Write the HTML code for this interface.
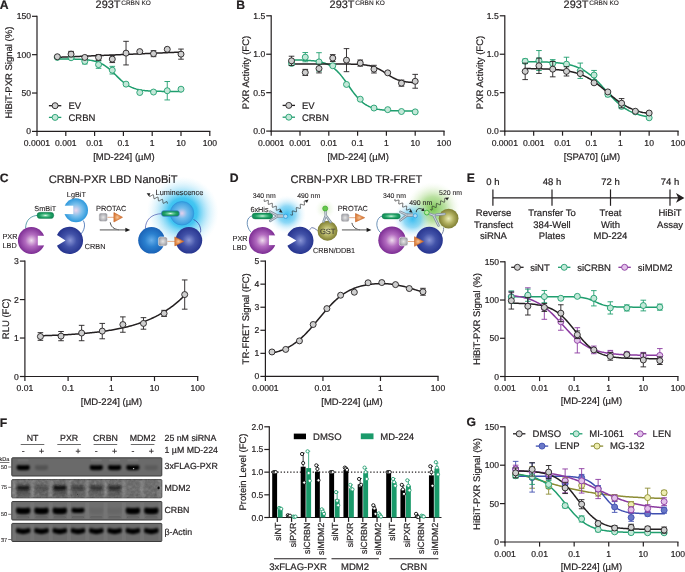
<!DOCTYPE html>
<html><head><meta charset="utf-8"><style>
html,body{margin:0;padding:0;background:#fff;width:685px;height:572px;overflow:hidden}
svg{display:block;will-change:transform}
text{font-family:"Liberation Sans",sans-serif;text-rendering:geometricPrecision}
</style></head><body>
<svg width="685" height="572" viewBox="0 0 685 572">
<defs>

<radialGradient id="gPu" cx="50%" cy="50%" r="50%"><stop offset="0" stop-color="#f0dcee"/><stop offset="0.45" stop-color="#b36cc0"/><stop offset="1" stop-color="#7d2d94"/></radialGradient>
<radialGradient id="gNv" cx="50%" cy="50%" r="50%"><stop offset="0" stop-color="#8a96d6"/><stop offset="0.5" stop-color="#4252a8"/><stop offset="1" stop-color="#27358f"/></radialGradient>
<radialGradient id="gBl" cx="50%" cy="50%" r="50%"><stop offset="0" stop-color="#66aeea"/><stop offset="0.5" stop-color="#2a80cf"/><stop offset="1" stop-color="#1a62b6"/></radialGradient>
<radialGradient id="gLg" cx="50%" cy="50%" r="50%"><stop offset="0" stop-color="#efd6ec"/><stop offset="0.5" stop-color="#7cc0ec"/><stop offset="1" stop-color="#2c98dc"/></radialGradient>
<radialGradient id="gLg2" cx="50%" cy="50%" r="50%"><stop offset="0" stop-color="#e4d0ec"/><stop offset="0.45" stop-color="#74bcec"/><stop offset="1" stop-color="#369ee0"/></radialGradient>
<radialGradient id="gOl" cx="50%" cy="50%" r="50%"><stop offset="0" stop-color="#ecedb8"/><stop offset="0.5" stop-color="#b3b262"/><stop offset="1" stop-color="#7e7d32"/></radialGradient>
<radialGradient id="gRod" cx="50%" cy="50%" r="50%"><stop offset="0" stop-color="#e6f6ee"/><stop offset="0.3" stop-color="#6ccc9c"/><stop offset="0.7" stop-color="#1fa064"/><stop offset="1" stop-color="#138c55"/></radialGradient>
<radialGradient id="gGray" cx="50%" cy="50%" r="55%"><stop offset="0" stop-color="#e6e6e6"/><stop offset="0.6" stop-color="#b8b8bc"/><stop offset="1" stop-color="#929298"/></radialGradient>
<radialGradient id="gOr" cx="40%" cy="50%" r="55%"><stop offset="0" stop-color="#f4c49a"/><stop offset="0.5" stop-color="#e49050"/><stop offset="1" stop-color="#d27030"/></radialGradient>
<radialGradient id="gGlowB" cx="50%" cy="50%" r="50%"><stop offset="0" stop-color="#18b4ee" stop-opacity="1"/><stop offset="0.4" stop-color="#30bff0" stop-opacity="0.9"/><stop offset="0.7" stop-color="#8ad8f6" stop-opacity="0.45"/><stop offset="1" stop-color="#d0f0fc" stop-opacity="0"/></radialGradient>
<radialGradient id="gGlowB2" cx="50%" cy="50%" r="50%"><stop offset="0" stop-color="#30baf0" stop-opacity="0.95"/><stop offset="0.45" stop-color="#60c8f2" stop-opacity="0.7"/><stop offset="0.75" stop-color="#a8e0f8" stop-opacity="0.3"/><stop offset="1" stop-color="#d8f2fc" stop-opacity="0"/></radialGradient>
<radialGradient id="gGlowG" cx="50%" cy="50%" r="50%"><stop offset="0" stop-color="#72c24a" stop-opacity="0.95"/><stop offset="0.45" stop-color="#9cd478" stop-opacity="0.7"/><stop offset="0.75" stop-color="#cce8b4" stop-opacity="0.35"/><stop offset="1" stop-color="#eef8e6" stop-opacity="0"/></radialGradient>
<radialGradient id="gGlowG2" cx="50%" cy="50%" r="50%"><stop offset="0" stop-color="#c0e4a0" stop-opacity="0.7"/><stop offset="1" stop-color="#eef8e6" stop-opacity="0"/></radialGradient>
<filter id="bl" x="-30%" y="-80%" width="160%" height="260%"><feGaussianBlur stdDeviation="0.7"/></filter>
<filter id="bl2" filterUnits="userSpaceOnUse" x="0" y="0" width="685" height="572"><feGaussianBlur stdDeviation="0.8"/></filter>
<filter id="noise" x="0" y="0" width="100%" height="100%"><feTurbulence type="fractalNoise" baseFrequency="0.35" numOctaves="2" seed="5"/><feColorMatrix type="saturate" values="0"/><feComponentTransfer><feFuncR type="linear" slope="1.6" intercept="-0.3"/><feFuncG type="linear" slope="1.6" intercept="-0.3"/><feFuncB type="linear" slope="1.6" intercept="-0.3"/></feComponentTransfer></filter>

</defs>
<text x="-0.30" y="8.80" font-size="12.2" text-anchor="start" fill="#231f20" stroke="#231f20" stroke-width="0.2" font-weight="bold">A</text>
<text x="95.60" y="8.40" font-size="10.9" text-anchor="start" fill="#231f20" stroke="#231f20" stroke-width="0.2">293T</text>
<text x="121.20" y="4.90" font-size="6.5" text-anchor="start" fill="#231f20" stroke="#231f20" stroke-width="0.1">CRBN KO</text>
<line x1="37.00" y1="15.70" x2="37.00" y2="132.00" stroke="#231f20" stroke-width="1.2"/>
<line x1="36.40" y1="131.40" x2="210.40" y2="131.40" stroke="#231f20" stroke-width="1.2"/>
<line x1="32.00" y1="131.40" x2="37.00" y2="131.40" stroke="#231f20" stroke-width="1.2"/>
<text x="31.00" y="134.40" font-size="8.6" text-anchor="end" fill="#231f20" stroke="#231f20" stroke-width="0.2">0</text>
<line x1="32.00" y1="93.03" x2="37.00" y2="93.03" stroke="#231f20" stroke-width="1.2"/>
<text x="31.00" y="96.03" font-size="8.6" text-anchor="end" fill="#231f20" stroke="#231f20" stroke-width="0.2">50</text>
<line x1="32.00" y1="54.67" x2="37.00" y2="54.67" stroke="#231f20" stroke-width="1.2"/>
<text x="31.00" y="57.67" font-size="8.6" text-anchor="end" fill="#231f20" stroke="#231f20" stroke-width="0.2">100</text>
<line x1="32.00" y1="16.30" x2="37.00" y2="16.30" stroke="#231f20" stroke-width="1.2"/>
<text x="31.00" y="19.30" font-size="8.6" text-anchor="end" fill="#231f20" stroke="#231f20" stroke-width="0.2">150</text>
<line x1="37.00" y1="131.40" x2="37.00" y2="136.00" stroke="#231f20" stroke-width="1.2"/>
<text x="37.00" y="146.00" font-size="8.6" text-anchor="middle" fill="#231f20" stroke="#231f20" stroke-width="0.2">0.0001</text>
<line x1="65.80" y1="131.40" x2="65.80" y2="136.00" stroke="#231f20" stroke-width="1.2"/>
<text x="65.80" y="146.00" font-size="8.6" text-anchor="middle" fill="#231f20" stroke="#231f20" stroke-width="0.2">0.001</text>
<line x1="94.60" y1="131.40" x2="94.60" y2="136.00" stroke="#231f20" stroke-width="1.2"/>
<text x="94.60" y="146.00" font-size="8.6" text-anchor="middle" fill="#231f20" stroke="#231f20" stroke-width="0.2">0.01</text>
<line x1="123.40" y1="131.40" x2="123.40" y2="136.00" stroke="#231f20" stroke-width="1.2"/>
<text x="123.40" y="146.00" font-size="8.6" text-anchor="middle" fill="#231f20" stroke="#231f20" stroke-width="0.2">0.1</text>
<line x1="152.20" y1="131.40" x2="152.20" y2="136.00" stroke="#231f20" stroke-width="1.2"/>
<text x="152.20" y="146.00" font-size="8.6" text-anchor="middle" fill="#231f20" stroke="#231f20" stroke-width="0.2">1</text>
<line x1="181.00" y1="131.40" x2="181.00" y2="136.00" stroke="#231f20" stroke-width="1.2"/>
<text x="181.00" y="146.00" font-size="8.6" text-anchor="middle" fill="#231f20" stroke="#231f20" stroke-width="0.2">10</text>
<line x1="209.80" y1="131.40" x2="209.80" y2="136.00" stroke="#231f20" stroke-width="1.2"/>
<text x="209.80" y="146.00" font-size="8.6" text-anchor="middle" fill="#231f20" stroke="#231f20" stroke-width="0.2">100</text>
<text x="11.80" y="72.60" font-size="9.5" text-anchor="middle" fill="#231f20" stroke="#231f20" stroke-width="0.2" transform="rotate(-90 11.80 72.60)">HiBiT-PXR Signal (%)</text>
<text x="123.90" y="159.70" font-size="9.5" text-anchor="middle" fill="#231f20" stroke="#231f20" stroke-width="0.2">[MD-224] (µM)</text>
<polyline points="56.29,58.94 57.33,58.94 58.38,58.95 59.43,58.95 60.48,58.96 61.52,58.96 62.57,58.97 63.62,58.97 64.67,58.98 65.71,58.99 66.76,59.00 67.81,59.01 68.85,59.02 69.90,59.04 70.95,59.05 72.00,59.07 73.04,59.09 74.09,59.12 75.14,59.14 76.19,59.17 77.23,59.21 78.28,59.25 79.33,59.29 80.38,59.34 81.42,59.40 82.47,59.46 83.52,59.53 84.56,59.62 85.61,59.71 86.66,59.81 87.71,59.93 88.75,60.06 89.80,60.22 90.85,60.38 91.90,60.57 92.94,60.79 93.99,61.03 95.04,61.29 96.08,61.59 97.13,61.92 98.18,62.29 99.23,62.69 100.27,63.14 101.32,63.63 102.37,64.17 103.42,64.76 104.46,65.40 105.51,66.09 106.56,66.83 107.60,67.62 108.65,68.46 109.70,69.35 110.75,70.27 111.79,71.24 112.84,72.23 113.89,73.25 114.94,74.28 115.98,75.32 117.03,76.36 118.08,77.39 119.12,78.40 120.17,79.39 121.22,80.35 122.27,81.26 123.31,82.14 124.36,82.97 125.41,83.75 126.46,84.48 127.50,85.16 128.55,85.79 129.60,86.36 130.65,86.89 131.69,87.38 132.74,87.81 133.79,88.21 134.83,88.57 135.88,88.89 136.93,89.18 137.98,89.44 139.02,89.68 140.07,89.89 141.12,90.07 142.17,90.24 143.21,90.38 144.26,90.51 145.31,90.63 146.35,90.73 147.40,90.82 148.45,90.90 149.50,90.97 150.54,91.03 151.59,91.09 152.64,91.14 153.69,91.18 154.73,91.22 155.78,91.25 156.83,91.28 157.87,91.31 158.92,91.33 159.97,91.35 161.02,91.37 162.06,91.38 163.11,91.40 164.16,91.41 165.21,91.42 166.25,91.43 167.30,91.44 168.35,91.44 169.40,91.45 170.44,91.46 171.49,91.46 172.54,91.47 173.58,91.47 174.63,91.47 175.68,91.48 176.73,91.48 177.77,91.48 178.82,91.48 179.87,91.49 180.92,91.49 181.96,91.49" fill="none" stroke="#1f9e6e" stroke-width="1.5" stroke-linejoin="round"/>
<polyline points="56.29,57.39 57.33,57.34 58.38,57.30 59.43,57.26 60.48,57.21 61.52,57.17 62.57,57.12 63.62,57.08 64.67,57.03 65.71,56.99 66.76,56.94 67.81,56.90 68.85,56.85 69.90,56.81 70.95,56.76 72.00,56.72 73.04,56.68 74.09,56.63 75.14,56.59 76.19,56.54 77.23,56.50 78.28,56.45 79.33,56.41 80.38,56.36 81.42,56.32 82.47,56.27 83.52,56.23 84.56,56.18 85.61,56.14 86.66,56.09 87.71,56.05 88.75,56.01 89.80,55.96 90.85,55.92 91.90,55.87 92.94,55.83 93.99,55.78 95.04,55.74 96.08,55.69 97.13,55.65 98.18,55.60 99.23,55.56 100.27,55.51 101.32,55.47 102.37,55.43 103.42,55.38 104.46,55.34 105.51,55.29 106.56,55.25 107.60,55.20 108.65,55.16 109.70,55.11 110.75,55.07 111.79,55.02 112.84,54.98 113.89,54.93 114.94,54.89 115.98,54.84 117.03,54.80 118.08,54.76 119.12,54.71 120.17,54.67 121.22,54.62 122.27,54.58 123.31,54.53 124.36,54.49 125.41,54.44 126.46,54.40 127.50,54.35 128.55,54.31 129.60,54.26 130.65,54.22 131.69,54.18 132.74,54.13 133.79,54.09 134.83,54.04 135.88,54.00 136.93,53.95 137.98,53.91 139.02,53.86 140.07,53.82 141.12,53.77 142.17,53.73 143.21,53.68 144.26,53.64 145.31,53.59 146.35,53.55 147.40,53.51 148.45,53.46 149.50,53.42 150.54,53.37 151.59,53.33 152.64,53.28 153.69,53.24 154.73,53.19 155.78,53.15 156.83,53.10 157.87,53.06 158.92,53.01 159.97,52.97 161.02,52.92 162.06,52.88 163.11,52.84 164.16,52.79 165.21,52.75 166.25,52.70 167.30,52.66 168.35,52.61 169.40,52.57 170.44,52.52 171.49,52.48 172.54,52.43 173.58,52.39 174.63,52.34 175.68,52.30 176.73,52.26 177.77,52.21 178.82,52.17 179.87,52.12 180.92,52.08 181.96,52.03" fill="none" stroke="#231f20" stroke-width="1.5" stroke-linejoin="round"/>
<line x1="84.81" y1="58.73" x2="84.81" y2="63.95" stroke="#1f9e6e" stroke-width="0.9"/>
<line x1="82.01" y1="58.73" x2="87.61" y2="58.73" stroke="#1f9e6e" stroke-width="0.9"/>
<line x1="82.01" y1="63.95" x2="87.61" y2="63.95" stroke="#1f9e6e" stroke-width="0.9"/>
<line x1="98.55" y1="60.96" x2="98.55" y2="68.33" stroke="#1f9e6e" stroke-width="0.9"/>
<line x1="95.75" y1="60.96" x2="101.35" y2="60.96" stroke="#1f9e6e" stroke-width="0.9"/>
<line x1="95.75" y1="68.33" x2="101.35" y2="68.33" stroke="#1f9e6e" stroke-width="0.9"/>
<line x1="112.29" y1="66.33" x2="112.29" y2="74.00" stroke="#1f9e6e" stroke-width="0.9"/>
<line x1="109.49" y1="66.33" x2="115.09" y2="66.33" stroke="#1f9e6e" stroke-width="0.9"/>
<line x1="109.49" y1="74.00" x2="115.09" y2="74.00" stroke="#1f9e6e" stroke-width="0.9"/>
<line x1="167.26" y1="81.52" x2="167.26" y2="99.94" stroke="#1f9e6e" stroke-width="0.9"/>
<line x1="164.46" y1="81.52" x2="170.06" y2="81.52" stroke="#1f9e6e" stroke-width="0.9"/>
<line x1="164.46" y1="99.94" x2="170.06" y2="99.94" stroke="#1f9e6e" stroke-width="0.9"/>
<circle cx="57.33" cy="57.43" r="3.0" fill="#c3e8d8" stroke="#1f9e6e" stroke-width="0.9"/>
<circle cx="71.07" cy="57.74" r="3.0" fill="#c3e8d8" stroke="#1f9e6e" stroke-width="0.9"/>
<circle cx="84.81" cy="61.34" r="3.0" fill="#c3e8d8" stroke="#1f9e6e" stroke-width="0.9"/>
<circle cx="98.55" cy="64.64" r="3.0" fill="#c3e8d8" stroke="#1f9e6e" stroke-width="0.9"/>
<circle cx="112.29" cy="70.17" r="3.0" fill="#c3e8d8" stroke="#1f9e6e" stroke-width="0.9"/>
<circle cx="126.04" cy="84.13" r="3.0" fill="#c3e8d8" stroke="#1f9e6e" stroke-width="0.9"/>
<circle cx="139.78" cy="92.50" r="3.0" fill="#c3e8d8" stroke="#1f9e6e" stroke-width="0.9"/>
<circle cx="153.52" cy="92.04" r="3.0" fill="#c3e8d8" stroke="#1f9e6e" stroke-width="0.9"/>
<circle cx="167.26" cy="90.73" r="3.0" fill="#c3e8d8" stroke="#1f9e6e" stroke-width="0.9"/>
<circle cx="181.00" cy="89.20" r="3.0" fill="#c3e8d8" stroke="#1f9e6e" stroke-width="0.9"/>
<line x1="71.07" y1="51.37" x2="71.07" y2="56.89" stroke="#231f20" stroke-width="0.9"/>
<line x1="68.27" y1="51.37" x2="73.87" y2="51.37" stroke="#231f20" stroke-width="0.9"/>
<line x1="68.27" y1="56.89" x2="73.87" y2="56.89" stroke="#231f20" stroke-width="0.9"/>
<line x1="98.55" y1="54.51" x2="98.55" y2="60.34" stroke="#231f20" stroke-width="0.9"/>
<line x1="95.75" y1="54.51" x2="101.35" y2="54.51" stroke="#231f20" stroke-width="0.9"/>
<line x1="95.75" y1="60.34" x2="101.35" y2="60.34" stroke="#231f20" stroke-width="0.9"/>
<line x1="112.29" y1="55.66" x2="112.29" y2="62.57" stroke="#231f20" stroke-width="0.9"/>
<line x1="109.49" y1="55.66" x2="115.09" y2="55.66" stroke="#231f20" stroke-width="0.9"/>
<line x1="109.49" y1="62.57" x2="115.09" y2="62.57" stroke="#231f20" stroke-width="0.9"/>
<line x1="126.04" y1="41.32" x2="126.04" y2="64.95" stroke="#231f20" stroke-width="0.9"/>
<line x1="123.24" y1="41.32" x2="128.84" y2="41.32" stroke="#231f20" stroke-width="0.9"/>
<line x1="123.24" y1="64.95" x2="128.84" y2="64.95" stroke="#231f20" stroke-width="0.9"/>
<line x1="153.52" y1="50.68" x2="153.52" y2="56.66" stroke="#231f20" stroke-width="0.9"/>
<line x1="150.72" y1="50.68" x2="156.32" y2="50.68" stroke="#231f20" stroke-width="0.9"/>
<line x1="150.72" y1="56.66" x2="156.32" y2="56.66" stroke="#231f20" stroke-width="0.9"/>
<line x1="181.00" y1="49.07" x2="181.00" y2="59.19" stroke="#231f20" stroke-width="0.9"/>
<line x1="178.20" y1="49.07" x2="183.80" y2="49.07" stroke="#231f20" stroke-width="0.9"/>
<line x1="178.20" y1="59.19" x2="183.80" y2="59.19" stroke="#231f20" stroke-width="0.9"/>
<circle cx="57.33" cy="56.74" r="3.0" fill="#cfcfcf" stroke="#231f20" stroke-width="0.9"/>
<circle cx="71.07" cy="54.13" r="3.0" fill="#cfcfcf" stroke="#231f20" stroke-width="0.9"/>
<circle cx="84.81" cy="57.43" r="3.0" fill="#cfcfcf" stroke="#231f20" stroke-width="0.9"/>
<circle cx="98.55" cy="57.43" r="3.0" fill="#cfcfcf" stroke="#231f20" stroke-width="0.9"/>
<circle cx="112.29" cy="59.12" r="3.0" fill="#cfcfcf" stroke="#231f20" stroke-width="0.9"/>
<circle cx="126.04" cy="53.13" r="3.0" fill="#cfcfcf" stroke="#231f20" stroke-width="0.9"/>
<circle cx="139.78" cy="51.60" r="3.0" fill="#cfcfcf" stroke="#231f20" stroke-width="0.9"/>
<circle cx="153.52" cy="53.67" r="3.0" fill="#cfcfcf" stroke="#231f20" stroke-width="0.9"/>
<circle cx="167.26" cy="49.30" r="3.0" fill="#cfcfcf" stroke="#231f20" stroke-width="0.9"/>
<circle cx="181.00" cy="54.13" r="3.0" fill="#cfcfcf" stroke="#231f20" stroke-width="0.9"/>
<line x1="48.90" y1="105.70" x2="61.30" y2="105.70" stroke="#231f20" stroke-width="1.3"/>
<circle cx="55.10" cy="105.70" r="3.0" fill="#cfcfcf" stroke="#231f20" stroke-width="0.9"/>
<text x="68.50" y="109.00" font-size="9.5" text-anchor="start" fill="#231f20" stroke="#231f20" stroke-width="0.2">EV</text>
<line x1="48.90" y1="117.40" x2="61.30" y2="117.40" stroke="#1f9e6e" stroke-width="1.3"/>
<circle cx="55.10" cy="117.40" r="3.0" fill="#c3e8d8" stroke="#1f9e6e" stroke-width="0.9"/>
<text x="68.50" y="120.70" font-size="9.5" text-anchor="start" fill="#231f20" stroke="#231f20" stroke-width="0.2">CRBN</text>
<text x="236.30" y="8.80" font-size="12.2" text-anchor="start" fill="#231f20" stroke="#231f20" stroke-width="0.2" font-weight="bold">B</text>
<text x="329.60" y="8.40" font-size="10.9" text-anchor="start" fill="#231f20" stroke="#231f20" stroke-width="0.2">293T</text>
<text x="355.20" y="4.90" font-size="6.5" text-anchor="start" fill="#231f20" stroke="#231f20" stroke-width="0.1">CRBN KO</text>
<line x1="271.20" y1="15.20" x2="271.20" y2="131.70" stroke="#231f20" stroke-width="1.2"/>
<line x1="270.60" y1="131.10" x2="444.60" y2="131.10" stroke="#231f20" stroke-width="1.2"/>
<line x1="266.20" y1="131.10" x2="271.20" y2="131.10" stroke="#231f20" stroke-width="1.2"/>
<text x="265.20" y="134.10" font-size="8.6" text-anchor="end" fill="#231f20" stroke="#231f20" stroke-width="0.2">0.0</text>
<line x1="266.20" y1="92.67" x2="271.20" y2="92.67" stroke="#231f20" stroke-width="1.2"/>
<text x="265.20" y="95.67" font-size="8.6" text-anchor="end" fill="#231f20" stroke="#231f20" stroke-width="0.2">0.5</text>
<line x1="266.20" y1="54.23" x2="271.20" y2="54.23" stroke="#231f20" stroke-width="1.2"/>
<text x="265.20" y="57.23" font-size="8.6" text-anchor="end" fill="#231f20" stroke="#231f20" stroke-width="0.2">1.0</text>
<line x1="266.20" y1="15.80" x2="271.20" y2="15.80" stroke="#231f20" stroke-width="1.2"/>
<text x="265.20" y="18.80" font-size="8.6" text-anchor="end" fill="#231f20" stroke="#231f20" stroke-width="0.2">1.5</text>
<line x1="271.20" y1="131.10" x2="271.20" y2="135.70" stroke="#231f20" stroke-width="1.2"/>
<text x="271.20" y="145.70" font-size="8.6" text-anchor="middle" fill="#231f20" stroke="#231f20" stroke-width="0.2">0.0001</text>
<line x1="300.00" y1="131.10" x2="300.00" y2="135.70" stroke="#231f20" stroke-width="1.2"/>
<text x="300.00" y="145.70" font-size="8.6" text-anchor="middle" fill="#231f20" stroke="#231f20" stroke-width="0.2">0.001</text>
<line x1="328.80" y1="131.10" x2="328.80" y2="135.70" stroke="#231f20" stroke-width="1.2"/>
<text x="328.80" y="145.70" font-size="8.6" text-anchor="middle" fill="#231f20" stroke="#231f20" stroke-width="0.2">0.01</text>
<line x1="357.60" y1="131.10" x2="357.60" y2="135.70" stroke="#231f20" stroke-width="1.2"/>
<text x="357.60" y="145.70" font-size="8.6" text-anchor="middle" fill="#231f20" stroke="#231f20" stroke-width="0.2">0.1</text>
<line x1="386.40" y1="131.10" x2="386.40" y2="135.70" stroke="#231f20" stroke-width="1.2"/>
<text x="386.40" y="145.70" font-size="8.6" text-anchor="middle" fill="#231f20" stroke="#231f20" stroke-width="0.2">1</text>
<line x1="415.20" y1="131.10" x2="415.20" y2="135.70" stroke="#231f20" stroke-width="1.2"/>
<text x="415.20" y="145.70" font-size="8.6" text-anchor="middle" fill="#231f20" stroke="#231f20" stroke-width="0.2">10</text>
<line x1="444.00" y1="131.10" x2="444.00" y2="135.70" stroke="#231f20" stroke-width="1.2"/>
<text x="444.00" y="145.70" font-size="8.6" text-anchor="middle" fill="#231f20" stroke="#231f20" stroke-width="0.2">100</text>
<text x="248.60" y="72.50" font-size="9.5" text-anchor="middle" fill="#231f20" stroke="#231f20" stroke-width="0.2" transform="rotate(-90 248.60 72.50)">PXR Activity (FC)</text>
<text x="358.10" y="159.70" font-size="9.5" text-anchor="middle" fill="#231f20" stroke="#231f20" stroke-width="0.2">[MD-224] (µM)</text>
<polyline points="290.49,59.92 291.53,59.93 292.58,59.94 293.63,59.95 294.68,59.97 295.72,59.98 296.77,60.00 297.82,60.02 298.87,60.04 299.91,60.07 300.96,60.09 302.01,60.12 303.05,60.16 304.10,60.20 305.15,60.24 306.20,60.29 307.24,60.34 308.29,60.41 309.34,60.48 310.39,60.55 311.43,60.64 312.48,60.74 313.53,60.85 314.58,60.97 315.62,61.11 316.67,61.26 317.72,61.43 318.76,61.62 319.81,61.83 320.86,62.07 321.91,62.34 322.95,62.63 324.00,62.96 325.05,63.32 326.10,63.72 327.14,64.16 328.19,64.65 329.24,65.19 330.28,65.77 331.33,66.42 332.38,67.12 333.43,67.89 334.47,68.72 335.52,69.61 336.57,70.58 337.62,71.61 338.66,72.71 339.71,73.87 340.76,75.10 341.80,76.39 342.85,77.73 343.90,79.12 344.95,80.56 345.99,82.02 347.04,83.51 348.09,85.01 349.14,86.51 350.18,88.01 351.23,89.49 352.28,90.94 353.32,92.36 354.37,93.73 355.42,95.05 356.47,96.32 357.51,97.52 358.56,98.66 359.61,99.73 360.66,100.73 361.70,101.67 362.75,102.54 363.80,103.34 364.85,104.08 365.89,104.76 366.94,105.38 367.99,105.95 369.03,106.46 370.08,106.93 371.13,107.36 372.18,107.74 373.22,108.09 374.27,108.40 375.32,108.68 376.37,108.94 377.41,109.16 378.46,109.37 379.51,109.55 380.55,109.71 381.60,109.86 382.65,109.99 383.70,110.11 384.74,110.21 385.79,110.30 386.84,110.39 387.89,110.46 388.93,110.53 389.98,110.58 391.03,110.64 392.07,110.68 393.12,110.72 394.17,110.76 395.22,110.80 396.26,110.82 397.31,110.85 398.36,110.87 399.41,110.89 400.45,110.91 401.50,110.93 402.55,110.94 403.60,110.96 404.64,110.97 405.69,110.98 406.74,110.99 407.78,111.00 408.83,111.00 409.88,111.01 410.93,111.02 411.97,111.02 413.02,111.02 414.07,111.03 415.12,111.03 416.16,111.04" fill="none" stroke="#1f9e6e" stroke-width="1.5" stroke-linejoin="round"/>
<polyline points="290.49,63.99 291.53,63.99 292.58,63.99 293.63,63.99 294.68,63.99 295.72,63.99 296.77,63.99 297.82,63.99 298.87,63.99 299.91,63.99 300.96,63.99 302.01,63.99 303.05,63.99 304.10,63.99 305.15,63.99 306.20,63.99 307.24,63.99 308.29,63.99 309.34,63.99 310.39,63.99 311.43,63.99 312.48,63.99 313.53,63.99 314.58,63.99 315.62,63.99 316.67,63.99 317.72,63.99 318.76,63.99 319.81,63.99 320.86,63.99 321.91,63.99 322.95,63.99 324.00,63.99 325.05,63.99 326.10,63.99 327.14,63.99 328.19,63.99 329.24,63.99 330.28,64.00 331.33,64.00 332.38,64.00 333.43,64.00 334.47,64.00 335.52,64.00 336.57,64.01 337.62,64.01 338.66,64.01 339.71,64.02 340.76,64.02 341.80,64.03 342.85,64.03 343.90,64.04 344.95,64.05 345.99,64.06 347.04,64.07 348.09,64.08 349.14,64.10 350.18,64.11 351.23,64.13 352.28,64.15 353.32,64.18 354.37,64.21 355.42,64.25 356.47,64.29 357.51,64.33 358.56,64.38 359.61,64.45 360.66,64.52 361.70,64.60 362.75,64.69 363.80,64.79 364.85,64.91 365.89,65.05 366.94,65.21 367.99,65.39 369.03,65.59 370.08,65.82 371.13,66.07 372.18,66.36 373.22,66.68 374.27,67.04 375.32,67.43 376.37,67.86 377.41,68.33 378.46,68.84 379.51,69.39 380.55,69.97 381.60,70.59 382.65,71.23 383.70,71.89 384.74,72.57 385.79,73.26 386.84,73.96 387.89,74.64 388.93,75.32 389.98,75.97 391.03,76.60 392.07,77.21 393.12,77.77 394.17,78.30 395.22,78.80 396.26,79.25 397.31,79.67 398.36,80.04 399.41,80.38 400.45,80.69 401.50,80.96 402.55,81.21 403.60,81.42 404.64,81.61 405.69,81.78 406.74,81.93 407.78,82.06 408.83,82.18 409.88,82.28 410.93,82.36 411.97,82.44 413.02,82.50 414.07,82.56 415.12,82.61 416.16,82.66" fill="none" stroke="#231f20" stroke-width="1.5" stroke-linejoin="round"/>
<line x1="291.53" y1="61.92" x2="291.53" y2="64.99" stroke="#1f9e6e" stroke-width="0.9"/>
<line x1="288.73" y1="61.92" x2="294.33" y2="61.92" stroke="#1f9e6e" stroke-width="0.9"/>
<line x1="288.73" y1="64.99" x2="294.33" y2="64.99" stroke="#1f9e6e" stroke-width="0.9"/>
<line x1="305.27" y1="52.54" x2="305.27" y2="61.77" stroke="#1f9e6e" stroke-width="0.9"/>
<line x1="302.47" y1="52.54" x2="308.07" y2="52.54" stroke="#1f9e6e" stroke-width="0.9"/>
<line x1="302.47" y1="61.77" x2="308.07" y2="61.77" stroke="#1f9e6e" stroke-width="0.9"/>
<line x1="319.01" y1="52.70" x2="319.01" y2="71.14" stroke="#1f9e6e" stroke-width="0.9"/>
<line x1="316.21" y1="52.70" x2="321.81" y2="52.70" stroke="#1f9e6e" stroke-width="0.9"/>
<line x1="316.21" y1="71.14" x2="321.81" y2="71.14" stroke="#1f9e6e" stroke-width="0.9"/>
<circle cx="291.53" cy="63.46" r="3.0" fill="#c3e8d8" stroke="#1f9e6e" stroke-width="0.9"/>
<circle cx="305.27" cy="57.15" r="3.0" fill="#c3e8d8" stroke="#1f9e6e" stroke-width="0.9"/>
<circle cx="319.01" cy="61.92" r="3.0" fill="#c3e8d8" stroke="#1f9e6e" stroke-width="0.9"/>
<circle cx="332.75" cy="65.76" r="3.0" fill="#c3e8d8" stroke="#1f9e6e" stroke-width="0.9"/>
<circle cx="346.49" cy="84.44" r="3.0" fill="#c3e8d8" stroke="#1f9e6e" stroke-width="0.9"/>
<circle cx="360.24" cy="99.20" r="3.0" fill="#c3e8d8" stroke="#1f9e6e" stroke-width="0.9"/>
<circle cx="373.98" cy="108.04" r="3.0" fill="#c3e8d8" stroke="#1f9e6e" stroke-width="0.9"/>
<circle cx="387.72" cy="109.65" r="3.0" fill="#c3e8d8" stroke="#1f9e6e" stroke-width="0.9"/>
<circle cx="401.46" cy="111.50" r="3.0" fill="#c3e8d8" stroke="#1f9e6e" stroke-width="0.9"/>
<circle cx="415.20" cy="111.88" r="3.0" fill="#c3e8d8" stroke="#1f9e6e" stroke-width="0.9"/>
<line x1="291.53" y1="56.23" x2="291.53" y2="65.46" stroke="#231f20" stroke-width="0.9"/>
<line x1="288.73" y1="56.23" x2="294.33" y2="56.23" stroke="#231f20" stroke-width="0.9"/>
<line x1="288.73" y1="65.46" x2="294.33" y2="65.46" stroke="#231f20" stroke-width="0.9"/>
<line x1="305.27" y1="69.38" x2="305.27" y2="75.53" stroke="#231f20" stroke-width="0.9"/>
<line x1="302.47" y1="69.38" x2="308.07" y2="69.38" stroke="#231f20" stroke-width="0.9"/>
<line x1="302.47" y1="75.53" x2="308.07" y2="75.53" stroke="#231f20" stroke-width="0.9"/>
<line x1="319.01" y1="64.15" x2="319.01" y2="72.91" stroke="#231f20" stroke-width="0.9"/>
<line x1="316.21" y1="64.15" x2="321.81" y2="64.15" stroke="#231f20" stroke-width="0.9"/>
<line x1="316.21" y1="72.91" x2="321.81" y2="72.91" stroke="#231f20" stroke-width="0.9"/>
<line x1="332.75" y1="54.62" x2="332.75" y2="61.54" stroke="#231f20" stroke-width="0.9"/>
<line x1="329.95" y1="54.62" x2="335.55" y2="54.62" stroke="#231f20" stroke-width="0.9"/>
<line x1="329.95" y1="61.54" x2="335.55" y2="61.54" stroke="#231f20" stroke-width="0.9"/>
<line x1="346.49" y1="48.62" x2="346.49" y2="71.68" stroke="#231f20" stroke-width="0.9"/>
<line x1="343.69" y1="48.62" x2="349.29" y2="48.62" stroke="#231f20" stroke-width="0.9"/>
<line x1="343.69" y1="71.68" x2="349.29" y2="71.68" stroke="#231f20" stroke-width="0.9"/>
<line x1="360.24" y1="60.00" x2="360.24" y2="66.15" stroke="#231f20" stroke-width="0.9"/>
<line x1="357.44" y1="60.00" x2="363.04" y2="60.00" stroke="#231f20" stroke-width="0.9"/>
<line x1="357.44" y1="66.15" x2="363.04" y2="66.15" stroke="#231f20" stroke-width="0.9"/>
<line x1="373.98" y1="65.30" x2="373.98" y2="72.99" stroke="#231f20" stroke-width="0.9"/>
<line x1="371.18" y1="65.30" x2="376.78" y2="65.30" stroke="#231f20" stroke-width="0.9"/>
<line x1="371.18" y1="72.99" x2="376.78" y2="72.99" stroke="#231f20" stroke-width="0.9"/>
<line x1="401.46" y1="80.06" x2="401.46" y2="86.21" stroke="#231f20" stroke-width="0.9"/>
<line x1="398.66" y1="80.06" x2="404.26" y2="80.06" stroke="#231f20" stroke-width="0.9"/>
<line x1="398.66" y1="86.21" x2="404.26" y2="86.21" stroke="#231f20" stroke-width="0.9"/>
<line x1="415.20" y1="74.37" x2="415.20" y2="88.21" stroke="#231f20" stroke-width="0.9"/>
<line x1="412.40" y1="74.37" x2="418.00" y2="74.37" stroke="#231f20" stroke-width="0.9"/>
<line x1="412.40" y1="88.21" x2="418.00" y2="88.21" stroke="#231f20" stroke-width="0.9"/>
<circle cx="291.53" cy="60.84" r="3.0" fill="#cfcfcf" stroke="#231f20" stroke-width="0.9"/>
<circle cx="305.27" cy="72.45" r="3.0" fill="#cfcfcf" stroke="#231f20" stroke-width="0.9"/>
<circle cx="319.01" cy="68.53" r="3.0" fill="#cfcfcf" stroke="#231f20" stroke-width="0.9"/>
<circle cx="332.75" cy="58.08" r="3.0" fill="#cfcfcf" stroke="#231f20" stroke-width="0.9"/>
<circle cx="346.49" cy="60.15" r="3.0" fill="#cfcfcf" stroke="#231f20" stroke-width="0.9"/>
<circle cx="360.24" cy="63.07" r="3.0" fill="#cfcfcf" stroke="#231f20" stroke-width="0.9"/>
<circle cx="373.98" cy="69.15" r="3.0" fill="#cfcfcf" stroke="#231f20" stroke-width="0.9"/>
<circle cx="387.72" cy="72.84" r="3.0" fill="#cfcfcf" stroke="#231f20" stroke-width="0.9"/>
<circle cx="401.46" cy="83.14" r="3.0" fill="#cfcfcf" stroke="#231f20" stroke-width="0.9"/>
<circle cx="415.20" cy="81.29" r="3.0" fill="#cfcfcf" stroke="#231f20" stroke-width="0.9"/>
<line x1="282.60" y1="105.40" x2="295.00" y2="105.40" stroke="#231f20" stroke-width="1.3"/>
<circle cx="288.80" cy="105.40" r="3.0" fill="#cfcfcf" stroke="#231f20" stroke-width="0.9"/>
<text x="301.90" y="108.70" font-size="9.5" text-anchor="start" fill="#231f20" stroke="#231f20" stroke-width="0.2">EV</text>
<line x1="282.60" y1="117.20" x2="295.00" y2="117.20" stroke="#1f9e6e" stroke-width="1.3"/>
<circle cx="288.80" cy="117.20" r="3.0" fill="#c3e8d8" stroke="#1f9e6e" stroke-width="0.9"/>
<text x="301.90" y="120.50" font-size="9.5" text-anchor="start" fill="#231f20" stroke="#231f20" stroke-width="0.2">CRBN</text>
<text x="563.60" y="8.40" font-size="10.9" text-anchor="start" fill="#231f20" stroke="#231f20" stroke-width="0.2">293T</text>
<text x="589.20" y="4.90" font-size="6.5" text-anchor="start" fill="#231f20" stroke="#231f20" stroke-width="0.1">CRBN KO</text>
<line x1="504.80" y1="15.20" x2="504.80" y2="131.70" stroke="#231f20" stroke-width="1.2"/>
<line x1="504.20" y1="131.10" x2="678.62" y2="131.10" stroke="#231f20" stroke-width="1.2"/>
<line x1="499.80" y1="131.10" x2="504.80" y2="131.10" stroke="#231f20" stroke-width="1.2"/>
<text x="498.80" y="134.10" font-size="8.6" text-anchor="end" fill="#231f20" stroke="#231f20" stroke-width="0.2">0.0</text>
<line x1="499.80" y1="92.67" x2="504.80" y2="92.67" stroke="#231f20" stroke-width="1.2"/>
<text x="498.80" y="95.67" font-size="8.6" text-anchor="end" fill="#231f20" stroke="#231f20" stroke-width="0.2">0.5</text>
<line x1="499.80" y1="54.23" x2="504.80" y2="54.23" stroke="#231f20" stroke-width="1.2"/>
<text x="498.80" y="57.23" font-size="8.6" text-anchor="end" fill="#231f20" stroke="#231f20" stroke-width="0.2">1.0</text>
<line x1="499.80" y1="15.80" x2="504.80" y2="15.80" stroke="#231f20" stroke-width="1.2"/>
<text x="498.80" y="18.80" font-size="8.6" text-anchor="end" fill="#231f20" stroke="#231f20" stroke-width="0.2">1.5</text>
<line x1="504.80" y1="131.10" x2="504.80" y2="135.70" stroke="#231f20" stroke-width="1.2"/>
<text x="504.80" y="145.70" font-size="8.6" text-anchor="middle" fill="#231f20" stroke="#231f20" stroke-width="0.2">0.0001</text>
<line x1="533.67" y1="131.10" x2="533.67" y2="135.70" stroke="#231f20" stroke-width="1.2"/>
<text x="533.67" y="145.70" font-size="8.6" text-anchor="middle" fill="#231f20" stroke="#231f20" stroke-width="0.2">0.001</text>
<line x1="562.54" y1="131.10" x2="562.54" y2="135.70" stroke="#231f20" stroke-width="1.2"/>
<text x="562.54" y="145.70" font-size="8.6" text-anchor="middle" fill="#231f20" stroke="#231f20" stroke-width="0.2">0.01</text>
<line x1="591.41" y1="131.10" x2="591.41" y2="135.70" stroke="#231f20" stroke-width="1.2"/>
<text x="591.41" y="145.70" font-size="8.6" text-anchor="middle" fill="#231f20" stroke="#231f20" stroke-width="0.2">0.1</text>
<line x1="620.28" y1="131.10" x2="620.28" y2="135.70" stroke="#231f20" stroke-width="1.2"/>
<text x="620.28" y="145.70" font-size="8.6" text-anchor="middle" fill="#231f20" stroke="#231f20" stroke-width="0.2">1</text>
<line x1="649.15" y1="131.10" x2="649.15" y2="135.70" stroke="#231f20" stroke-width="1.2"/>
<text x="649.15" y="145.70" font-size="8.6" text-anchor="middle" fill="#231f20" stroke="#231f20" stroke-width="0.2">10</text>
<line x1="678.02" y1="131.10" x2="678.02" y2="135.70" stroke="#231f20" stroke-width="1.2"/>
<text x="678.02" y="145.70" font-size="8.6" text-anchor="middle" fill="#231f20" stroke="#231f20" stroke-width="0.2">100</text>
<text x="482.90" y="72.50" font-size="9.5" text-anchor="middle" fill="#231f20" stroke="#231f20" stroke-width="0.2" transform="rotate(-90 482.90 72.50)">PXR Activity (FC)</text>
<text x="591.91" y="159.70" font-size="9.5" text-anchor="middle" fill="#231f20" stroke="#231f20" stroke-width="0.2">[SPA70] (µM)</text>
<polyline points="524.13,61.59 525.18,61.60 526.23,61.61 527.28,61.62 528.33,61.63 529.38,61.64 530.43,61.66 531.48,61.67 532.53,61.69 533.58,61.70 534.63,61.72 535.68,61.74 536.73,61.76 537.78,61.78 538.83,61.81 539.88,61.83 540.93,61.86 541.98,61.90 543.03,61.93 544.08,61.97 545.13,62.01 546.18,62.05 547.23,62.10 548.28,62.15 549.33,62.20 550.38,62.26 551.43,62.33 552.48,62.40 553.53,62.48 554.58,62.56 555.63,62.65 556.68,62.74 557.73,62.85 558.78,62.96 559.83,63.08 560.88,63.21 561.93,63.36 562.98,63.51 564.03,63.67 565.08,63.85 566.13,64.04 567.18,64.25 568.23,64.47 569.28,64.71 570.33,64.97 571.38,65.25 572.43,65.54 573.48,65.86 574.53,66.20 575.58,66.57 576.63,66.96 577.68,67.38 578.73,67.82 579.78,68.30 580.83,68.80 581.88,69.34 582.93,69.91 583.98,70.51 585.02,71.15 586.07,71.82 587.12,72.53 588.17,73.28 589.22,74.06 590.27,74.88 591.32,75.73 592.37,76.63 593.42,77.55 594.47,78.51 595.52,79.50 596.57,80.53 597.62,81.58 598.67,82.65 599.72,83.75 600.77,84.87 601.82,86.01 602.87,87.16 603.92,88.32 604.97,89.48 606.02,90.65 607.07,91.82 608.12,92.98 609.17,94.13 610.22,95.26 611.27,96.38 612.32,97.48 613.37,98.56 614.42,99.61 615.47,100.64 616.52,101.63 617.57,102.59 618.62,103.52 619.67,104.41 620.72,105.27 621.77,106.09 622.82,106.88 623.87,107.62 624.92,108.33 625.97,109.01 627.02,109.65 628.07,110.25 629.12,110.82 630.17,111.36 631.22,111.87 632.27,112.35 633.32,112.79 634.37,113.21 635.42,113.60 636.47,113.97 637.52,114.31 638.57,114.63 639.62,114.93 640.67,115.21 641.72,115.47 642.77,115.71 643.82,115.93 644.87,116.14 645.92,116.33 646.97,116.51 648.02,116.67 649.07,116.83 650.11,116.97" fill="none" stroke="#1f9e6e" stroke-width="1.5" stroke-linejoin="round"/>
<polyline points="524.13,68.55 525.18,68.56 526.23,68.57 527.28,68.58 528.33,68.60 529.38,68.61 530.43,68.62 531.48,68.64 532.53,68.65 533.58,68.67 534.63,68.69 535.68,68.71 536.73,68.73 537.78,68.75 538.83,68.77 539.88,68.80 540.93,68.83 541.98,68.86 543.03,68.89 544.08,68.93 545.13,68.96 546.18,69.01 547.23,69.05 548.28,69.10 549.33,69.15 550.38,69.20 551.43,69.26 552.48,69.33 553.53,69.40 554.58,69.47 555.63,69.55 556.68,69.63 557.73,69.73 558.78,69.82 559.83,69.93 560.88,70.04 561.93,70.17 562.98,70.30 564.03,70.44 565.08,70.59 566.13,70.75 567.18,70.92 568.23,71.11 569.28,71.31 570.33,71.52 571.38,71.74 572.43,71.98 573.48,72.24 574.53,72.52 575.58,72.81 576.63,73.12 577.68,73.45 578.73,73.80 579.78,74.17 580.83,74.57 581.88,74.98 582.93,75.42 583.98,75.89 585.02,76.38 586.07,76.89 587.12,77.43 588.17,78.00 589.22,78.59 590.27,79.21 591.32,79.85 592.37,80.53 593.42,81.22 594.47,81.94 595.52,82.69 596.57,83.45 597.62,84.24 598.67,85.05 599.72,85.88 600.77,86.73 601.82,87.58 602.87,88.46 603.92,89.34 604.97,90.23 606.02,91.12 607.07,92.02 608.12,92.92 609.17,93.82 610.22,94.71 611.27,95.59 612.32,96.46 613.37,97.32 614.42,98.17 615.47,99.00 616.52,99.81 617.57,100.61 618.62,101.38 619.67,102.13 620.72,102.85 621.77,103.55 622.82,104.23 623.87,104.88 624.92,105.50 625.97,106.10 627.02,106.67 628.07,107.21 629.12,107.73 630.17,108.22 631.22,108.69 632.27,109.14 633.32,109.56 634.37,109.95 635.42,110.33 636.47,110.68 637.52,111.02 638.57,111.33 639.62,111.63 640.67,111.90 641.72,112.16 642.77,112.41 643.82,112.63 644.87,112.85 645.92,113.05 646.97,113.24 648.02,113.41 649.07,113.57 650.11,113.73" fill="none" stroke="#231f20" stroke-width="1.5" stroke-linejoin="round"/>
<line x1="525.18" y1="59.00" x2="525.18" y2="63.61" stroke="#1f9e6e" stroke-width="0.9"/>
<line x1="522.38" y1="59.00" x2="527.98" y2="59.00" stroke="#1f9e6e" stroke-width="0.9"/>
<line x1="522.38" y1="63.61" x2="527.98" y2="63.61" stroke="#1f9e6e" stroke-width="0.9"/>
<line x1="538.95" y1="50.54" x2="538.95" y2="70.53" stroke="#1f9e6e" stroke-width="0.9"/>
<line x1="536.15" y1="50.54" x2="541.75" y2="50.54" stroke="#1f9e6e" stroke-width="0.9"/>
<line x1="536.15" y1="70.53" x2="541.75" y2="70.53" stroke="#1f9e6e" stroke-width="0.9"/>
<line x1="552.73" y1="59.61" x2="552.73" y2="67.30" stroke="#1f9e6e" stroke-width="0.9"/>
<line x1="549.93" y1="59.61" x2="555.53" y2="59.61" stroke="#1f9e6e" stroke-width="0.9"/>
<line x1="549.93" y1="67.30" x2="555.53" y2="67.30" stroke="#1f9e6e" stroke-width="0.9"/>
<line x1="566.50" y1="57.23" x2="566.50" y2="71.07" stroke="#1f9e6e" stroke-width="0.9"/>
<line x1="563.70" y1="57.23" x2="569.30" y2="57.23" stroke="#1f9e6e" stroke-width="0.9"/>
<line x1="563.70" y1="71.07" x2="569.30" y2="71.07" stroke="#1f9e6e" stroke-width="0.9"/>
<line x1="580.28" y1="63.07" x2="580.28" y2="78.45" stroke="#1f9e6e" stroke-width="0.9"/>
<line x1="577.48" y1="63.07" x2="583.08" y2="63.07" stroke="#1f9e6e" stroke-width="0.9"/>
<line x1="577.48" y1="78.45" x2="583.08" y2="78.45" stroke="#1f9e6e" stroke-width="0.9"/>
<line x1="594.05" y1="70.45" x2="594.05" y2="79.68" stroke="#1f9e6e" stroke-width="0.9"/>
<line x1="591.25" y1="70.45" x2="596.85" y2="70.45" stroke="#1f9e6e" stroke-width="0.9"/>
<line x1="591.25" y1="79.68" x2="596.85" y2="79.68" stroke="#1f9e6e" stroke-width="0.9"/>
<line x1="607.83" y1="92.05" x2="607.83" y2="96.66" stroke="#1f9e6e" stroke-width="0.9"/>
<line x1="605.03" y1="92.05" x2="610.63" y2="92.05" stroke="#1f9e6e" stroke-width="0.9"/>
<line x1="605.03" y1="96.66" x2="610.63" y2="96.66" stroke="#1f9e6e" stroke-width="0.9"/>
<line x1="621.60" y1="104.04" x2="621.60" y2="108.65" stroke="#1f9e6e" stroke-width="0.9"/>
<line x1="618.80" y1="104.04" x2="624.40" y2="104.04" stroke="#1f9e6e" stroke-width="0.9"/>
<line x1="618.80" y1="108.65" x2="624.40" y2="108.65" stroke="#1f9e6e" stroke-width="0.9"/>
<circle cx="525.18" cy="61.31" r="3.0" fill="#c3e8d8" stroke="#1f9e6e" stroke-width="0.9"/>
<circle cx="538.95" cy="60.54" r="3.0" fill="#c3e8d8" stroke="#1f9e6e" stroke-width="0.9"/>
<circle cx="552.73" cy="63.46" r="3.0" fill="#c3e8d8" stroke="#1f9e6e" stroke-width="0.9"/>
<circle cx="566.50" cy="64.15" r="3.0" fill="#c3e8d8" stroke="#1f9e6e" stroke-width="0.9"/>
<circle cx="580.28" cy="70.76" r="3.0" fill="#c3e8d8" stroke="#1f9e6e" stroke-width="0.9"/>
<circle cx="594.05" cy="75.06" r="3.0" fill="#c3e8d8" stroke="#1f9e6e" stroke-width="0.9"/>
<circle cx="607.83" cy="94.36" r="3.0" fill="#c3e8d8" stroke="#1f9e6e" stroke-width="0.9"/>
<circle cx="621.60" cy="106.35" r="3.0" fill="#c3e8d8" stroke="#1f9e6e" stroke-width="0.9"/>
<circle cx="635.38" cy="111.88" r="3.0" fill="#c3e8d8" stroke="#1f9e6e" stroke-width="0.9"/>
<circle cx="649.15" cy="117.80" r="3.0" fill="#c3e8d8" stroke="#1f9e6e" stroke-width="0.9"/>
<line x1="525.18" y1="63.15" x2="525.18" y2="79.60" stroke="#231f20" stroke-width="0.9"/>
<line x1="522.38" y1="63.15" x2="527.98" y2="63.15" stroke="#231f20" stroke-width="0.9"/>
<line x1="522.38" y1="79.60" x2="527.98" y2="79.60" stroke="#231f20" stroke-width="0.9"/>
<line x1="538.95" y1="58.08" x2="538.95" y2="73.45" stroke="#231f20" stroke-width="0.9"/>
<line x1="536.15" y1="58.08" x2="541.75" y2="58.08" stroke="#231f20" stroke-width="0.9"/>
<line x1="536.15" y1="73.45" x2="541.75" y2="73.45" stroke="#231f20" stroke-width="0.9"/>
<line x1="552.73" y1="61.46" x2="552.73" y2="76.83" stroke="#231f20" stroke-width="0.9"/>
<line x1="549.93" y1="61.46" x2="555.53" y2="61.46" stroke="#231f20" stroke-width="0.9"/>
<line x1="549.93" y1="76.83" x2="555.53" y2="76.83" stroke="#231f20" stroke-width="0.9"/>
<line x1="566.50" y1="66.76" x2="566.50" y2="75.99" stroke="#231f20" stroke-width="0.9"/>
<line x1="563.70" y1="66.76" x2="569.30" y2="66.76" stroke="#231f20" stroke-width="0.9"/>
<line x1="563.70" y1="75.99" x2="569.30" y2="75.99" stroke="#231f20" stroke-width="0.9"/>
<line x1="621.60" y1="98.59" x2="621.60" y2="107.81" stroke="#231f20" stroke-width="0.9"/>
<line x1="618.80" y1="98.59" x2="624.40" y2="98.59" stroke="#231f20" stroke-width="0.9"/>
<line x1="618.80" y1="107.81" x2="624.40" y2="107.81" stroke="#231f20" stroke-width="0.9"/>
<circle cx="525.18" cy="71.37" r="3.0" fill="#cfcfcf" stroke="#231f20" stroke-width="0.9"/>
<circle cx="538.95" cy="65.76" r="3.0" fill="#cfcfcf" stroke="#231f20" stroke-width="0.9"/>
<circle cx="552.73" cy="69.15" r="3.0" fill="#cfcfcf" stroke="#231f20" stroke-width="0.9"/>
<circle cx="566.50" cy="71.37" r="3.0" fill="#cfcfcf" stroke="#231f20" stroke-width="0.9"/>
<circle cx="580.28" cy="73.60" r="3.0" fill="#cfcfcf" stroke="#231f20" stroke-width="0.9"/>
<circle cx="594.05" cy="82.83" r="3.0" fill="#cfcfcf" stroke="#231f20" stroke-width="0.9"/>
<circle cx="607.83" cy="91.90" r="3.0" fill="#cfcfcf" stroke="#231f20" stroke-width="0.9"/>
<circle cx="621.60" cy="103.20" r="3.0" fill="#cfcfcf" stroke="#231f20" stroke-width="0.9"/>
<circle cx="635.38" cy="111.27" r="3.0" fill="#cfcfcf" stroke="#231f20" stroke-width="0.9"/>
<circle cx="649.15" cy="113.04" r="3.0" fill="#cfcfcf" stroke="#231f20" stroke-width="0.9"/>
<text x="-0.30" y="181.80" font-size="12.2" text-anchor="start" fill="#231f20" stroke="#231f20" stroke-width="0.2" font-weight="bold">C</text>
<text x="48.70" y="183.40" font-size="11.1" text-anchor="start" fill="#231f20" stroke="#231f20" stroke-width="0.2">CRBN-PXR LBD NanoBiT</text>
<path d="M38.5,215.3 C31,215.5 25.5,220 25.6,228.5" fill="none" stroke="#3a8a98" stroke-width="0.8"/>
<path d="M83.2,220.5 C86,225 84,231 80.5,234.5" fill="none" stroke="#3a68b0" stroke-width="0.8"/>
<circle cx="76.00" cy="210.30" r="12.00" fill="url(#gLg)"/>
<rect x="63.50" y="205.70" width="9.80" height="8.40" fill="#fff"/>
<text x="76.40" y="196.60" font-size="7.3" text-anchor="middle" fill="#231f20" stroke="#231f20" stroke-width="0.1">LgBiT</text>
<rect x="37.00" y="212.30" width="16.80" height="6.20" rx="3.10" fill="url(#gRod)" stroke="#127a52" stroke-width="0.4"/>
<text x="45.30" y="211.00" font-size="7.3" text-anchor="middle" fill="#231f20" stroke="#231f20" stroke-width="0.1">SmBiT</text>
<circle cx="31.40" cy="240.50" r="13.50" fill="url(#gPu)"/>
<rect x="37.80" y="235.80" width="8.00" height="9.60" fill="#fff"/>
<text x="2.50" y="238.90" font-size="7.3" text-anchor="start" fill="#231f20" stroke="#231f20" stroke-width="0.1">PXR</text>
<text x="2.50" y="247.70" font-size="7.3" text-anchor="start" fill="#231f20" stroke="#231f20" stroke-width="0.1">LBD</text>
<path d="M65.50,240.40 L56.98,235.09 A13.60,13.60 0 1 1 56.98,245.71 Z" fill="url(#gNv)"/>
<text x="84.80" y="249.20" font-size="7.3" text-anchor="start" fill="#231f20" stroke="#231f20" stroke-width="0.1">CRBN</text>
<text x="111.20" y="210.80" font-size="7.4" text-anchor="middle" fill="#231f20" stroke="#231f20" stroke-width="0.1">PROTAC</text>
<rect x="98.90" y="213.00" width="8.60" height="8.60" rx="2.0" fill="url(#gGray)" stroke="#fff" stroke-width="0.5"/>
<line x1="107.50" y1="217.30" x2="114.40" y2="217.30" stroke="#e0a27a" stroke-width="0.9"/>
<polygon points="113.90,212.60 122.50,217.30 113.90,222.00" fill="url(#gOr)" stroke="#c8662a" stroke-width="0.6" stroke-linejoin="round"/>
<path d="M110.2,222.3 C111,227 114,229.2 119,229.8" fill="none" stroke="#222" stroke-width="0.8"/>
<line x1="99.80" y1="229.90" x2="127.20" y2="229.90" stroke="#7a7a7a" stroke-width="1.3"/>
<polygon points="130.20,229.90 125.40,227.70 125.40,232.10" fill="#1a1a1a"/>
<circle cx="182.70" cy="212.50" r="36.00" fill="url(#gGlowB)"/>
<path d="M162.0,213.6 C151,214 145.5,220 145.3,229.0" fill="none" stroke="#5a6ab8" stroke-width="0.8"/>
<path d="M193.5,219.5 C199,222 201.5,228 200.5,232.5" fill="none" stroke="#3a4aa8" stroke-width="0.8"/>
<circle cx="151.50" cy="240.30" r="13.30" fill="url(#gBl)"/>
<circle cx="188.90" cy="240.30" r="13.30" fill="url(#gNv)"/>
<circle cx="182.0" cy="213.3" r="11.8" fill="url(#gLg2)" stroke="#2e8fd6" stroke-width="0.6"/>
<rect x="161.6" y="210.8" width="17.6" height="5.5" rx="2.0" fill="url(#gRod)" stroke="#3a7ac8" stroke-width="0.7"/>
<rect x="158.40" y="236.90" width="9.00" height="9.00" rx="2.0" fill="url(#gGray)" stroke="#fff" stroke-width="0.5"/>
<line x1="167.40" y1="241.40" x2="175.30" y2="241.40" stroke="#e0a27a" stroke-width="0.9"/>
<polygon points="174.80,236.90 183.80,241.40 174.80,245.90" fill="url(#gOr)" stroke="#c8662a" stroke-width="0.6" stroke-linejoin="round"/>
<text x="155.60" y="194.60" font-size="7.4" text-anchor="start" fill="#231f20" stroke="#231f20" stroke-width="0.1">Luminescence</text>
<polyline points="167.40,203.60 167.35,203.12 167.30,202.66 167.22,202.25 167.11,201.89 166.97,201.60 166.65,201.66 166.30,201.79 165.92,201.98 165.52,202.21 165.11,202.46 164.70,202.71 164.30,202.93 163.92,203.12 163.57,203.25 163.25,203.32 163.11,203.02 163.01,202.66 162.93,202.25 162.87,201.79 162.83,201.31 162.78,200.83 162.72,200.38 162.64,199.96 162.54,199.60 162.40,199.31 162.08,199.37 161.73,199.50 161.35,199.69 160.95,199.92 160.54,200.17 160.13,200.42 159.73,200.65 159.35,200.83 159.00,200.97 158.68,201.03 158.54,200.74 158.43,200.38 158.36,199.96 158.30,199.50 158.25,199.03 158.21,198.55 158.15,198.09 158.07,197.67 157.96,197.32 157.82,197.02 157.51,197.09 157.16,197.22 156.78,197.40 156.38,197.63 155.97,197.88 155.55,198.13 155.15,198.36 154.78,198.55 154.42,198.68 154.11,198.74 153.97,198.45 153.86,198.09 153.78,197.67 153.72,197.22 153.68,196.74 153.63,196.26 153.57,195.80 153.50,195.39 153.39,195.03 153.25,194.74 152.93,194.80 152.58,194.93 152.20,195.12 151.80,195.35 151.39,195.60 150.98,195.85 150.58,196.07 150.20,196.26 149.85,196.39 149.53,196.46 149.39,196.16 149.29,195.80 149.21,195.39 149.15,194.93 149.10,194.45" fill="none" stroke="#222" stroke-width="0.7" stroke-linejoin="round"/>
<polygon points="146.60,193.20 150.36,193.29 148.93,196.15" fill="#222"/>
<text x="229.80" y="181.80" font-size="12.2" text-anchor="start" fill="#231f20" stroke="#231f20" stroke-width="0.2" font-weight="bold">D</text>
<text x="290.50" y="183.40" font-size="11.0" text-anchor="start" fill="#231f20" stroke="#231f20" stroke-width="0.2">CRBN-PXR LBD TR-FRET</text>
<circle cx="287.00" cy="214.50" r="19.00" fill="url(#gGlowB2)"/>
<circle cx="325.20" cy="209.00" r="10.00" fill="url(#gGlowG2)"/>
<text x="252.70" y="197.80" font-size="6.9" text-anchor="start" fill="#231f20" stroke="#231f20" stroke-width="0.1">340 nm</text>
<text x="297.20" y="197.80" font-size="6.9" text-anchor="start" fill="#231f20" stroke="#231f20" stroke-width="0.1">490 nm</text>
<polyline points="264.30,199.40 264.26,199.88 264.23,200.33 264.24,200.75 264.27,201.12 264.36,201.43 264.68,201.41 265.04,201.34 265.44,201.21 265.86,201.05 266.31,200.87 266.75,200.69 267.17,200.52 267.57,200.40 267.93,200.33 268.25,200.31 268.34,200.62 268.37,200.99 268.38,201.41 268.35,201.86 268.31,202.34 268.27,202.81 268.24,203.27 268.25,203.69 268.28,204.05 268.37,204.36 268.69,204.35 269.05,204.27 269.45,204.15 269.87,203.99 270.32,203.80 270.76,203.62 271.18,203.46 271.58,203.34 271.94,203.26 272.26,203.25 272.35,203.56 272.38,203.92 272.39,204.34 272.36,204.80 272.32,205.27 272.28,205.75 272.25,206.20 272.26,206.62 272.29,206.99 272.38,207.30 272.70,207.28 273.06,207.21 273.46,207.09 273.88,206.92 274.33,206.74 274.77,206.56 275.19,206.40 275.59,206.27 275.96,206.20 276.27,206.18 276.36,206.49 276.40,206.86 276.40,207.28 276.37,207.73 276.33,208.21 276.29,208.68 276.26,209.14 276.27,209.56 276.31,209.93 276.39,210.23 276.71,210.22 277.07,210.15 277.47,210.02 277.89,209.86 278.34,209.68 278.78,209.50 279.20,209.33 279.60,209.21 279.97,209.13 280.28,209.12 280.37,209.43 280.41,209.80 280.41,210.21 280.38,210.67 280.34,211.15" fill="none" stroke="#222" stroke-width="0.7" stroke-linejoin="round"/>
<polygon points="282.60,212.80 278.91,212.08 280.80,209.50" fill="#222"/>
<polyline points="290.40,214.70 290.86,214.84 291.31,214.97 291.72,215.06 292.10,215.10 292.43,215.09 292.50,214.77 292.52,214.39 292.50,213.97 292.46,213.50 292.39,213.03 292.33,212.55 292.29,212.08 292.27,211.66 292.29,211.28 292.36,210.96 292.69,210.95 293.07,210.99 293.48,211.08 293.93,211.21 294.39,211.35 294.85,211.49 295.30,211.62 295.71,211.71 296.09,211.75 296.42,211.74 296.49,211.42 296.51,211.04 296.49,210.62 296.45,210.15 296.38,209.68 296.32,209.20 296.27,208.74 296.26,208.31 296.28,207.93 296.35,207.61 296.68,207.60 297.05,207.64 297.47,207.73 297.92,207.86 298.38,208.00 298.84,208.14 299.28,208.27 299.70,208.36 300.08,208.40 300.40,208.39 300.48,208.07 300.50,207.69 300.48,207.27 300.43,206.80 300.37,206.33 300.31,205.85 300.26,205.39 300.25,204.96 300.27,204.58 300.34,204.26 300.67,204.25 301.04,204.29 301.46,204.38 301.91,204.51 302.37,204.65 302.83,204.79 303.27,204.92 303.69,205.01 304.07,205.05 304.39,205.04 304.46,204.72 304.49,204.34 304.47,203.92 304.42,203.45 304.36,202.98 304.30,202.50 304.25,202.04 304.23,201.61 304.26,201.23 304.33,200.91 304.66,200.90 305.03,200.94 305.45,201.03 305.89,201.16 306.36,201.30" fill="none" stroke="#222" stroke-width="0.7" stroke-linejoin="round"/>
<polygon points="308.50,199.50 306.93,202.91 304.87,200.46" fill="#222"/>
<path d="M252.5,215.8 C246,217 245.5,226 250.8,232.0" fill="none" stroke="#4a78a8" stroke-width="0.8"/>
<rect x="252.10" y="213.10" width="20.60" height="5.80" rx="2.90" fill="url(#gRod)" stroke="#127a52" stroke-width="0.4"/>
<path d="M270.20,211.70 L277.90,216.00 M270.20,220.90 L277.90,216.00" fill="none" stroke="#8695a2" stroke-width="2.6" stroke-linecap="round"/>
<path d="M270.20,211.70 L277.90,216.00 M270.20,220.90 L277.90,216.00" fill="none" stroke="#d2dae2" stroke-width="0.9" stroke-linecap="round"/>
<rect x="277.40" y="214.30" width="6.00" height="3.4" fill="#8695a2"/>
<rect x="277.90" y="215.50" width="5.50" height="1.0" fill="#e4eaf0"/>
<circle cx="285.6" cy="216.3" r="2.1" fill="#b0dcf4" stroke="#2f9ede" stroke-width="0.8"/>
<text x="250.40" y="211.90" font-size="7.3" text-anchor="start" fill="#231f20" stroke="#231f20" stroke-width="0.1">6xHis</text>
<circle cx="262.40" cy="240.40" r="13.50" fill="url(#gPu)"/>
<rect x="268.90" y="235.40" width="8.00" height="9.70" fill="#fff"/>
<text x="232.60" y="240.60" font-size="7.3" text-anchor="start" fill="#231f20" stroke="#231f20" stroke-width="0.1">PXR</text>
<text x="232.60" y="249.60" font-size="7.3" text-anchor="start" fill="#231f20" stroke="#231f20" stroke-width="0.1">LBD</text>
<path d="M296.30,240.45 L287.38,235.14 A13.60,13.60 0 1 1 287.38,245.76 Z" fill="url(#gNv)"/>
<path d="M309.2,230.2 L311.8,227.6 L314.2,228.2 L317.6,230.6" fill="none" stroke="#3a4a8a" stroke-width="0.7"/>
<circle cx="327.50" cy="230.80" r="10.00" fill="url(#gOl)"/>
<path d="M325.4,210.5 L325.8,215.5 L323.6,221.5 M325.8,215.5 L330.6,222.0" fill="none" stroke="#8695a2" stroke-width="2.5" stroke-linecap="round" stroke-linejoin="round"/>
<path d="M325.4,210.5 L325.8,215.5 L323.6,221.5 M325.8,215.5 L330.6,222.0" fill="none" stroke="#d2dae2" stroke-width="0.9" stroke-linecap="round" stroke-linejoin="round"/>
<text x="327.70" y="233.60" font-size="7.6" text-anchor="middle" fill="#3a3a30" stroke="#3a3a30" stroke-width="0.1">GST</text>
<circle cx="325.2" cy="208.5" r="2.5" fill="#66c84a" stroke="#3ca82c" stroke-width="0.7"/>
<text x="313.00" y="253.00" font-size="7.3" text-anchor="start" fill="#231f20" stroke="#231f20" stroke-width="0.1">CRBN/DDB1</text>
<text x="352.80" y="210.80" font-size="7.4" text-anchor="middle" fill="#231f20" stroke="#231f20" stroke-width="0.1">PROTAC</text>
<rect x="341.00" y="213.60" width="8.20" height="8.20" rx="2.0" fill="url(#gGray)" stroke="#fff" stroke-width="0.5"/>
<line x1="349.20" y1="217.70" x2="356.00" y2="217.70" stroke="#e0a27a" stroke-width="0.9"/>
<polygon points="355.50,213.50 364.70,217.70 355.50,221.90" fill="url(#gOr)" stroke="#c8662a" stroke-width="0.6" stroke-linejoin="round"/>
<path d="M351.9,222.9 C353,227.5 356,229.3 360,229.8" fill="none" stroke="#222" stroke-width="0.8"/>
<line x1="341.90" y1="229.90" x2="368.40" y2="229.90" stroke="#7a7a7a" stroke-width="1.3"/>
<polygon points="371.40,229.90 366.60,227.70 366.60,232.10" fill="#1a1a1a"/>
<circle cx="433.00" cy="209.00" r="27.00" fill="url(#gGlowG)"/>
<circle cx="412.50" cy="219.00" r="19.00" fill="url(#gGlowB2)"/>
<path d="M382.5,216.0 C376,217 374.5,228 381.0,233.0" fill="none" stroke="#4a78a8" stroke-width="0.8"/>
<path d="M440.5,236.0 C443,233 444,230 443.5,227.5" fill="none" stroke="#5a6a8a" stroke-width="0.8"/>
<circle cx="392.00" cy="240.30" r="13.70" fill="url(#gPu)"/>
<circle cx="429.30" cy="240.20" r="13.50" fill="url(#gNv)"/>
<rect x="382.00" y="213.40" width="18.30" height="5.50" rx="2.75" fill="url(#gRod)" stroke="#127a52" stroke-width="0.4"/>
<path d="M400.40,211.90 L407.30,215.10 M400.40,220.30 L407.30,215.10" fill="none" stroke="#8695a2" stroke-width="2.6" stroke-linecap="round"/>
<path d="M400.40,211.90 L407.30,215.10 M400.40,220.30 L407.30,215.10" fill="none" stroke="#d2dae2" stroke-width="0.9" stroke-linecap="round"/>
<rect x="406.80" y="213.40" width="6.40" height="3.4" fill="#8695a2"/>
<rect x="407.30" y="214.60" width="5.90" height="1.0" fill="#e4eaf0"/>
<circle cx="415.2" cy="215.8" r="2.1" fill="#b0dcf4" stroke="#2f9ede" stroke-width="0.8"/>
<path d="M429.0,213.6 L433.5,215.2 L443.5,214.3 M433.5,215.2 L438.5,225.5" fill="none" stroke="#8695a2" stroke-width="2.6" stroke-linecap="round" stroke-linejoin="round"/>
<path d="M429.0,213.6 L433.5,215.2 L443.5,214.3 M433.5,215.2 L438.5,225.5" fill="none" stroke="#d2dae2" stroke-width="0.9" stroke-linecap="round" stroke-linejoin="round"/>
<circle cx="448.60" cy="218.60" r="9.90" fill="url(#gOl)"/>
<path d="M436.5,214.8 L444.5,214.0" fill="none" stroke="#8695a2" stroke-width="2.6" stroke-linecap="round"/>
<path d="M436.5,214.8 L444.5,214.0" fill="none" stroke="#d2dae2" stroke-width="0.9" stroke-linecap="round"/>
<circle cx="426.8" cy="212.6" r="2.4" fill="#b8e8a0" stroke="#3cb43c" stroke-width="0.9"/>
<rect x="399.30" y="237.20" width="8.60" height="8.60" rx="2.0" fill="url(#gGray)" stroke="#fff" stroke-width="0.5"/>
<line x1="407.90" y1="241.50" x2="415.00" y2="241.50" stroke="#e0a27a" stroke-width="0.9"/>
<polygon points="414.50,236.70 423.50,241.50 414.50,246.30" fill="url(#gOr)" stroke="#c8662a" stroke-width="0.6" stroke-linejoin="round"/>
<text x="382.90" y="198.00" font-size="6.9" text-anchor="start" fill="#231f20" stroke="#231f20" stroke-width="0.1">340 nm</text>
<text x="409.20" y="205.20" font-size="6.9" text-anchor="start" fill="#231f20" stroke="#231f20" stroke-width="0.1">490 nm</text>
<text x="439.10" y="195.20" font-size="6.9" text-anchor="start" fill="#231f20" stroke="#231f20" stroke-width="0.1">520 nm</text>
<polyline points="395.00,199.00 394.94,199.47 394.90,199.92 394.88,200.34 394.91,200.71 394.98,201.01 395.29,201.01 395.65,200.94 396.05,200.83 396.48,200.68 396.92,200.51 397.37,200.34 397.80,200.19 398.20,200.07 398.56,200.01 398.87,200.00 398.94,200.31 398.97,200.68 398.95,201.09 398.91,201.55 398.85,202.02 398.79,202.49 398.75,202.94 398.73,203.36 398.75,203.72 398.82,204.03 399.14,204.03 399.50,203.96 399.90,203.85 400.33,203.70 400.77,203.53 401.22,203.36 401.65,203.21 402.05,203.09 402.41,203.03 402.72,203.02 402.79,203.33 402.82,203.70 402.80,204.11 402.76,204.56 402.70,205.04 402.64,205.51 402.60,205.96 402.58,206.38 402.60,206.74 402.67,207.05 402.99,207.04 403.35,206.98 403.75,206.87 404.18,206.71 404.62,206.55 405.07,206.38 405.50,206.23 405.90,206.11 406.26,206.05 406.57,206.04 406.64,206.35 406.67,206.71 406.65,207.13 406.61,207.58 406.55,208.05 406.49,208.53 406.44,208.98 406.43,209.39 406.45,209.76 406.52,210.07 406.84,210.06 407.20,210.00 407.60,209.88 408.03,209.73 408.47,209.56 408.92,209.39 409.34,209.24 409.74,209.13 410.11,209.06 410.42,209.06 410.49,209.37 410.51,209.73 410.50,210.15 410.46,210.60 410.40,211.07" fill="none" stroke="#222" stroke-width="0.7" stroke-linejoin="round"/>
<polygon points="412.60,212.80 408.94,211.96 410.91,209.44" fill="#222"/>
<path d="M416.2,212.2 C416.5,208.5 419.5,207.5 422.8,209.6" fill="none" stroke="#222" stroke-width="0.9"/>
<polygon points="424.6,211.0 421.2,211.0 423.2,207.8" fill="#222"/>
<polyline points="430.10,209.40 430.53,209.61 430.94,209.81 431.33,209.96 431.68,210.06 431.99,210.10 432.10,209.80 432.16,209.43 432.19,209.02 432.19,208.56 432.18,208.09 432.17,207.61 432.17,207.16 432.20,206.74 432.26,206.38 432.36,206.08 432.68,206.11 433.03,206.21 433.42,206.37 433.83,206.56 434.26,206.77 434.68,206.99 435.10,207.18 435.48,207.33 435.84,207.43 436.15,207.47 436.25,207.17 436.32,206.81 436.34,206.39 436.35,205.94 436.34,205.46 436.33,204.99 436.33,204.53 436.36,204.11 436.42,203.75 436.52,203.45 436.84,203.49 437.19,203.59 437.58,203.74 437.99,203.93 438.42,204.15 438.84,204.36 439.25,204.55 439.64,204.71 440.00,204.81 440.31,204.84 440.41,204.54 440.47,204.18 440.50,203.77 440.50,203.31 440.50,202.83 440.49,202.36 440.49,201.90 440.52,201.49 440.58,201.12 440.68,200.83 440.99,200.86 441.35,200.96 441.74,201.12 442.15,201.31 442.57,201.52 443.00,201.73 443.41,201.93 443.80,202.08 444.15,202.18 444.47,202.22 444.57,201.92 444.63,201.56 444.66,201.14 444.66,200.68 444.65,200.21 444.64,199.73 444.65,199.28 444.68,198.86 444.74,198.50 444.84,198.20 445.15,198.24 445.51,198.34 445.89,198.49 446.31,198.68 446.73,198.90" fill="none" stroke="#222" stroke-width="0.7" stroke-linejoin="round"/>
<polygon points="449.10,197.40 447.08,200.57 445.37,197.86" fill="#222"/>
<text x="-0.30" y="427.00" font-size="12.2" text-anchor="start" fill="#231f20" stroke="#231f20" stroke-width="0.2" font-weight="bold">F</text>
<text x="32.50" y="441.40" font-size="8.8" text-anchor="middle" fill="#231f20" stroke="#231f20" stroke-width="0.2">NT</text>
<line x1="20.70" y1="444.50" x2="44.30" y2="444.50" stroke="#6a6a6a" stroke-width="1.0"/>
<text x="69.10" y="441.40" font-size="8.8" text-anchor="middle" fill="#231f20" stroke="#231f20" stroke-width="0.2">PXR</text>
<line x1="57.30" y1="444.50" x2="80.90" y2="444.50" stroke="#6a6a6a" stroke-width="1.0"/>
<text x="105.40" y="441.40" font-size="8.8" text-anchor="middle" fill="#231f20" stroke="#231f20" stroke-width="0.2">CRBN</text>
<line x1="93.60" y1="444.50" x2="117.20" y2="444.50" stroke="#6a6a6a" stroke-width="1.0"/>
<text x="142.60" y="441.40" font-size="8.8" text-anchor="middle" fill="#231f20" stroke="#231f20" stroke-width="0.2">MDM2</text>
<line x1="130.80" y1="444.50" x2="154.40" y2="444.50" stroke="#6a6a6a" stroke-width="1.0"/>
<text x="23.20" y="453.60" font-size="8.8" text-anchor="middle" fill="#231f20" stroke="#231f20" stroke-width="0.2">-</text>
<text x="41.50" y="453.60" font-size="8.8" text-anchor="middle" fill="#231f20" stroke="#231f20" stroke-width="0.2">+</text>
<text x="59.80" y="453.60" font-size="8.8" text-anchor="middle" fill="#231f20" stroke="#231f20" stroke-width="0.2">-</text>
<text x="78.00" y="453.60" font-size="8.8" text-anchor="middle" fill="#231f20" stroke="#231f20" stroke-width="0.2">+</text>
<text x="96.30" y="453.60" font-size="8.8" text-anchor="middle" fill="#231f20" stroke="#231f20" stroke-width="0.2">-</text>
<text x="114.60" y="453.60" font-size="8.8" text-anchor="middle" fill="#231f20" stroke="#231f20" stroke-width="0.2">+</text>
<text x="132.90" y="453.60" font-size="8.8" text-anchor="middle" fill="#231f20" stroke="#231f20" stroke-width="0.2">-</text>
<text x="151.30" y="453.60" font-size="8.8" text-anchor="middle" fill="#231f20" stroke="#231f20" stroke-width="0.2">+</text>
<text x="164.50" y="441.40" font-size="8.8" text-anchor="start" fill="#231f20" stroke="#231f20" stroke-width="0.2">25 nM siRNA</text>
<text x="164.50" y="453.30" font-size="8.8" text-anchor="start" fill="#231f20" stroke="#231f20" stroke-width="0.2">1 µM MD-224</text>
<rect x="11.8" y="457.80" width="150.0" height="18.20" rx="0.8" fill="#6a6a6a" stroke="#3c3c3c" stroke-width="1.0"/>
<text x="164.50" y="469.20" font-size="8.8" text-anchor="start" fill="#231f20" stroke="#231f20" stroke-width="0.2">3xFLAG-PXR</text>
<rect x="11.8" y="479.60" width="150.0" height="18.20" rx="0.8" fill="#6c6c6c" stroke="#3c3c3c" stroke-width="1.0"/>
<text x="164.50" y="491.00" font-size="8.8" text-anchor="start" fill="#231f20" stroke="#231f20" stroke-width="0.2">MDM2</text>
<rect x="11.8" y="501.50" width="150.0" height="18.50" rx="0.8" fill="#6e6e6e" stroke="#3c3c3c" stroke-width="1.0"/>
<text x="164.50" y="513.05" font-size="8.8" text-anchor="start" fill="#231f20" stroke="#231f20" stroke-width="0.2">CRBN</text>
<rect x="12.05" y="502.50" width="4.0" height="16.50" fill="#fff" fill-opacity="0.05" filter="url(#bl)"/>
<rect x="30.35" y="502.50" width="4.0" height="16.50" fill="#fff" fill-opacity="0.05" filter="url(#bl)"/>
<rect x="48.65" y="502.50" width="4.0" height="16.50" fill="#fff" fill-opacity="0.05" filter="url(#bl)"/>
<rect x="66.95" y="502.50" width="4.0" height="16.50" fill="#fff" fill-opacity="0.05" filter="url(#bl)"/>
<rect x="85.25" y="502.50" width="4.0" height="16.50" fill="#fff" fill-opacity="0.05" filter="url(#bl)"/>
<rect x="103.55" y="502.50" width="4.0" height="16.50" fill="#fff" fill-opacity="0.05" filter="url(#bl)"/>
<rect x="121.85" y="502.50" width="4.0" height="16.50" fill="#fff" fill-opacity="0.05" filter="url(#bl)"/>
<rect x="140.15" y="502.50" width="4.0" height="16.50" fill="#fff" fill-opacity="0.05" filter="url(#bl)"/>
<rect x="158.45" y="502.50" width="4.0" height="16.50" fill="#fff" fill-opacity="0.05" filter="url(#bl)"/>
<rect x="11.8" y="523.40" width="150.0" height="18.10" rx="0.8" fill="#6c6c6c" stroke="#3c3c3c" stroke-width="1.0"/>
<text x="164.50" y="534.75" font-size="8.8" text-anchor="start" fill="#231f20" stroke="#231f20" stroke-width="0.2">β-Actin</text>
<rect x="12.05" y="524.40" width="4.0" height="16.10" fill="#fff" fill-opacity="0.05" filter="url(#bl)"/>
<rect x="30.35" y="524.40" width="4.0" height="16.10" fill="#fff" fill-opacity="0.05" filter="url(#bl)"/>
<rect x="48.65" y="524.40" width="4.0" height="16.10" fill="#fff" fill-opacity="0.05" filter="url(#bl)"/>
<rect x="66.95" y="524.40" width="4.0" height="16.10" fill="#fff" fill-opacity="0.05" filter="url(#bl)"/>
<rect x="85.25" y="524.40" width="4.0" height="16.10" fill="#fff" fill-opacity="0.05" filter="url(#bl)"/>
<rect x="103.55" y="524.40" width="4.0" height="16.10" fill="#fff" fill-opacity="0.05" filter="url(#bl)"/>
<rect x="121.85" y="524.40" width="4.0" height="16.10" fill="#fff" fill-opacity="0.05" filter="url(#bl)"/>
<rect x="140.15" y="524.40" width="4.0" height="16.10" fill="#fff" fill-opacity="0.05" filter="url(#bl)"/>
<rect x="158.45" y="524.40" width="4.0" height="16.10" fill="#fff" fill-opacity="0.05" filter="url(#bl)"/>
<rect x="15.90" y="480.6" width="14.6" height="16.6" fill="#000" fill-opacity="0.10" filter="url(#bl2)"/>
<rect x="34.20" y="480.6" width="14.6" height="16.6" fill="#000" fill-opacity="0.10" filter="url(#bl2)"/>
<rect x="52.50" y="480.6" width="14.6" height="16.6" fill="#000" fill-opacity="0.10" filter="url(#bl2)"/>
<rect x="70.70" y="480.6" width="14.6" height="16.6" fill="#000" fill-opacity="0.10" filter="url(#bl2)"/>
<rect x="89.00" y="480.6" width="14.6" height="16.6" fill="#000" fill-opacity="0.10" filter="url(#bl2)"/>
<rect x="107.30" y="480.6" width="14.6" height="16.6" fill="#000" fill-opacity="0.10" filter="url(#bl2)"/>
<rect x="125.60" y="480.6" width="14.6" height="16.6" fill="#000" fill-opacity="0.10" filter="url(#bl2)"/>
<rect x="144.00" y="480.6" width="14.6" height="16.6" fill="#000" fill-opacity="0.10" filter="url(#bl2)"/>
<rect x="12.45" y="480.6" width="3.2" height="16.6" fill="#fff" fill-opacity="0.10" filter="url(#bl2)"/>
<rect x="30.75" y="480.6" width="3.2" height="16.6" fill="#fff" fill-opacity="0.10" filter="url(#bl2)"/>
<rect x="49.05" y="480.6" width="3.2" height="16.6" fill="#fff" fill-opacity="0.10" filter="url(#bl2)"/>
<rect x="67.35" y="480.6" width="3.2" height="16.6" fill="#fff" fill-opacity="0.10" filter="url(#bl2)"/>
<rect x="85.65" y="480.6" width="3.2" height="16.6" fill="#fff" fill-opacity="0.10" filter="url(#bl2)"/>
<rect x="103.95" y="480.6" width="3.2" height="16.6" fill="#fff" fill-opacity="0.10" filter="url(#bl2)"/>
<rect x="122.25" y="480.6" width="3.2" height="16.6" fill="#fff" fill-opacity="0.10" filter="url(#bl2)"/>
<rect x="140.55" y="480.6" width="3.2" height="16.6" fill="#fff" fill-opacity="0.10" filter="url(#bl2)"/>
<rect x="158.85" y="480.6" width="3.2" height="16.6" fill="#fff" fill-opacity="0.10" filter="url(#bl2)"/>
<rect x="12.3" y="479.6" width="149" height="18.2" fill="#777" filter="url(#noise)" opacity="0.28"/>
<path d="M18.17,465.00 Q23.20,465.60 28.23,465.00 A1.57,2.45 0 0 1 28.23,469.90 Q23.20,470.62 18.17,469.90 A1.57,2.45 0 0 1 18.17,465.00 Z" fill="#000" fill-opacity="1" filter="url(#bl2)"/>
<path d="M36.47,465.00 Q41.50,465.60 46.53,465.00 A1.57,2.45 0 0 1 46.53,469.90 Q41.50,470.62 36.47,469.90 A1.57,2.45 0 0 1 36.47,465.00 Z" fill="#000" fill-opacity="0.22" filter="url(#bl2)"/>
<path d="M91.27,465.00 Q96.30,465.60 101.33,465.00 A1.57,2.45 0 0 1 101.33,469.90 Q96.30,470.62 91.27,469.90 A1.57,2.45 0 0 1 91.27,465.00 Z" fill="#000" fill-opacity="1" filter="url(#bl2)"/>
<path d="M109.57,465.00 Q114.60,465.60 119.63,465.00 A1.57,2.45 0 0 1 119.63,469.90 Q114.60,470.62 109.57,469.90 A1.57,2.45 0 0 1 109.57,465.00 Z" fill="#000" fill-opacity="1" filter="url(#bl2)"/>
<path d="M127.87,465.00 Q132.90,465.60 137.93,465.00 A1.57,2.45 0 0 1 137.93,469.90 Q132.90,470.62 127.87,469.90 A1.57,2.45 0 0 1 127.87,465.00 Z" fill="#000" fill-opacity="1" filter="url(#bl2)"/>
<path d="M146.27,465.00 Q151.30,465.60 156.33,465.00 A1.57,2.45 0 0 1 156.33,469.90 Q151.30,470.62 146.27,469.90 A1.57,2.45 0 0 1 146.27,465.00 Z" fill="#000" fill-opacity="0.14" filter="url(#bl2)"/>
<rect x="17.70" y="459.20" width="11.00" height="2.40" rx="1.08" fill="#c0c0c0" fill-opacity="0.1" filter="url(#bl)"/>
<rect x="90.80" y="459.20" width="11.00" height="2.40" rx="1.08" fill="#c0c0c0" fill-opacity="0.1" filter="url(#bl)"/>
<rect x="109.10" y="459.20" width="11.00" height="2.40" rx="1.08" fill="#c0c0c0" fill-opacity="0.1" filter="url(#bl)"/>
<rect x="127.40" y="459.20" width="11.00" height="2.40" rx="1.08" fill="#c0c0c0" fill-opacity="0.1" filter="url(#bl)"/>
<circle cx="133.6" cy="468.6" r="0.7" fill="#ddd"/>
<path d="M18.07,485.35 Q23.20,485.95 28.33,485.35 A1.47,2.30 0 0 1 28.33,489.95 Q23.20,490.67 18.07,489.95 A1.47,2.30 0 0 1 18.07,485.35 Z" fill="#121212" fill-opacity="0.85" filter="url(#bl2)"/>
<rect x="16.60" y="489.5" width="13.2" height="7.0" fill="#111" fill-opacity="0.19" filter="url(#bl2)"/>
<path d="M36.37,485.35 Q41.50,485.95 46.63,485.35 A1.47,2.30 0 0 1 46.63,489.95 Q41.50,490.67 36.37,489.95 A1.47,2.30 0 0 1 36.37,485.35 Z" fill="#121212" fill-opacity="0.35" filter="url(#bl2)"/>
<rect x="34.90" y="489.5" width="13.2" height="7.0" fill="#111" fill-opacity="0.08" filter="url(#bl2)"/>
<path d="M54.67,485.35 Q59.80,485.95 64.93,485.35 A1.47,2.30 0 0 1 64.93,489.95 Q59.80,490.67 54.67,489.95 A1.47,2.30 0 0 1 54.67,485.35 Z" fill="#121212" fill-opacity="0.95" filter="url(#bl2)"/>
<rect x="53.20" y="489.5" width="13.2" height="7.0" fill="#111" fill-opacity="0.21" filter="url(#bl2)"/>
<path d="M72.87,485.35 Q78.00,485.95 83.13,485.35 A1.47,2.30 0 0 1 83.13,489.95 Q78.00,490.67 72.87,489.95 A1.47,2.30 0 0 1 72.87,485.35 Z" fill="#121212" fill-opacity="0.5" filter="url(#bl2)"/>
<rect x="71.40" y="489.5" width="13.2" height="7.0" fill="#111" fill-opacity="0.11" filter="url(#bl2)"/>
<path d="M91.17,485.35 Q96.30,485.95 101.43,485.35 A1.47,2.30 0 0 1 101.43,489.95 Q96.30,490.67 91.17,489.95 A1.47,2.30 0 0 1 91.17,485.35 Z" fill="#121212" fill-opacity="0.6" filter="url(#bl2)"/>
<rect x="89.70" y="489.5" width="13.2" height="7.0" fill="#111" fill-opacity="0.13" filter="url(#bl2)"/>
<path d="M109.47,485.35 Q114.60,485.95 119.73,485.35 A1.47,2.30 0 0 1 119.73,489.95 Q114.60,490.67 109.47,489.95 A1.47,2.30 0 0 1 109.47,485.35 Z" fill="#121212" fill-opacity="0.7" filter="url(#bl2)"/>
<rect x="108.00" y="489.5" width="13.2" height="7.0" fill="#111" fill-opacity="0.15" filter="url(#bl2)"/>
<rect x="157.50" y="486.40" width="2.20" height="2.80" rx="1.26" fill="#000" fill-opacity="0.95" filter="url(#bl)"/>
<rect x="77.00" y="493.70" width="1.00" height="1.00" rx="0.45" fill="#000" fill-opacity="0.8" filter="url(#bl)"/>
<path d="M17.98,507.45 Q23.20,508.45 28.42,507.45 A1.98,3.10 0 0 1 28.42,513.65 Q23.20,514.85 17.98,513.65 A1.98,3.10 0 0 1 17.98,507.45 Z" fill="#000" fill-opacity="1" filter="url(#bl2)"/>
<rect x="17.20" y="516.20" width="12.00" height="2.00" rx="0.90" fill="#222" fill-opacity="0.14" filter="url(#bl)"/>
<path d="M36.28,507.45 Q41.50,508.45 46.72,507.45 A1.98,3.10 0 0 1 46.72,513.65 Q41.50,514.85 36.28,513.65 A1.98,3.10 0 0 1 36.28,507.45 Z" fill="#000" fill-opacity="1" filter="url(#bl2)"/>
<rect x="35.50" y="516.20" width="12.00" height="2.00" rx="0.90" fill="#222" fill-opacity="0.14" filter="url(#bl)"/>
<path d="M54.58,507.45 Q59.80,508.45 65.02,507.45 A1.98,3.10 0 0 1 65.02,513.65 Q59.80,514.85 54.58,513.65 A1.98,3.10 0 0 1 54.58,507.45 Z" fill="#000" fill-opacity="1" filter="url(#bl2)"/>
<rect x="53.80" y="516.20" width="12.00" height="2.00" rx="0.90" fill="#222" fill-opacity="0.14" filter="url(#bl)"/>
<path d="M73.04,507.85 Q78.00,508.45 82.96,507.85 A1.54,2.40 0 0 1 82.96,512.65 Q78.00,513.37 73.04,512.65 A1.54,2.40 0 0 1 73.04,507.85 Z" fill="#000" fill-opacity="1" filter="url(#bl2)"/>
<rect x="72.00" y="516.20" width="12.00" height="2.00" rx="0.90" fill="#222" fill-opacity="0.14" filter="url(#bl)"/>
<path d="M91.08,507.45 Q96.30,508.45 101.52,507.45 A1.98,3.10 0 0 1 101.52,513.65 Q96.30,514.85 91.08,513.65 A1.98,3.10 0 0 1 91.08,507.45 Z" fill="#000" fill-opacity="0.07" filter="url(#bl2)"/>
<rect x="90.30" y="516.20" width="12.00" height="2.00" rx="0.90" fill="#222" fill-opacity="0.14" filter="url(#bl)"/>
<path d="M109.38,507.45 Q114.60,508.45 119.82,507.45 A1.98,3.10 0 0 1 119.82,513.65 Q114.60,514.85 109.38,513.65 A1.98,3.10 0 0 1 109.38,507.45 Z" fill="#000" fill-opacity="0.07" filter="url(#bl2)"/>
<rect x="108.60" y="516.20" width="12.00" height="2.00" rx="0.90" fill="#222" fill-opacity="0.14" filter="url(#bl)"/>
<path d="M127.68,507.45 Q132.90,508.45 138.12,507.45 A1.98,3.10 0 0 1 138.12,513.65 Q132.90,514.85 127.68,513.65 A1.98,3.10 0 0 1 127.68,507.45 Z" fill="#000" fill-opacity="1" filter="url(#bl2)"/>
<rect x="126.90" y="516.20" width="12.00" height="2.00" rx="0.90" fill="#222" fill-opacity="0.14" filter="url(#bl)"/>
<path d="M146.08,507.45 Q151.30,508.45 156.52,507.45 A1.98,3.10 0 0 1 156.52,513.65 Q151.30,514.85 146.08,513.65 A1.98,3.10 0 0 1 146.08,507.45 Z" fill="#000" fill-opacity="1" filter="url(#bl2)"/>
<rect x="145.30" y="516.20" width="12.00" height="2.00" rx="0.90" fill="#222" fill-opacity="0.14" filter="url(#bl)"/>
<path d="M17.50,528.05 Q23.20,529.85 28.90,528.05 A1.60,2.50 0 0 1 28.90,533.05 Q23.20,535.21 17.50,533.05 A1.60,2.50 0 0 1 17.50,528.05 Z" fill="#000" fill-opacity="1.0" filter="url(#bl2)"/>
<path d="M35.80,528.05 Q41.50,529.85 47.20,528.05 A1.60,2.50 0 0 1 47.20,533.05 Q41.50,535.21 35.80,533.05 A1.60,2.50 0 0 1 35.80,528.05 Z" fill="#000" fill-opacity="1.0" filter="url(#bl2)"/>
<path d="M54.10,528.05 Q59.80,529.85 65.50,528.05 A1.60,2.50 0 0 1 65.50,533.05 Q59.80,535.21 54.10,533.05 A1.60,2.50 0 0 1 54.10,528.05 Z" fill="#000" fill-opacity="1.0" filter="url(#bl2)"/>
<path d="M72.30,528.05 Q78.00,529.85 83.70,528.05 A1.60,2.50 0 0 1 83.70,533.05 Q78.00,535.21 72.30,533.05 A1.60,2.50 0 0 1 72.30,528.05 Z" fill="#000" fill-opacity="1.0" filter="url(#bl2)"/>
<path d="M90.60,528.05 Q96.30,529.85 102.00,528.05 A1.60,2.50 0 0 1 102.00,533.05 Q96.30,535.21 90.60,533.05 A1.60,2.50 0 0 1 90.60,528.05 Z" fill="#000" fill-opacity="1.0" filter="url(#bl2)"/>
<path d="M108.90,528.05 Q114.60,529.85 120.30,528.05 A1.60,2.50 0 0 1 120.30,533.05 Q114.60,535.21 108.90,533.05 A1.60,2.50 0 0 1 108.90,528.05 Z" fill="#000" fill-opacity="1.0" filter="url(#bl2)"/>
<path d="M127.20,528.05 Q132.90,529.85 138.60,528.05 A1.60,2.50 0 0 1 138.60,533.05 Q132.90,535.21 127.20,533.05 A1.60,2.50 0 0 1 127.20,528.05 Z" fill="#000" fill-opacity="1.0" filter="url(#bl2)"/>
<path d="M145.60,528.05 Q151.30,529.85 157.00,528.05 A1.60,2.50 0 0 1 157.00,533.05 Q151.30,535.21 145.60,533.05 A1.60,2.50 0 0 1 145.60,528.05 Z" fill="#000" fill-opacity="1.0" filter="url(#bl2)"/>
<text x="-0.50" y="461.30" font-size="5.6" text-anchor="start" fill="#231f20" stroke="#231f20" stroke-width="0.1" text-decoration="underline">kDa</text>
<text x="7.20" y="469.00" font-size="5.6" text-anchor="end" fill="#231f20" stroke="#231f20" stroke-width="0.1">50</text>
<line x1="8.20" y1="467.00" x2="11.30" y2="467.00" stroke="#231f20" stroke-width="0.6"/>
<text x="7.20" y="489.30" font-size="5.6" text-anchor="end" fill="#231f20" stroke="#231f20" stroke-width="0.1">75</text>
<line x1="8.20" y1="487.30" x2="11.30" y2="487.30" stroke="#231f20" stroke-width="0.6"/>
<text x="7.20" y="516.30" font-size="5.6" text-anchor="end" fill="#231f20" stroke="#231f20" stroke-width="0.1">50</text>
<line x1="8.20" y1="514.30" x2="11.30" y2="514.30" stroke="#231f20" stroke-width="0.6"/>
<text x="7.20" y="541.50" font-size="5.6" text-anchor="end" fill="#231f20" stroke="#231f20" stroke-width="0.1">37</text>
<line x1="8.20" y1="539.50" x2="11.30" y2="539.50" stroke="#231f20" stroke-width="0.6"/>
<line x1="269.30" y1="426.20" x2="269.30" y2="518.10" stroke="#231f20" stroke-width="1.2"/>
<line x1="268.70" y1="517.50" x2="441.50" y2="517.50" stroke="#231f20" stroke-width="1.2"/>
<line x1="264.30" y1="517.50" x2="269.30" y2="517.50" stroke="#231f20" stroke-width="1.2"/>
<text x="263.30" y="520.50" font-size="8.5" text-anchor="end" fill="#231f20" stroke="#231f20" stroke-width="0.2">0.0</text>
<line x1="264.30" y1="494.82" x2="269.30" y2="494.82" stroke="#231f20" stroke-width="1.2"/>
<text x="263.30" y="497.82" font-size="8.5" text-anchor="end" fill="#231f20" stroke="#231f20" stroke-width="0.2">0.5</text>
<line x1="264.30" y1="472.15" x2="269.30" y2="472.15" stroke="#231f20" stroke-width="1.2"/>
<text x="263.30" y="475.15" font-size="8.5" text-anchor="end" fill="#231f20" stroke="#231f20" stroke-width="0.2">1.0</text>
<line x1="264.30" y1="449.48" x2="269.30" y2="449.48" stroke="#231f20" stroke-width="1.2"/>
<text x="263.30" y="452.48" font-size="8.5" text-anchor="end" fill="#231f20" stroke="#231f20" stroke-width="0.2">1.5</text>
<line x1="264.30" y1="426.80" x2="269.30" y2="426.80" stroke="#231f20" stroke-width="1.2"/>
<text x="263.30" y="429.80" font-size="8.5" text-anchor="end" fill="#231f20" stroke="#231f20" stroke-width="0.2">2.0</text>
<text x="245.50" y="472.00" font-size="9.5" text-anchor="middle" fill="#231f20" stroke="#231f20" stroke-width="0.2" transform="rotate(-90 245.50 472.00)">Protein Level (FC)</text>
<line x1="271" y1="472.15" x2="440" y2="472.15" stroke="#231f20" stroke-width="1.1" stroke-dasharray="1.3,1.9"/>
<rect x="272.20" y="472.15" width="4.9" height="45.35" fill="#000"/>
<circle cx="273.55" cy="472.15" r="1.6" fill="#fff" stroke="#000" stroke-width="0.85"/>
<circle cx="274.65" cy="472.15" r="1.6" fill="#fff" stroke="#000" stroke-width="0.85"/>
<circle cx="275.75" cy="472.15" r="1.6" fill="#fff" stroke="#000" stroke-width="0.85"/>
<line x1="280.15" y1="507.52" x2="280.15" y2="508.43" stroke="#1a9a6a" stroke-width="0.8"/>
<line x1="278.60" y1="507.52" x2="281.70" y2="507.52" stroke="#1a9a6a" stroke-width="0.8"/>
<rect x="277.70" y="508.43" width="4.9" height="9.07" fill="#1a9a6a"/>
<circle cx="279.05" cy="507.98" r="1.6" fill="#fff" stroke="#1a9a6a" stroke-width="0.85"/>
<circle cx="280.15" cy="508.43" r="1.6" fill="#fff" stroke="#1a9a6a" stroke-width="0.85"/>
<circle cx="281.25" cy="508.88" r="1.6" fill="#fff" stroke="#1a9a6a" stroke-width="0.85"/>
<line x1="277.30" y1="517.50" x2="277.30" y2="521.90" stroke="#231f20" stroke-width="1.2"/>
<line x1="288.90" y1="514.78" x2="288.90" y2="515.69" stroke="#000" stroke-width="0.8"/>
<line x1="287.35" y1="514.78" x2="290.45" y2="514.78" stroke="#000" stroke-width="0.8"/>
<rect x="286.45" y="515.69" width="4.9" height="1.81" fill="#000"/>
<circle cx="287.80" cy="515.23" r="1.6" fill="#fff" stroke="#000" stroke-width="0.85"/>
<circle cx="288.90" cy="516.14" r="1.6" fill="#fff" stroke="#000" stroke-width="0.85"/>
<circle cx="290.00" cy="515.69" r="1.6" fill="#fff" stroke="#000" stroke-width="0.85"/>
<line x1="294.40" y1="516.14" x2="294.40" y2="516.59" stroke="#1a9a6a" stroke-width="0.8"/>
<line x1="292.85" y1="516.14" x2="295.95" y2="516.14" stroke="#1a9a6a" stroke-width="0.8"/>
<rect x="291.95" y="516.59" width="4.9" height="0.91" fill="#1a9a6a"/>
<circle cx="293.30" cy="516.59" r="1.6" fill="#fff" stroke="#1a9a6a" stroke-width="0.85"/>
<circle cx="294.40" cy="517.05" r="1.6" fill="#fff" stroke="#1a9a6a" stroke-width="0.85"/>
<circle cx="295.50" cy="516.59" r="1.6" fill="#fff" stroke="#1a9a6a" stroke-width="0.85"/>
<line x1="291.55" y1="517.50" x2="291.55" y2="521.90" stroke="#231f20" stroke-width="1.2"/>
<line x1="303.15" y1="453.10" x2="303.15" y2="466.71" stroke="#000" stroke-width="0.8"/>
<line x1="301.60" y1="453.10" x2="304.70" y2="453.10" stroke="#000" stroke-width="0.8"/>
<rect x="300.70" y="466.71" width="4.9" height="50.79" fill="#000"/>
<circle cx="302.05" cy="454.01" r="1.6" fill="#fff" stroke="#000" stroke-width="0.85"/>
<circle cx="303.15" cy="463.08" r="1.6" fill="#fff" stroke="#000" stroke-width="0.85"/>
<circle cx="304.25" cy="482.58" r="1.6" fill="#fff" stroke="#000" stroke-width="0.85"/>
<line x1="308.65" y1="451.29" x2="308.65" y2="468.07" stroke="#1a9a6a" stroke-width="0.8"/>
<line x1="307.10" y1="451.29" x2="310.20" y2="451.29" stroke="#1a9a6a" stroke-width="0.8"/>
<rect x="306.20" y="468.07" width="4.9" height="49.43" fill="#1a9a6a"/>
<circle cx="307.55" cy="451.29" r="1.6" fill="#fff" stroke="#1a9a6a" stroke-width="0.85"/>
<circle cx="308.65" cy="473.06" r="1.6" fill="#fff" stroke="#1a9a6a" stroke-width="0.85"/>
<circle cx="309.75" cy="480.77" r="1.6" fill="#fff" stroke="#1a9a6a" stroke-width="0.85"/>
<line x1="305.80" y1="517.50" x2="305.80" y2="521.90" stroke="#231f20" stroke-width="1.2"/>
<line x1="317.40" y1="465.35" x2="317.40" y2="471.70" stroke="#000" stroke-width="0.8"/>
<line x1="315.85" y1="465.35" x2="318.95" y2="465.35" stroke="#000" stroke-width="0.8"/>
<rect x="314.95" y="471.70" width="4.9" height="45.80" fill="#000"/>
<circle cx="316.30" cy="465.35" r="1.6" fill="#fff" stroke="#000" stroke-width="0.85"/>
<circle cx="317.40" cy="468.98" r="1.6" fill="#fff" stroke="#000" stroke-width="0.85"/>
<circle cx="318.50" cy="480.31" r="1.6" fill="#fff" stroke="#000" stroke-width="0.85"/>
<line x1="322.90" y1="509.34" x2="322.90" y2="511.60" stroke="#1a9a6a" stroke-width="0.8"/>
<line x1="321.35" y1="509.34" x2="324.45" y2="509.34" stroke="#1a9a6a" stroke-width="0.8"/>
<rect x="320.45" y="511.60" width="4.9" height="5.90" fill="#1a9a6a"/>
<circle cx="321.80" cy="509.34" r="1.6" fill="#fff" stroke="#1a9a6a" stroke-width="0.85"/>
<circle cx="322.90" cy="511.60" r="1.6" fill="#fff" stroke="#1a9a6a" stroke-width="0.85"/>
<circle cx="324.00" cy="513.87" r="1.6" fill="#fff" stroke="#1a9a6a" stroke-width="0.85"/>
<line x1="320.05" y1="517.50" x2="320.05" y2="521.90" stroke="#231f20" stroke-width="1.2"/>
<rect x="329.20" y="472.15" width="4.9" height="45.35" fill="#000"/>
<circle cx="330.55" cy="472.15" r="1.6" fill="#fff" stroke="#000" stroke-width="0.85"/>
<circle cx="331.65" cy="472.15" r="1.6" fill="#fff" stroke="#000" stroke-width="0.85"/>
<circle cx="332.75" cy="472.15" r="1.6" fill="#fff" stroke="#000" stroke-width="0.85"/>
<line x1="337.15" y1="492.10" x2="337.15" y2="499.36" stroke="#1a9a6a" stroke-width="0.8"/>
<line x1="335.60" y1="492.10" x2="338.70" y2="492.10" stroke="#1a9a6a" stroke-width="0.8"/>
<rect x="334.70" y="499.36" width="4.9" height="18.14" fill="#1a9a6a"/>
<circle cx="336.05" cy="492.10" r="1.6" fill="#fff" stroke="#1a9a6a" stroke-width="0.85"/>
<circle cx="337.15" cy="500.72" r="1.6" fill="#fff" stroke="#1a9a6a" stroke-width="0.85"/>
<circle cx="338.25" cy="505.26" r="1.6" fill="#fff" stroke="#1a9a6a" stroke-width="0.85"/>
<line x1="334.30" y1="517.50" x2="334.30" y2="521.90" stroke="#231f20" stroke-width="1.2"/>
<line x1="345.90" y1="467.62" x2="345.90" y2="469.88" stroke="#000" stroke-width="0.8"/>
<line x1="344.35" y1="467.62" x2="347.45" y2="467.62" stroke="#000" stroke-width="0.8"/>
<rect x="343.45" y="469.88" width="4.9" height="47.62" fill="#000"/>
<circle cx="344.80" cy="467.62" r="1.6" fill="#fff" stroke="#000" stroke-width="0.85"/>
<circle cx="345.90" cy="468.52" r="1.6" fill="#fff" stroke="#000" stroke-width="0.85"/>
<circle cx="347.00" cy="469.88" r="1.6" fill="#fff" stroke="#000" stroke-width="0.85"/>
<line x1="351.40" y1="484.85" x2="351.40" y2="488.48" stroke="#1a9a6a" stroke-width="0.8"/>
<line x1="349.85" y1="484.85" x2="352.95" y2="484.85" stroke="#1a9a6a" stroke-width="0.8"/>
<rect x="348.95" y="488.48" width="4.9" height="29.02" fill="#1a9a6a"/>
<circle cx="350.30" cy="484.85" r="1.6" fill="#fff" stroke="#1a9a6a" stroke-width="0.85"/>
<circle cx="351.40" cy="488.93" r="1.6" fill="#fff" stroke="#1a9a6a" stroke-width="0.85"/>
<circle cx="352.50" cy="489.38" r="1.6" fill="#fff" stroke="#1a9a6a" stroke-width="0.85"/>
<line x1="348.55" y1="517.50" x2="348.55" y2="521.90" stroke="#231f20" stroke-width="1.2"/>
<line x1="360.15" y1="478.50" x2="360.15" y2="484.39" stroke="#000" stroke-width="0.8"/>
<line x1="358.60" y1="478.50" x2="361.70" y2="478.50" stroke="#000" stroke-width="0.8"/>
<rect x="357.70" y="484.39" width="4.9" height="33.11" fill="#000"/>
<circle cx="359.05" cy="478.95" r="1.6" fill="#fff" stroke="#000" stroke-width="0.85"/>
<circle cx="360.15" cy="485.75" r="1.6" fill="#fff" stroke="#000" stroke-width="0.85"/>
<circle cx="361.25" cy="484.85" r="1.6" fill="#fff" stroke="#000" stroke-width="0.85"/>
<line x1="365.65" y1="468.52" x2="365.65" y2="473.06" stroke="#1a9a6a" stroke-width="0.8"/>
<line x1="364.10" y1="468.52" x2="367.20" y2="468.52" stroke="#1a9a6a" stroke-width="0.8"/>
<rect x="363.20" y="473.06" width="4.9" height="44.44" fill="#1a9a6a"/>
<circle cx="364.55" cy="467.62" r="1.6" fill="#fff" stroke="#1a9a6a" stroke-width="0.85"/>
<circle cx="365.65" cy="472.15" r="1.6" fill="#fff" stroke="#1a9a6a" stroke-width="0.85"/>
<circle cx="366.75" cy="478.95" r="1.6" fill="#fff" stroke="#1a9a6a" stroke-width="0.85"/>
<line x1="362.80" y1="517.50" x2="362.80" y2="521.90" stroke="#231f20" stroke-width="1.2"/>
<line x1="374.40" y1="506.16" x2="374.40" y2="508.88" stroke="#000" stroke-width="0.8"/>
<line x1="372.85" y1="506.16" x2="375.95" y2="506.16" stroke="#000" stroke-width="0.8"/>
<rect x="371.95" y="508.88" width="4.9" height="8.62" fill="#000"/>
<circle cx="373.30" cy="505.26" r="1.6" fill="#fff" stroke="#000" stroke-width="0.85"/>
<circle cx="374.40" cy="508.43" r="1.6" fill="#fff" stroke="#000" stroke-width="0.85"/>
<circle cx="375.50" cy="513.87" r="1.6" fill="#fff" stroke="#000" stroke-width="0.85"/>
<line x1="379.90" y1="513.87" x2="379.90" y2="515.23" stroke="#1a9a6a" stroke-width="0.8"/>
<line x1="378.35" y1="513.87" x2="381.45" y2="513.87" stroke="#1a9a6a" stroke-width="0.8"/>
<rect x="377.45" y="515.23" width="4.9" height="2.27" fill="#1a9a6a"/>
<circle cx="378.80" cy="513.42" r="1.6" fill="#fff" stroke="#1a9a6a" stroke-width="0.85"/>
<circle cx="379.90" cy="515.23" r="1.6" fill="#fff" stroke="#1a9a6a" stroke-width="0.85"/>
<circle cx="381.00" cy="516.59" r="1.6" fill="#fff" stroke="#1a9a6a" stroke-width="0.85"/>
<line x1="377.05" y1="517.50" x2="377.05" y2="521.90" stroke="#231f20" stroke-width="1.2"/>
<rect x="386.20" y="472.15" width="4.9" height="45.35" fill="#000"/>
<circle cx="387.55" cy="472.15" r="1.6" fill="#fff" stroke="#000" stroke-width="0.85"/>
<circle cx="388.65" cy="472.15" r="1.6" fill="#fff" stroke="#000" stroke-width="0.85"/>
<circle cx="389.75" cy="472.15" r="1.6" fill="#fff" stroke="#000" stroke-width="0.85"/>
<line x1="394.15" y1="478.50" x2="394.15" y2="482.13" stroke="#1a9a6a" stroke-width="0.8"/>
<line x1="392.60" y1="478.50" x2="395.70" y2="478.50" stroke="#1a9a6a" stroke-width="0.8"/>
<rect x="391.70" y="482.13" width="4.9" height="35.37" fill="#1a9a6a"/>
<circle cx="393.05" cy="478.95" r="1.6" fill="#fff" stroke="#1a9a6a" stroke-width="0.85"/>
<circle cx="394.15" cy="482.13" r="1.6" fill="#fff" stroke="#1a9a6a" stroke-width="0.85"/>
<circle cx="395.25" cy="485.75" r="1.6" fill="#fff" stroke="#1a9a6a" stroke-width="0.85"/>
<line x1="391.30" y1="517.50" x2="391.30" y2="521.90" stroke="#231f20" stroke-width="1.2"/>
<line x1="402.90" y1="485.75" x2="402.90" y2="489.38" stroke="#000" stroke-width="0.8"/>
<line x1="401.35" y1="485.75" x2="404.45" y2="485.75" stroke="#000" stroke-width="0.8"/>
<rect x="400.45" y="489.38" width="4.9" height="28.12" fill="#000"/>
<circle cx="401.80" cy="484.85" r="1.6" fill="#fff" stroke="#000" stroke-width="0.85"/>
<circle cx="402.90" cy="489.38" r="1.6" fill="#fff" stroke="#000" stroke-width="0.85"/>
<circle cx="404.00" cy="493.92" r="1.6" fill="#fff" stroke="#000" stroke-width="0.85"/>
<line x1="408.40" y1="480.31" x2="408.40" y2="485.75" stroke="#1a9a6a" stroke-width="0.8"/>
<line x1="406.85" y1="480.31" x2="409.95" y2="480.31" stroke="#1a9a6a" stroke-width="0.8"/>
<rect x="405.95" y="485.75" width="4.9" height="31.75" fill="#1a9a6a"/>
<circle cx="407.30" cy="480.31" r="1.6" fill="#fff" stroke="#1a9a6a" stroke-width="0.85"/>
<circle cx="408.40" cy="485.75" r="1.6" fill="#fff" stroke="#1a9a6a" stroke-width="0.85"/>
<circle cx="409.50" cy="490.29" r="1.6" fill="#fff" stroke="#1a9a6a" stroke-width="0.85"/>
<line x1="405.55" y1="517.50" x2="405.55" y2="521.90" stroke="#231f20" stroke-width="1.2"/>
<line x1="417.15" y1="514.33" x2="417.15" y2="516.14" stroke="#000" stroke-width="0.8"/>
<line x1="415.60" y1="514.33" x2="418.70" y2="514.33" stroke="#000" stroke-width="0.8"/>
<rect x="414.70" y="516.14" width="4.9" height="1.36" fill="#000"/>
<circle cx="416.05" cy="513.87" r="1.6" fill="#fff" stroke="#000" stroke-width="0.85"/>
<circle cx="417.15" cy="516.59" r="1.6" fill="#fff" stroke="#000" stroke-width="0.85"/>
<circle cx="418.25" cy="517.05" r="1.6" fill="#fff" stroke="#000" stroke-width="0.85"/>
<line x1="422.65" y1="515.23" x2="422.65" y2="516.14" stroke="#1a9a6a" stroke-width="0.8"/>
<line x1="421.10" y1="515.23" x2="424.20" y2="515.23" stroke="#1a9a6a" stroke-width="0.8"/>
<rect x="420.20" y="516.14" width="4.9" height="1.36" fill="#1a9a6a"/>
<circle cx="421.55" cy="515.69" r="1.6" fill="#fff" stroke="#1a9a6a" stroke-width="0.85"/>
<circle cx="422.65" cy="516.14" r="1.6" fill="#fff" stroke="#1a9a6a" stroke-width="0.85"/>
<circle cx="423.75" cy="516.59" r="1.6" fill="#fff" stroke="#1a9a6a" stroke-width="0.85"/>
<line x1="419.80" y1="517.50" x2="419.80" y2="521.90" stroke="#231f20" stroke-width="1.2"/>
<line x1="431.40" y1="466.25" x2="431.40" y2="475.32" stroke="#000" stroke-width="0.8"/>
<line x1="429.85" y1="466.25" x2="432.95" y2="466.25" stroke="#000" stroke-width="0.8"/>
<rect x="428.95" y="475.32" width="4.9" height="42.18" fill="#000"/>
<circle cx="430.30" cy="466.25" r="1.6" fill="#fff" stroke="#000" stroke-width="0.85"/>
<circle cx="431.40" cy="472.15" r="1.6" fill="#fff" stroke="#000" stroke-width="0.85"/>
<circle cx="432.50" cy="485.75" r="1.6" fill="#fff" stroke="#000" stroke-width="0.85"/>
<line x1="436.90" y1="463.08" x2="436.90" y2="468.52" stroke="#1a9a6a" stroke-width="0.8"/>
<line x1="435.35" y1="463.08" x2="438.45" y2="463.08" stroke="#1a9a6a" stroke-width="0.8"/>
<rect x="434.45" y="468.52" width="4.9" height="48.98" fill="#1a9a6a"/>
<circle cx="435.80" cy="462.17" r="1.6" fill="#fff" stroke="#1a9a6a" stroke-width="0.85"/>
<circle cx="436.90" cy="467.62" r="1.6" fill="#fff" stroke="#1a9a6a" stroke-width="0.85"/>
<circle cx="438.00" cy="474.42" r="1.6" fill="#fff" stroke="#1a9a6a" stroke-width="0.85"/>
<line x1="434.05" y1="517.50" x2="434.05" y2="521.90" stroke="#231f20" stroke-width="1.2"/>
<text x="281.40" y="522.70" font-size="8.8" text-anchor="end" fill="#231f20" stroke="#231f20" stroke-width="0.2" transform="rotate(-90 281.40 522.70)">siNT</text>
<text x="295.65" y="522.70" font-size="8.8" text-anchor="end" fill="#231f20" stroke="#231f20" stroke-width="0.2" transform="rotate(-90 295.65 522.70)">siPXR</text>
<text x="309.90" y="522.70" font-size="8.8" text-anchor="end" fill="#231f20" stroke="#231f20" stroke-width="0.2" transform="rotate(-90 309.90 522.70)">siCRBN</text>
<text x="324.15" y="522.70" font-size="8.8" text-anchor="end" fill="#231f20" stroke="#231f20" stroke-width="0.2" transform="rotate(-90 324.15 522.70)">siMDM2</text>
<text x="338.40" y="522.70" font-size="8.8" text-anchor="end" fill="#231f20" stroke="#231f20" stroke-width="0.2" transform="rotate(-90 338.40 522.70)">siNT</text>
<text x="352.65" y="522.70" font-size="8.8" text-anchor="end" fill="#231f20" stroke="#231f20" stroke-width="0.2" transform="rotate(-90 352.65 522.70)">siPXR</text>
<text x="366.90" y="522.70" font-size="8.8" text-anchor="end" fill="#231f20" stroke="#231f20" stroke-width="0.2" transform="rotate(-90 366.90 522.70)">siCRBN</text>
<text x="381.15" y="522.70" font-size="8.8" text-anchor="end" fill="#231f20" stroke="#231f20" stroke-width="0.2" transform="rotate(-90 381.15 522.70)">siMDM2</text>
<text x="395.40" y="522.70" font-size="8.8" text-anchor="end" fill="#231f20" stroke="#231f20" stroke-width="0.2" transform="rotate(-90 395.40 522.70)">siNT</text>
<text x="409.65" y="522.70" font-size="8.8" text-anchor="end" fill="#231f20" stroke="#231f20" stroke-width="0.2" transform="rotate(-90 409.65 522.70)">siPXR</text>
<text x="423.90" y="522.70" font-size="8.8" text-anchor="end" fill="#231f20" stroke="#231f20" stroke-width="0.2" transform="rotate(-90 423.90 522.70)">siCRBN</text>
<text x="438.15" y="522.70" font-size="8.8" text-anchor="end" fill="#231f20" stroke="#231f20" stroke-width="0.2" transform="rotate(-90 438.15 522.70)">siMDM2</text>
<line x1="274.00" y1="558.70" x2="326.50" y2="558.70" stroke="#231f20" stroke-width="1.1"/>
<text x="298.00" y="569.80" font-size="9.5" text-anchor="middle" fill="#231f20" stroke="#231f20" stroke-width="0.2">3xFLAG-PXR</text>
<line x1="331.50" y1="558.70" x2="379.00" y2="558.70" stroke="#231f20" stroke-width="1.1"/>
<text x="355.10" y="569.80" font-size="9.5" text-anchor="middle" fill="#231f20" stroke="#231f20" stroke-width="0.2">MDM2</text>
<line x1="389.30" y1="558.70" x2="438.40" y2="558.70" stroke="#231f20" stroke-width="1.1"/>
<text x="413.60" y="569.80" font-size="9.5" text-anchor="middle" fill="#231f20" stroke="#231f20" stroke-width="0.2">CRBN</text>
<rect x="293.8" y="433.6" width="12.2" height="5.6" fill="#000"/>
<text x="313.10" y="440.00" font-size="9.5" text-anchor="start" fill="#231f20" stroke="#231f20" stroke-width="0.2">DMSO</text>
<rect x="360.8" y="433.4" width="12.7" height="5.8" fill="#1a9a6a"/>
<text x="380.30" y="440.00" font-size="9.5" text-anchor="start" fill="#231f20" stroke="#231f20" stroke-width="0.2">MD-224</text>
<line x1="24.90" y1="260.50" x2="24.90" y2="377.10" stroke="#231f20" stroke-width="1.2"/>
<line x1="24.30" y1="376.50" x2="198.30" y2="376.50" stroke="#231f20" stroke-width="1.2"/>
<line x1="19.90" y1="376.50" x2="24.90" y2="376.50" stroke="#231f20" stroke-width="1.2"/>
<text x="18.90" y="379.50" font-size="8.6" text-anchor="end" fill="#231f20" stroke="#231f20" stroke-width="0.2">0</text>
<line x1="19.90" y1="338.03" x2="24.90" y2="338.03" stroke="#231f20" stroke-width="1.2"/>
<text x="18.90" y="341.03" font-size="8.6" text-anchor="end" fill="#231f20" stroke="#231f20" stroke-width="0.2">1</text>
<line x1="19.90" y1="299.57" x2="24.90" y2="299.57" stroke="#231f20" stroke-width="1.2"/>
<text x="18.90" y="302.57" font-size="8.6" text-anchor="end" fill="#231f20" stroke="#231f20" stroke-width="0.2">2</text>
<line x1="19.90" y1="261.10" x2="24.90" y2="261.10" stroke="#231f20" stroke-width="1.2"/>
<text x="18.90" y="264.10" font-size="8.6" text-anchor="end" fill="#231f20" stroke="#231f20" stroke-width="0.2">3</text>
<line x1="24.90" y1="376.50" x2="24.90" y2="381.10" stroke="#231f20" stroke-width="1.2"/>
<text x="24.90" y="391.10" font-size="8.6" text-anchor="middle" fill="#231f20" stroke="#231f20" stroke-width="0.2">0.01</text>
<line x1="68.10" y1="376.50" x2="68.10" y2="381.10" stroke="#231f20" stroke-width="1.2"/>
<text x="68.10" y="391.10" font-size="8.6" text-anchor="middle" fill="#231f20" stroke="#231f20" stroke-width="0.2">0.1</text>
<line x1="111.30" y1="376.50" x2="111.30" y2="381.10" stroke="#231f20" stroke-width="1.2"/>
<text x="111.30" y="391.10" font-size="8.6" text-anchor="middle" fill="#231f20" stroke="#231f20" stroke-width="0.2">1</text>
<line x1="154.50" y1="376.50" x2="154.50" y2="381.10" stroke="#231f20" stroke-width="1.2"/>
<text x="154.50" y="391.10" font-size="8.6" text-anchor="middle" fill="#231f20" stroke="#231f20" stroke-width="0.2">10</text>
<line x1="197.70" y1="376.50" x2="197.70" y2="381.10" stroke="#231f20" stroke-width="1.2"/>
<text x="197.70" y="391.10" font-size="8.6" text-anchor="middle" fill="#231f20" stroke="#231f20" stroke-width="0.2">100</text>
<text x="8.80" y="318.90" font-size="9.5" text-anchor="middle" fill="#231f20" stroke="#231f20" stroke-width="0.2" transform="rotate(-90 8.80 318.90)">RLU (FC)</text>
<text x="111.50" y="404.50" font-size="9.5" text-anchor="middle" fill="#231f20" stroke="#231f20" stroke-width="0.2">[MD-224] (µM)</text>
<polyline points="39.45,335.80 40.66,335.77 41.87,335.73 43.08,335.69 44.29,335.65 45.50,335.61 46.71,335.57 47.92,335.53 49.13,335.48 50.34,335.44 51.56,335.39 52.77,335.34 53.98,335.29 55.19,335.24 56.40,335.19 57.61,335.14 58.82,335.08 60.03,335.02 61.24,334.96 62.45,334.90 63.66,334.84 64.87,334.78 66.08,334.71 67.29,334.64 68.50,334.57 69.71,334.50 70.92,334.42 72.13,334.35 73.34,334.27 74.55,334.18 75.76,334.10 76.97,334.01 78.18,333.92 79.39,333.83 80.60,333.74 81.81,333.64 83.02,333.54 84.24,333.43 85.45,333.33 86.66,333.22 87.87,333.10 89.08,332.98 90.29,332.86 91.50,332.74 92.71,332.61 93.92,332.48 95.13,332.34 96.34,332.21 97.55,332.06 98.76,331.91 99.97,331.76 101.18,331.60 102.39,331.44 103.60,331.27 104.81,331.10 106.02,330.92 107.23,330.74 108.44,330.55 109.65,330.36 110.86,330.16 112.07,329.96 113.28,329.74 114.49,329.53 115.70,329.30 116.92,329.07 118.13,328.83 119.34,328.59 120.55,328.33 121.76,328.07 122.97,327.81 124.18,327.53 125.39,327.24 126.60,326.95 127.81,326.65 129.02,326.34 130.23,326.02 131.44,325.69 132.65,325.35 133.86,325.00 135.07,324.64 136.28,324.27 137.49,323.88 138.70,323.49 139.91,323.08 141.12,322.66 142.33,322.23 143.54,321.79 144.75,321.33 145.96,320.86 147.17,320.38 148.38,319.88 149.59,319.36 150.81,318.83 152.02,318.29 153.23,317.72 154.44,317.14 155.65,316.55 156.86,315.93 158.07,315.30 159.28,314.65 160.49,313.97 161.70,313.28 162.91,312.57 164.12,311.83 165.33,311.08 166.54,310.30 167.75,309.49 168.96,308.67 170.17,307.81 171.38,306.94 172.59,306.03 173.80,305.10 175.01,304.14 176.22,303.16 177.43,302.14 178.64,301.09 179.85,300.01 181.06,298.90 182.27,297.75 183.49,296.57 184.70,295.36" fill="none" stroke="#231f20" stroke-width="1.5" stroke-linejoin="round"/>
<line x1="40.41" y1="332.65" x2="40.41" y2="340.34" stroke="#231f20" stroke-width="0.9"/>
<line x1="37.61" y1="332.65" x2="43.21" y2="332.65" stroke="#231f20" stroke-width="0.9"/>
<line x1="37.61" y1="340.34" x2="43.21" y2="340.34" stroke="#231f20" stroke-width="0.9"/>
<line x1="61.03" y1="331.49" x2="61.03" y2="340.73" stroke="#231f20" stroke-width="0.9"/>
<line x1="58.23" y1="331.49" x2="63.83" y2="331.49" stroke="#231f20" stroke-width="0.9"/>
<line x1="58.23" y1="340.73" x2="63.83" y2="340.73" stroke="#231f20" stroke-width="0.9"/>
<line x1="81.64" y1="325.34" x2="81.64" y2="340.73" stroke="#231f20" stroke-width="0.9"/>
<line x1="78.84" y1="325.34" x2="84.44" y2="325.34" stroke="#231f20" stroke-width="0.9"/>
<line x1="78.84" y1="340.73" x2="84.44" y2="340.73" stroke="#231f20" stroke-width="0.9"/>
<line x1="102.25" y1="323.42" x2="102.25" y2="338.80" stroke="#231f20" stroke-width="0.9"/>
<line x1="99.45" y1="323.42" x2="105.05" y2="323.42" stroke="#231f20" stroke-width="0.9"/>
<line x1="99.45" y1="338.80" x2="105.05" y2="338.80" stroke="#231f20" stroke-width="0.9"/>
<line x1="122.86" y1="316.88" x2="122.86" y2="332.26" stroke="#231f20" stroke-width="0.9"/>
<line x1="120.06" y1="316.88" x2="125.66" y2="316.88" stroke="#231f20" stroke-width="0.9"/>
<line x1="120.06" y1="332.26" x2="125.66" y2="332.26" stroke="#231f20" stroke-width="0.9"/>
<line x1="143.47" y1="317.65" x2="143.47" y2="329.19" stroke="#231f20" stroke-width="0.9"/>
<line x1="140.67" y1="317.65" x2="146.27" y2="317.65" stroke="#231f20" stroke-width="0.9"/>
<line x1="140.67" y1="329.19" x2="146.27" y2="329.19" stroke="#231f20" stroke-width="0.9"/>
<line x1="164.08" y1="310.34" x2="164.08" y2="316.49" stroke="#231f20" stroke-width="0.9"/>
<line x1="161.28" y1="310.34" x2="166.88" y2="310.34" stroke="#231f20" stroke-width="0.9"/>
<line x1="161.28" y1="316.49" x2="166.88" y2="316.49" stroke="#231f20" stroke-width="0.9"/>
<line x1="184.70" y1="279.95" x2="184.70" y2="309.18" stroke="#231f20" stroke-width="0.9"/>
<line x1="181.90" y1="279.95" x2="187.50" y2="279.95" stroke="#231f20" stroke-width="0.9"/>
<line x1="181.90" y1="309.18" x2="187.50" y2="309.18" stroke="#231f20" stroke-width="0.9"/>
<circle cx="40.41" cy="336.49" r="3.0" fill="#cfcfcf" stroke="#231f20" stroke-width="0.9"/>
<circle cx="61.03" cy="336.11" r="3.0" fill="#cfcfcf" stroke="#231f20" stroke-width="0.9"/>
<circle cx="81.64" cy="333.03" r="3.0" fill="#cfcfcf" stroke="#231f20" stroke-width="0.9"/>
<circle cx="102.25" cy="331.11" r="3.0" fill="#cfcfcf" stroke="#231f20" stroke-width="0.9"/>
<circle cx="122.86" cy="324.57" r="3.0" fill="#cfcfcf" stroke="#231f20" stroke-width="0.9"/>
<circle cx="143.47" cy="323.42" r="3.0" fill="#cfcfcf" stroke="#231f20" stroke-width="0.9"/>
<circle cx="164.08" cy="313.41" r="3.0" fill="#cfcfcf" stroke="#231f20" stroke-width="0.9"/>
<circle cx="184.70" cy="294.57" r="3.0" fill="#cfcfcf" stroke="#231f20" stroke-width="0.9"/>
<line x1="265.40" y1="260.50" x2="265.40" y2="377.00" stroke="#231f20" stroke-width="1.2"/>
<line x1="264.80" y1="376.40" x2="438.62" y2="376.40" stroke="#231f20" stroke-width="1.2"/>
<line x1="260.40" y1="376.40" x2="265.40" y2="376.40" stroke="#231f20" stroke-width="1.2"/>
<text x="259.40" y="379.40" font-size="8.6" text-anchor="end" fill="#231f20" stroke="#231f20" stroke-width="0.2">0</text>
<line x1="260.40" y1="353.34" x2="265.40" y2="353.34" stroke="#231f20" stroke-width="1.2"/>
<text x="259.40" y="356.34" font-size="8.6" text-anchor="end" fill="#231f20" stroke="#231f20" stroke-width="0.2">1</text>
<line x1="260.40" y1="330.28" x2="265.40" y2="330.28" stroke="#231f20" stroke-width="1.2"/>
<text x="259.40" y="333.28" font-size="8.6" text-anchor="end" fill="#231f20" stroke="#231f20" stroke-width="0.2">2</text>
<line x1="260.40" y1="307.22" x2="265.40" y2="307.22" stroke="#231f20" stroke-width="1.2"/>
<text x="259.40" y="310.22" font-size="8.6" text-anchor="end" fill="#231f20" stroke="#231f20" stroke-width="0.2">3</text>
<line x1="260.40" y1="284.16" x2="265.40" y2="284.16" stroke="#231f20" stroke-width="1.2"/>
<text x="259.40" y="287.16" font-size="8.6" text-anchor="end" fill="#231f20" stroke="#231f20" stroke-width="0.2">4</text>
<line x1="260.40" y1="261.10" x2="265.40" y2="261.10" stroke="#231f20" stroke-width="1.2"/>
<text x="259.40" y="264.10" font-size="8.6" text-anchor="end" fill="#231f20" stroke="#231f20" stroke-width="0.2">5</text>
<line x1="265.40" y1="376.40" x2="265.40" y2="381.00" stroke="#231f20" stroke-width="1.2"/>
<text x="265.40" y="391.00" font-size="8.6" text-anchor="middle" fill="#231f20" stroke="#231f20" stroke-width="0.2">0.0001</text>
<line x1="322.94" y1="376.40" x2="322.94" y2="381.00" stroke="#231f20" stroke-width="1.2"/>
<text x="322.94" y="391.00" font-size="8.6" text-anchor="middle" fill="#231f20" stroke="#231f20" stroke-width="0.2">0.01</text>
<line x1="380.48" y1="376.40" x2="380.48" y2="381.00" stroke="#231f20" stroke-width="1.2"/>
<text x="380.48" y="391.00" font-size="8.6" text-anchor="middle" fill="#231f20" stroke="#231f20" stroke-width="0.2">1</text>
<line x1="438.02" y1="376.40" x2="438.02" y2="381.00" stroke="#231f20" stroke-width="1.2"/>
<text x="438.02" y="391.00" font-size="8.6" text-anchor="middle" fill="#231f20" stroke="#231f20" stroke-width="0.2">100</text>
<text x="249.10" y="318.80" font-size="9.5" text-anchor="middle" fill="#231f20" stroke="#231f20" stroke-width="0.2" transform="rotate(-90 249.10 318.80)">TR-FRET Signal (FC)</text>
<text x="352.00" y="405.00" font-size="9.5" text-anchor="middle" fill="#231f20" stroke="#231f20" stroke-width="0.2">[MD-224] (µM)</text>
<polyline points="271.34,353.25 272.61,352.97 273.87,352.67 275.14,352.34 276.40,351.99 277.67,351.62 278.94,351.22 280.20,350.79 281.47,350.33 282.73,349.84 284.00,349.31 285.26,348.75 286.53,348.15 287.80,347.52 289.06,346.84 290.33,346.12 291.59,345.36 292.86,344.55 294.12,343.70 295.39,342.80 296.66,341.86 297.92,340.87 299.19,339.83 300.45,338.74 301.72,337.60 302.98,336.42 304.25,335.20 305.51,333.93 306.78,332.62 308.05,331.27 309.31,329.88 310.58,328.46 311.84,327.02 313.11,325.54 314.37,324.05 315.64,322.54 316.91,321.02 318.17,319.49 319.44,317.96 320.70,316.43 321.97,314.92 323.23,313.41 324.50,311.92 325.77,310.46 327.03,309.02 328.30,307.61 329.56,306.24 330.83,304.90 332.09,303.61 333.36,302.35 334.63,301.14 335.89,299.98 337.16,298.86 338.42,297.79 339.69,296.77 340.95,295.80 342.22,294.87 343.49,293.99 344.75,293.16 346.02,292.37 347.28,291.63 348.55,290.94 349.81,290.28 351.08,289.67 352.35,289.09 353.61,288.55 354.88,288.05 356.14,287.58 357.41,287.15 358.67,286.75 359.94,286.38 361.21,286.03 362.47,285.72 363.74,285.43 365.00,285.16 366.27,284.92 367.53,284.70 368.80,284.51 370.07,284.33 371.33,284.18 372.60,284.04 373.86,283.92 375.13,283.83 376.39,283.75 377.66,283.69 378.93,283.64 380.19,283.62 381.46,283.61 382.72,283.62 383.99,283.64 385.25,283.69 386.52,283.75 387.78,283.83 389.05,283.93 390.32,284.05 391.58,284.18 392.85,284.34 394.11,284.51 395.38,284.70 396.64,284.91 397.91,285.14 399.18,285.39 400.44,285.66 401.71,285.94 402.97,286.24 404.24,286.56 405.50,286.89 406.77,287.23 408.04,287.59 409.30,287.95 410.57,288.32 411.83,288.70 413.10,289.09 414.36,289.47 415.63,289.85 416.90,290.24 418.16,290.61 419.43,290.98 420.69,291.35 421.96,291.70 423.22,292.04" fill="none" stroke="#231f20" stroke-width="1.5" stroke-linejoin="round"/>
<line x1="422.98" y1="288.31" x2="422.98" y2="295.23" stroke="#231f20" stroke-width="0.9"/>
<line x1="420.18" y1="288.31" x2="425.78" y2="288.31" stroke="#231f20" stroke-width="0.9"/>
<line x1="420.18" y1="295.23" x2="425.78" y2="295.23" stroke="#231f20" stroke-width="0.9"/>
<circle cx="271.98" cy="351.96" r="3.0" fill="#cfcfcf" stroke="#231f20" stroke-width="0.9"/>
<circle cx="285.71" cy="349.42" r="3.0" fill="#cfcfcf" stroke="#231f20" stroke-width="0.9"/>
<circle cx="299.44" cy="340.89" r="3.0" fill="#cfcfcf" stroke="#231f20" stroke-width="0.9"/>
<circle cx="313.16" cy="324.51" r="3.0" fill="#cfcfcf" stroke="#231f20" stroke-width="0.9"/>
<circle cx="326.89" cy="308.60" r="3.0" fill="#cfcfcf" stroke="#231f20" stroke-width="0.9"/>
<circle cx="340.62" cy="295.23" r="3.0" fill="#cfcfcf" stroke="#231f20" stroke-width="0.9"/>
<circle cx="354.34" cy="292.23" r="3.0" fill="#cfcfcf" stroke="#231f20" stroke-width="0.9"/>
<circle cx="368.07" cy="282.78" r="3.0" fill="#cfcfcf" stroke="#231f20" stroke-width="0.9"/>
<circle cx="381.80" cy="282.55" r="3.0" fill="#cfcfcf" stroke="#231f20" stroke-width="0.9"/>
<circle cx="395.52" cy="284.62" r="3.0" fill="#cfcfcf" stroke="#231f20" stroke-width="0.9"/>
<circle cx="409.25" cy="288.54" r="3.0" fill="#cfcfcf" stroke="#231f20" stroke-width="0.9"/>
<circle cx="422.98" cy="291.77" r="3.0" fill="#cfcfcf" stroke="#231f20" stroke-width="0.9"/>
<line x1="505.00" y1="261.20" x2="505.00" y2="377.10" stroke="#231f20" stroke-width="1.2"/>
<line x1="504.40" y1="376.50" x2="678.50" y2="376.50" stroke="#231f20" stroke-width="1.2"/>
<line x1="500.00" y1="376.50" x2="505.00" y2="376.50" stroke="#231f20" stroke-width="1.2"/>
<text x="499.00" y="379.50" font-size="8.6" text-anchor="end" fill="#231f20" stroke="#231f20" stroke-width="0.2">0</text>
<line x1="500.00" y1="338.27" x2="505.00" y2="338.27" stroke="#231f20" stroke-width="1.2"/>
<text x="499.00" y="341.27" font-size="8.6" text-anchor="end" fill="#231f20" stroke="#231f20" stroke-width="0.2">50</text>
<line x1="500.00" y1="300.03" x2="505.00" y2="300.03" stroke="#231f20" stroke-width="1.2"/>
<text x="499.00" y="303.03" font-size="8.6" text-anchor="end" fill="#231f20" stroke="#231f20" stroke-width="0.2">100</text>
<line x1="500.00" y1="261.80" x2="505.00" y2="261.80" stroke="#231f20" stroke-width="1.2"/>
<text x="499.00" y="264.80" font-size="8.6" text-anchor="end" fill="#231f20" stroke="#231f20" stroke-width="0.2">150</text>
<line x1="505.00" y1="376.50" x2="505.00" y2="381.10" stroke="#231f20" stroke-width="1.2"/>
<text x="505.00" y="391.10" font-size="8.6" text-anchor="middle" fill="#231f20" stroke="#231f20" stroke-width="0.2">0.001</text>
<line x1="539.58" y1="376.50" x2="539.58" y2="381.10" stroke="#231f20" stroke-width="1.2"/>
<text x="539.58" y="391.10" font-size="8.6" text-anchor="middle" fill="#231f20" stroke="#231f20" stroke-width="0.2">0.01</text>
<line x1="574.16" y1="376.50" x2="574.16" y2="381.10" stroke="#231f20" stroke-width="1.2"/>
<text x="574.16" y="391.10" font-size="8.6" text-anchor="middle" fill="#231f20" stroke="#231f20" stroke-width="0.2">0.1</text>
<line x1="608.74" y1="376.50" x2="608.74" y2="381.10" stroke="#231f20" stroke-width="1.2"/>
<text x="608.74" y="391.10" font-size="8.6" text-anchor="middle" fill="#231f20" stroke="#231f20" stroke-width="0.2">1</text>
<line x1="643.32" y1="376.50" x2="643.32" y2="381.10" stroke="#231f20" stroke-width="1.2"/>
<text x="643.32" y="391.10" font-size="8.6" text-anchor="middle" fill="#231f20" stroke="#231f20" stroke-width="0.2">10</text>
<line x1="677.90" y1="376.50" x2="677.90" y2="381.10" stroke="#231f20" stroke-width="1.2"/>
<text x="677.90" y="391.10" font-size="8.6" text-anchor="middle" fill="#231f20" stroke="#231f20" stroke-width="0.2">100</text>
<text x="480.30" y="319.00" font-size="9.5" text-anchor="middle" fill="#231f20" stroke="#231f20" stroke-width="0.2" transform="rotate(-90 480.30 319.00)">HiBiT-PXR Signal (%)</text>
<text x="591.40" y="403.70" font-size="9.5" text-anchor="middle" fill="#231f20" stroke="#231f20" stroke-width="0.2">[MD-224] (µM)</text>
<polyline points="510.56,296.67 511.81,296.67 513.06,296.67 514.31,296.67 515.56,296.67 516.81,296.67 518.06,296.67 519.31,296.67 520.56,296.67 521.81,296.67 523.06,296.67 524.31,296.67 525.56,296.67 526.81,296.67 528.06,296.67 529.31,296.67 530.56,296.67 531.81,296.67 533.06,296.67 534.31,296.67 535.56,296.67 536.81,296.67 538.06,296.67 539.31,296.67 540.56,296.67 541.81,296.67 543.06,296.67 544.31,296.67 545.56,296.67 546.81,296.67 548.06,296.67 549.31,296.67 550.56,296.67 551.81,296.67 553.06,296.68 554.31,296.68 555.56,296.68 556.81,296.68 558.06,296.68 559.31,296.69 560.56,296.69 561.81,296.70 563.06,296.71 564.31,296.71 565.56,296.73 566.81,296.74 568.06,296.76 569.31,296.78 570.56,296.80 571.81,296.83 573.06,296.87 574.31,296.92 575.56,296.98 576.81,297.05 578.06,297.14 579.31,297.25 580.56,297.38 581.81,297.53 583.06,297.72 584.31,297.95 585.56,298.21 586.81,298.52 588.06,298.87 589.31,299.27 590.55,299.71 591.80,300.20 593.05,300.72 594.30,301.27 595.55,301.84 596.80,302.40 598.05,302.95 599.30,303.49 600.55,303.98 601.80,304.44 603.05,304.85 604.30,305.21 605.55,305.53 606.80,305.81 608.05,306.04 609.30,306.24 610.55,306.40 611.80,306.54 613.05,306.65 614.30,306.74 615.55,306.82 616.80,306.88 618.05,306.93 619.30,306.97 620.55,307.00 621.80,307.03 623.05,307.05 624.30,307.07 625.55,307.09 626.80,307.10 628.05,307.11 629.30,307.11 630.55,307.12 631.80,307.12 633.05,307.13 634.30,307.13 635.55,307.13 636.80,307.14 638.05,307.14 639.30,307.14 640.55,307.14 641.80,307.14 643.05,307.14 644.30,307.14 645.55,307.14 646.80,307.14 648.05,307.14 649.30,307.14 650.55,307.14 651.80,307.14 653.05,307.14 654.30,307.14 655.55,307.14 656.80,307.14 658.05,307.14 659.30,307.14 660.55,307.14" fill="none" stroke="#1f9e6e" stroke-width="1.5" stroke-linejoin="round"/>
<polyline points="510.56,295.45 511.81,295.58 513.06,295.72 514.31,295.87 515.56,296.04 516.81,296.22 518.06,296.42 519.31,296.63 520.56,296.86 521.81,297.11 523.06,297.39 524.31,297.68 525.56,298.00 526.81,298.35 528.06,298.73 529.31,299.13 530.56,299.57 531.81,300.04 533.06,300.55 534.31,301.09 535.56,301.67 536.81,302.30 538.06,302.97 539.31,303.68 540.56,304.44 541.81,305.24 543.06,306.09 544.31,306.99 545.56,307.94 546.81,308.94 548.06,309.98 549.31,311.07 550.56,312.21 551.81,313.39 553.06,314.61 554.31,315.86 555.56,317.15 556.81,318.47 558.06,319.82 559.31,321.18 560.56,322.56 561.81,323.94 563.06,325.33 564.31,326.72 565.56,328.10 566.81,329.46 568.06,330.81 569.31,332.13 570.56,333.42 571.81,334.68 573.06,335.91 574.31,337.09 575.56,338.24 576.81,339.33 578.06,340.38 579.31,341.39 580.56,342.34 581.81,343.25 583.06,344.11 584.31,344.92 585.56,345.68 586.81,346.40 588.06,347.08 589.31,347.71 590.55,348.30 591.80,348.84 593.05,349.36 594.30,349.83 595.55,350.27 596.80,350.68 598.05,351.06 599.30,351.41 600.55,351.74 601.80,352.04 603.05,352.31 604.30,352.57 605.55,352.80 606.80,353.02 608.05,353.22 609.30,353.40 610.55,353.57 611.80,353.72 613.05,353.86 614.30,353.99 615.55,354.11 616.80,354.22 618.05,354.32 619.30,354.41 620.55,354.50 621.80,354.57 623.05,354.64 624.30,354.71 625.55,354.77 626.80,354.82 628.05,354.87 629.30,354.92 630.55,354.96 631.80,354.99 633.05,355.03 634.30,355.06 635.55,355.09 636.80,355.12 638.05,355.14 639.30,355.16 640.55,355.18 641.80,355.20 643.05,355.22 644.30,355.23 645.55,355.25 646.80,355.26 648.05,355.27 649.30,355.28 650.55,355.29 651.80,355.30 653.05,355.31 654.30,355.32 655.55,355.32 656.80,355.33 658.05,355.34 659.30,355.34 660.55,355.35" fill="none" stroke="#8b3aa0" stroke-width="1.5" stroke-linejoin="round"/>
<polyline points="510.56,303.18 511.81,303.20 513.06,303.22 514.31,303.25 515.56,303.28 516.81,303.31 518.06,303.34 519.31,303.38 520.56,303.42 521.81,303.47 523.06,303.52 524.31,303.58 525.56,303.64 526.81,303.72 528.06,303.80 529.31,303.89 530.56,303.99 531.81,304.11 533.06,304.23 534.31,304.37 535.56,304.53 536.81,304.71 538.06,304.90 539.31,305.12 540.56,305.36 541.81,305.63 543.06,305.92 544.31,306.25 545.56,306.61 546.81,307.01 548.06,307.45 549.31,307.93 550.56,308.46 551.81,309.04 553.06,309.68 554.31,310.37 555.56,311.12 556.81,311.94 558.06,312.82 559.31,313.77 560.56,314.78 561.81,315.87 563.06,317.02 564.31,318.24 565.56,319.52 566.81,320.87 568.06,322.26 569.31,323.71 570.56,325.21 571.81,326.73 573.06,328.28 574.31,329.85 575.56,331.43 576.81,333.00 578.06,334.56 579.31,336.09 580.56,337.59 581.81,339.06 583.06,340.47 584.31,341.83 585.56,343.13 586.81,344.37 588.06,345.54 589.31,346.64 590.55,347.68 591.80,348.64 593.05,349.54 594.30,350.38 595.55,351.15 596.80,351.85 598.05,352.51 599.30,353.10 600.55,353.65 601.80,354.14 603.05,354.59 604.30,355.00 605.55,355.38 606.80,355.71 608.05,356.02 609.30,356.29 610.55,356.54 611.80,356.76 613.05,356.96 614.30,357.14 615.55,357.31 616.80,357.45 618.05,357.58 619.30,357.70 620.55,357.80 621.80,357.90 623.05,357.98 624.30,358.06 625.55,358.13 626.80,358.19 628.05,358.24 629.30,358.29 630.55,358.33 631.80,358.37 633.05,358.41 634.30,358.44 635.55,358.47 636.80,358.49 638.05,358.51 639.30,358.53 640.55,358.55 641.80,358.57 643.05,358.58 644.30,358.59 645.55,358.60 646.80,358.61 648.05,358.62 649.30,358.63 650.55,358.64 651.80,358.64 653.05,358.65 654.30,358.66 655.55,358.66 656.80,358.66 658.05,358.67 659.30,358.67 660.55,358.67" fill="none" stroke="#231f20" stroke-width="1.5" stroke-linejoin="round"/>
<line x1="511.33" y1="291.62" x2="511.33" y2="301.56" stroke="#8b3aa0" stroke-width="0.9"/>
<line x1="508.53" y1="291.62" x2="514.13" y2="291.62" stroke="#8b3aa0" stroke-width="0.9"/>
<line x1="508.53" y1="301.56" x2="514.13" y2="301.56" stroke="#8b3aa0" stroke-width="0.9"/>
<line x1="527.83" y1="287.80" x2="527.83" y2="303.86" stroke="#8b3aa0" stroke-width="0.9"/>
<line x1="525.03" y1="287.80" x2="530.63" y2="287.80" stroke="#8b3aa0" stroke-width="0.9"/>
<line x1="525.03" y1="303.86" x2="530.63" y2="303.86" stroke="#8b3aa0" stroke-width="0.9"/>
<line x1="544.33" y1="296.36" x2="544.33" y2="319.30" stroke="#8b3aa0" stroke-width="0.9"/>
<line x1="541.53" y1="296.36" x2="547.13" y2="296.36" stroke="#8b3aa0" stroke-width="0.9"/>
<line x1="541.53" y1="319.30" x2="547.13" y2="319.30" stroke="#8b3aa0" stroke-width="0.9"/>
<line x1="560.83" y1="313.42" x2="560.83" y2="330.24" stroke="#8b3aa0" stroke-width="0.9"/>
<line x1="558.03" y1="313.42" x2="563.63" y2="313.42" stroke="#8b3aa0" stroke-width="0.9"/>
<line x1="558.03" y1="330.24" x2="563.63" y2="330.24" stroke="#8b3aa0" stroke-width="0.9"/>
<line x1="577.32" y1="327.71" x2="577.32" y2="352.95" stroke="#8b3aa0" stroke-width="0.9"/>
<line x1="574.52" y1="327.71" x2="580.12" y2="327.71" stroke="#8b3aa0" stroke-width="0.9"/>
<line x1="574.52" y1="352.95" x2="580.12" y2="352.95" stroke="#8b3aa0" stroke-width="0.9"/>
<line x1="593.82" y1="346.07" x2="593.82" y2="353.71" stroke="#8b3aa0" stroke-width="0.9"/>
<line x1="591.02" y1="346.07" x2="596.62" y2="346.07" stroke="#8b3aa0" stroke-width="0.9"/>
<line x1="591.02" y1="353.71" x2="596.62" y2="353.71" stroke="#8b3aa0" stroke-width="0.9"/>
<line x1="610.32" y1="350.42" x2="610.32" y2="356.54" stroke="#8b3aa0" stroke-width="0.9"/>
<line x1="607.52" y1="350.42" x2="613.12" y2="350.42" stroke="#8b3aa0" stroke-width="0.9"/>
<line x1="607.52" y1="356.54" x2="613.12" y2="356.54" stroke="#8b3aa0" stroke-width="0.9"/>
<line x1="626.82" y1="351.88" x2="626.82" y2="356.47" stroke="#8b3aa0" stroke-width="0.9"/>
<line x1="624.02" y1="351.88" x2="629.62" y2="351.88" stroke="#8b3aa0" stroke-width="0.9"/>
<line x1="624.02" y1="356.47" x2="629.62" y2="356.47" stroke="#8b3aa0" stroke-width="0.9"/>
<line x1="643.32" y1="352.41" x2="643.32" y2="358.53" stroke="#8b3aa0" stroke-width="0.9"/>
<line x1="640.52" y1="352.41" x2="646.12" y2="352.41" stroke="#8b3aa0" stroke-width="0.9"/>
<line x1="640.52" y1="358.53" x2="646.12" y2="358.53" stroke="#8b3aa0" stroke-width="0.9"/>
<line x1="659.82" y1="348.59" x2="659.82" y2="362.35" stroke="#8b3aa0" stroke-width="0.9"/>
<line x1="657.02" y1="348.59" x2="662.62" y2="348.59" stroke="#8b3aa0" stroke-width="0.9"/>
<line x1="657.02" y1="362.35" x2="662.62" y2="362.35" stroke="#8b3aa0" stroke-width="0.9"/>
<circle cx="511.33" cy="296.59" r="3.0" fill="#e2c2ea" stroke="#8b3aa0" stroke-width="0.9"/>
<circle cx="527.83" cy="295.83" r="3.0" fill="#e2c2ea" stroke="#8b3aa0" stroke-width="0.9"/>
<circle cx="544.33" cy="307.83" r="3.0" fill="#e2c2ea" stroke="#8b3aa0" stroke-width="0.9"/>
<circle cx="560.83" cy="321.83" r="3.0" fill="#e2c2ea" stroke="#8b3aa0" stroke-width="0.9"/>
<circle cx="577.32" cy="340.33" r="3.0" fill="#e2c2ea" stroke="#8b3aa0" stroke-width="0.9"/>
<circle cx="593.82" cy="349.89" r="3.0" fill="#e2c2ea" stroke="#8b3aa0" stroke-width="0.9"/>
<circle cx="610.32" cy="353.48" r="3.0" fill="#e2c2ea" stroke="#8b3aa0" stroke-width="0.9"/>
<circle cx="626.82" cy="354.17" r="3.0" fill="#e2c2ea" stroke="#8b3aa0" stroke-width="0.9"/>
<circle cx="643.32" cy="355.47" r="3.0" fill="#e2c2ea" stroke="#8b3aa0" stroke-width="0.9"/>
<circle cx="659.82" cy="355.47" r="3.0" fill="#e2c2ea" stroke="#8b3aa0" stroke-width="0.9"/>
<line x1="511.33" y1="290.93" x2="511.33" y2="303.17" stroke="#1f9e6e" stroke-width="0.9"/>
<line x1="508.53" y1="290.93" x2="514.13" y2="290.93" stroke="#1f9e6e" stroke-width="0.9"/>
<line x1="508.53" y1="303.17" x2="514.13" y2="303.17" stroke="#1f9e6e" stroke-width="0.9"/>
<line x1="527.83" y1="289.10" x2="527.83" y2="301.33" stroke="#1f9e6e" stroke-width="0.9"/>
<line x1="525.03" y1="289.10" x2="530.63" y2="289.10" stroke="#1f9e6e" stroke-width="0.9"/>
<line x1="525.03" y1="301.33" x2="530.63" y2="301.33" stroke="#1f9e6e" stroke-width="0.9"/>
<line x1="544.33" y1="290.48" x2="544.33" y2="302.71" stroke="#1f9e6e" stroke-width="0.9"/>
<line x1="541.53" y1="290.48" x2="547.13" y2="290.48" stroke="#1f9e6e" stroke-width="0.9"/>
<line x1="541.53" y1="302.71" x2="547.13" y2="302.71" stroke="#1f9e6e" stroke-width="0.9"/>
<line x1="593.82" y1="290.63" x2="593.82" y2="305.92" stroke="#1f9e6e" stroke-width="0.9"/>
<line x1="591.02" y1="290.63" x2="596.62" y2="290.63" stroke="#1f9e6e" stroke-width="0.9"/>
<line x1="591.02" y1="305.92" x2="596.62" y2="305.92" stroke="#1f9e6e" stroke-width="0.9"/>
<line x1="610.32" y1="301.79" x2="610.32" y2="314.03" stroke="#1f9e6e" stroke-width="0.9"/>
<line x1="607.52" y1="301.79" x2="613.12" y2="301.79" stroke="#1f9e6e" stroke-width="0.9"/>
<line x1="607.52" y1="314.03" x2="613.12" y2="314.03" stroke="#1f9e6e" stroke-width="0.9"/>
<line x1="626.82" y1="304.85" x2="626.82" y2="310.97" stroke="#1f9e6e" stroke-width="0.9"/>
<line x1="624.02" y1="304.85" x2="629.62" y2="304.85" stroke="#1f9e6e" stroke-width="0.9"/>
<line x1="624.02" y1="310.97" x2="629.62" y2="310.97" stroke="#1f9e6e" stroke-width="0.9"/>
<line x1="643.32" y1="300.19" x2="643.32" y2="310.89" stroke="#1f9e6e" stroke-width="0.9"/>
<line x1="640.52" y1="300.19" x2="646.12" y2="300.19" stroke="#1f9e6e" stroke-width="0.9"/>
<line x1="640.52" y1="310.89" x2="646.12" y2="310.89" stroke="#1f9e6e" stroke-width="0.9"/>
<line x1="659.82" y1="304.09" x2="659.82" y2="310.20" stroke="#1f9e6e" stroke-width="0.9"/>
<line x1="657.02" y1="304.09" x2="662.62" y2="304.09" stroke="#1f9e6e" stroke-width="0.9"/>
<line x1="657.02" y1="310.20" x2="662.62" y2="310.20" stroke="#1f9e6e" stroke-width="0.9"/>
<circle cx="511.33" cy="297.05" r="3.0" fill="#c3e8d8" stroke="#1f9e6e" stroke-width="0.9"/>
<circle cx="527.83" cy="295.22" r="3.0" fill="#c3e8d8" stroke="#1f9e6e" stroke-width="0.9"/>
<circle cx="544.33" cy="296.59" r="3.0" fill="#c3e8d8" stroke="#1f9e6e" stroke-width="0.9"/>
<circle cx="560.83" cy="298.27" r="3.0" fill="#c3e8d8" stroke="#1f9e6e" stroke-width="0.9"/>
<circle cx="577.32" cy="296.36" r="3.0" fill="#c3e8d8" stroke="#1f9e6e" stroke-width="0.9"/>
<circle cx="593.82" cy="298.27" r="3.0" fill="#c3e8d8" stroke="#1f9e6e" stroke-width="0.9"/>
<circle cx="610.32" cy="307.91" r="3.0" fill="#c3e8d8" stroke="#1f9e6e" stroke-width="0.9"/>
<circle cx="626.82" cy="307.91" r="3.0" fill="#c3e8d8" stroke="#1f9e6e" stroke-width="0.9"/>
<circle cx="643.32" cy="305.54" r="3.0" fill="#c3e8d8" stroke="#1f9e6e" stroke-width="0.9"/>
<circle cx="659.82" cy="307.14" r="3.0" fill="#c3e8d8" stroke="#1f9e6e" stroke-width="0.9"/>
<line x1="511.33" y1="292.23" x2="511.33" y2="309.06" stroke="#231f20" stroke-width="0.9"/>
<line x1="508.53" y1="292.23" x2="514.13" y2="292.23" stroke="#231f20" stroke-width="0.9"/>
<line x1="508.53" y1="309.06" x2="514.13" y2="309.06" stroke="#231f20" stroke-width="0.9"/>
<line x1="527.83" y1="297.43" x2="527.83" y2="315.02" stroke="#231f20" stroke-width="0.9"/>
<line x1="525.03" y1="297.43" x2="530.63" y2="297.43" stroke="#231f20" stroke-width="0.9"/>
<line x1="525.03" y1="315.02" x2="530.63" y2="315.02" stroke="#231f20" stroke-width="0.9"/>
<line x1="544.33" y1="303.47" x2="544.33" y2="311.43" stroke="#231f20" stroke-width="0.9"/>
<line x1="541.53" y1="303.47" x2="547.13" y2="303.47" stroke="#231f20" stroke-width="0.9"/>
<line x1="541.53" y1="311.43" x2="547.13" y2="311.43" stroke="#231f20" stroke-width="0.9"/>
<line x1="560.83" y1="304.77" x2="560.83" y2="321.60" stroke="#231f20" stroke-width="0.9"/>
<line x1="558.03" y1="304.77" x2="563.63" y2="304.77" stroke="#231f20" stroke-width="0.9"/>
<line x1="558.03" y1="321.60" x2="563.63" y2="321.60" stroke="#231f20" stroke-width="0.9"/>
<line x1="577.32" y1="330.93" x2="577.32" y2="338.57" stroke="#231f20" stroke-width="0.9"/>
<line x1="574.52" y1="330.93" x2="580.12" y2="330.93" stroke="#231f20" stroke-width="0.9"/>
<line x1="574.52" y1="338.57" x2="580.12" y2="338.57" stroke="#231f20" stroke-width="0.9"/>
<line x1="610.32" y1="352.57" x2="610.32" y2="360.21" stroke="#231f20" stroke-width="0.9"/>
<line x1="607.52" y1="352.57" x2="613.12" y2="352.57" stroke="#231f20" stroke-width="0.9"/>
<line x1="607.52" y1="360.21" x2="613.12" y2="360.21" stroke="#231f20" stroke-width="0.9"/>
<line x1="643.32" y1="353.10" x2="643.32" y2="366.87" stroke="#231f20" stroke-width="0.9"/>
<line x1="640.52" y1="353.10" x2="646.12" y2="353.10" stroke="#231f20" stroke-width="0.9"/>
<line x1="640.52" y1="366.87" x2="646.12" y2="366.87" stroke="#231f20" stroke-width="0.9"/>
<line x1="659.82" y1="356.85" x2="659.82" y2="364.49" stroke="#231f20" stroke-width="0.9"/>
<line x1="657.02" y1="356.85" x2="662.62" y2="356.85" stroke="#231f20" stroke-width="0.9"/>
<line x1="657.02" y1="364.49" x2="662.62" y2="364.49" stroke="#231f20" stroke-width="0.9"/>
<circle cx="511.33" cy="300.65" r="3.0" fill="#cfcfcf" stroke="#231f20" stroke-width="0.9"/>
<circle cx="527.83" cy="306.23" r="3.0" fill="#cfcfcf" stroke="#231f20" stroke-width="0.9"/>
<circle cx="544.33" cy="307.45" r="3.0" fill="#cfcfcf" stroke="#231f20" stroke-width="0.9"/>
<circle cx="560.83" cy="313.19" r="3.0" fill="#cfcfcf" stroke="#231f20" stroke-width="0.9"/>
<circle cx="577.32" cy="334.75" r="3.0" fill="#cfcfcf" stroke="#231f20" stroke-width="0.9"/>
<circle cx="593.82" cy="349.89" r="3.0" fill="#cfcfcf" stroke="#231f20" stroke-width="0.9"/>
<circle cx="610.32" cy="356.39" r="3.0" fill="#cfcfcf" stroke="#231f20" stroke-width="0.9"/>
<circle cx="626.82" cy="354.71" r="3.0" fill="#cfcfcf" stroke="#231f20" stroke-width="0.9"/>
<circle cx="643.32" cy="359.98" r="3.0" fill="#cfcfcf" stroke="#231f20" stroke-width="0.9"/>
<circle cx="659.82" cy="360.67" r="3.0" fill="#cfcfcf" stroke="#231f20" stroke-width="0.9"/>
<line x1="511.20" y1="267.30" x2="523.60" y2="267.30" stroke="#231f20" stroke-width="1.3"/>
<circle cx="517.40" cy="267.30" r="3.0" fill="#cfcfcf" stroke="#231f20" stroke-width="0.9"/>
<text x="530.20" y="270.60" font-size="9.5" text-anchor="start" fill="#231f20" stroke="#231f20" stroke-width="0.2">siNT</text>
<line x1="558.00" y1="267.30" x2="570.40" y2="267.30" stroke="#1f9e6e" stroke-width="1.3"/>
<circle cx="564.20" cy="267.30" r="3.0" fill="#c3e8d8" stroke="#1f9e6e" stroke-width="0.9"/>
<text x="577.20" y="270.60" font-size="9.5" text-anchor="start" fill="#231f20" stroke="#231f20" stroke-width="0.2">siCRBN</text>
<line x1="618.40" y1="267.30" x2="630.80" y2="267.30" stroke="#8b3aa0" stroke-width="1.3"/>
<circle cx="624.60" cy="267.30" r="3.0" fill="#e2c2ea" stroke="#8b3aa0" stroke-width="0.9"/>
<text x="637.80" y="270.60" font-size="9.5" text-anchor="start" fill="#231f20" stroke="#231f20" stroke-width="0.2">siMDM2</text>
<text x="466.50" y="426.00" font-size="12.2" text-anchor="start" fill="#231f20" stroke="#231f20" stroke-width="0.2" font-weight="bold">G</text>
<line x1="505.00" y1="426.20" x2="505.00" y2="542.60" stroke="#231f20" stroke-width="1.2"/>
<line x1="504.40" y1="542.00" x2="678.50" y2="542.00" stroke="#231f20" stroke-width="1.2"/>
<line x1="500.00" y1="542.00" x2="505.00" y2="542.00" stroke="#231f20" stroke-width="1.2"/>
<text x="499.00" y="545.00" font-size="8.6" text-anchor="end" fill="#231f20" stroke="#231f20" stroke-width="0.2">0</text>
<line x1="500.00" y1="503.60" x2="505.00" y2="503.60" stroke="#231f20" stroke-width="1.2"/>
<text x="499.00" y="506.60" font-size="8.6" text-anchor="end" fill="#231f20" stroke="#231f20" stroke-width="0.2">50</text>
<line x1="500.00" y1="465.20" x2="505.00" y2="465.20" stroke="#231f20" stroke-width="1.2"/>
<text x="499.00" y="468.20" font-size="8.6" text-anchor="end" fill="#231f20" stroke="#231f20" stroke-width="0.2">100</text>
<line x1="500.00" y1="426.80" x2="505.00" y2="426.80" stroke="#231f20" stroke-width="1.2"/>
<text x="499.00" y="429.80" font-size="8.6" text-anchor="end" fill="#231f20" stroke="#231f20" stroke-width="0.2">150</text>
<line x1="505.00" y1="542.00" x2="505.00" y2="546.60" stroke="#231f20" stroke-width="1.2"/>
<text x="505.00" y="556.60" font-size="8.6" text-anchor="middle" fill="#231f20" stroke="#231f20" stroke-width="0.2">0.001</text>
<line x1="539.58" y1="542.00" x2="539.58" y2="546.60" stroke="#231f20" stroke-width="1.2"/>
<text x="539.58" y="556.60" font-size="8.6" text-anchor="middle" fill="#231f20" stroke="#231f20" stroke-width="0.2">0.01</text>
<line x1="574.16" y1="542.00" x2="574.16" y2="546.60" stroke="#231f20" stroke-width="1.2"/>
<text x="574.16" y="556.60" font-size="8.6" text-anchor="middle" fill="#231f20" stroke="#231f20" stroke-width="0.2">0.1</text>
<line x1="608.74" y1="542.00" x2="608.74" y2="546.60" stroke="#231f20" stroke-width="1.2"/>
<text x="608.74" y="556.60" font-size="8.6" text-anchor="middle" fill="#231f20" stroke="#231f20" stroke-width="0.2">1</text>
<line x1="643.32" y1="542.00" x2="643.32" y2="546.60" stroke="#231f20" stroke-width="1.2"/>
<text x="643.32" y="556.60" font-size="8.6" text-anchor="middle" fill="#231f20" stroke="#231f20" stroke-width="0.2">10</text>
<line x1="677.90" y1="542.00" x2="677.90" y2="546.60" stroke="#231f20" stroke-width="1.2"/>
<text x="677.90" y="556.60" font-size="8.6" text-anchor="middle" fill="#231f20" stroke="#231f20" stroke-width="0.2">100</text>
<text x="480.30" y="484.00" font-size="9.5" text-anchor="middle" fill="#231f20" stroke="#231f20" stroke-width="0.2" transform="rotate(-90 480.30 484.00)">HiBiT-PXR Signal (%)</text>
<text x="591.40" y="570.00" font-size="9.5" text-anchor="middle" fill="#231f20" stroke="#231f20" stroke-width="0.2">[MD-224] (µM)</text>
<polyline points="514.88,473.08 516.13,473.42 517.38,473.77 518.63,474.13 519.88,474.48 521.13,474.84 522.38,475.20 523.63,475.56 524.88,475.93 526.13,476.29 527.38,476.66 528.63,477.03 529.88,477.40 531.13,477.77 532.38,478.14 533.63,478.51 534.88,478.88 536.13,479.25 537.38,479.62 538.63,479.99 539.88,480.36 541.13,480.72 542.38,481.09 543.63,481.45 544.88,481.82 546.13,482.18 547.38,482.53 548.63,482.89 549.88,483.24 551.13,483.59 552.38,483.94 553.63,484.29 554.88,484.63 556.13,484.96 557.38,485.30 558.63,485.63 559.88,485.95 561.13,486.27 562.38,486.59 563.63,486.91 564.88,487.22 566.13,487.52 567.38,487.82 568.63,488.11 569.88,488.41 571.13,488.69 572.38,488.97 573.63,489.25 574.88,489.52 576.13,489.79 577.38,490.05 578.63,490.30 579.88,490.55 581.13,490.80 582.38,491.04 583.63,491.28 584.88,491.51 586.13,491.73 587.38,491.95 588.63,492.17 589.88,492.38 591.13,492.59 592.38,492.79 593.63,492.98 594.88,493.18 596.13,493.36 597.38,493.55 598.63,493.72 599.88,493.90 601.13,494.07 602.37,494.23 603.62,494.39 604.87,494.55 606.12,494.70 607.37,494.85 608.62,494.99 609.87,495.13 611.12,495.27 612.37,495.40 613.62,495.53 614.87,495.65 616.12,495.77 617.37,495.89 618.62,496.01 619.87,496.12 621.12,496.23 622.37,496.33 623.62,496.43 624.87,496.53 626.12,496.63 627.37,496.72 628.62,496.81 629.87,496.90 631.12,496.98 632.37,497.06 633.62,497.14 634.87,497.22 636.12,497.30 637.37,497.37 638.62,497.44 639.87,497.51 641.12,497.57 642.37,497.64 643.62,497.70 644.87,497.76 646.12,497.81 647.37,497.87 648.62,497.92 649.87,497.98 651.12,498.03 652.37,498.08 653.62,498.12 654.87,498.17 656.12,498.21 657.37,498.26 658.62,498.30 659.87,498.34 661.12,498.38 662.37,498.42 663.62,498.45 664.87,498.49" fill="none" stroke="#8c8c34" stroke-width="1.5" stroke-linejoin="round"/>
<polyline points="514.88,476.13 516.13,476.13 517.38,476.13 518.63,476.13 519.88,476.13 521.13,476.13 522.38,476.13 523.63,476.13 524.88,476.13 526.13,476.13 527.38,476.13 528.63,476.13 529.88,476.13 531.13,476.13 532.38,476.13 533.63,476.13 534.88,476.13 536.13,476.13 537.38,476.14 538.63,476.14 539.88,476.14 541.13,476.14 542.38,476.14 543.63,476.14 544.88,476.15 546.13,476.15 547.38,476.15 548.63,476.16 549.88,476.16 551.13,476.17 552.38,476.18 553.63,476.19 554.88,476.20 556.13,476.21 557.38,476.22 558.63,476.24 559.88,476.26 561.13,476.29 562.38,476.31 563.63,476.35 564.88,476.38 566.13,476.43 567.38,476.48 568.63,476.54 569.88,476.62 571.13,476.70 572.38,476.80 573.63,476.92 574.88,477.05 576.13,477.21 577.38,477.40 578.63,477.61 579.88,477.86 581.13,478.15 582.38,478.49 583.63,478.88 584.88,479.32 586.13,479.83 587.38,480.41 588.63,481.07 589.88,481.82 591.13,482.65 592.38,483.57 593.63,484.60 594.88,485.71 596.13,486.92 597.38,488.22 598.63,489.60 599.88,491.04 601.13,492.52 602.37,494.04 603.62,495.57 604.87,497.10 606.12,498.59 607.37,500.04 608.62,501.42 609.87,502.73 611.12,503.95 612.37,505.08 613.62,506.12 614.87,507.05 616.12,507.90 617.37,508.65 618.62,509.32 619.87,509.92 621.12,510.43 622.37,510.89 623.62,511.28 624.87,511.63 626.12,511.92 627.37,512.18 628.62,512.40 629.87,512.59 631.12,512.75 632.37,512.89 633.62,513.01 634.87,513.11 636.12,513.19 637.37,513.27 638.62,513.33 639.87,513.39 641.12,513.43 642.37,513.47 643.62,513.50 644.87,513.53 646.12,513.56 647.37,513.58 648.62,513.59 649.87,513.61 651.12,513.62 652.37,513.63 653.62,513.64 654.87,513.65 656.12,513.65 657.37,513.66 658.62,513.66 659.87,513.67 661.12,513.67 662.37,513.68 663.62,513.68 664.87,513.68" fill="none" stroke="#3f4fb0" stroke-width="1.5" stroke-linejoin="round"/>
<polyline points="514.88,470.89 516.13,470.93 517.38,470.97 518.63,471.01 519.88,471.06 521.13,471.11 522.38,471.16 523.63,471.21 524.88,471.27 526.13,471.33 527.38,471.40 528.63,471.46 529.88,471.54 531.13,471.61 532.38,471.70 533.63,471.78 534.88,471.88 536.13,471.97 537.38,472.08 538.63,472.18 539.88,472.30 541.13,472.42 542.38,472.55 543.63,472.69 544.88,472.83 546.13,472.98 547.38,473.14 548.63,473.31 549.88,473.49 551.13,473.68 552.38,473.88 553.63,474.08 554.88,474.30 556.13,474.53 557.38,474.77 558.63,475.03 559.88,475.29 561.13,475.57 562.38,475.86 563.63,476.16 564.88,476.48 566.13,476.81 567.38,477.16 568.63,477.52 569.88,477.89 571.13,478.28 572.38,478.68 573.63,479.10 574.88,479.53 576.13,479.97 577.38,480.43 578.63,480.91 579.88,481.39 581.13,481.89 582.38,482.41 583.63,482.93 584.88,483.47 586.13,484.02 587.38,484.57 588.63,485.14 589.88,485.72 591.13,486.30 592.38,486.89 593.63,487.48 594.88,488.08 596.13,488.68 597.38,489.29 598.63,489.89 599.88,490.49 601.13,491.10 602.37,491.70 603.62,492.29 604.87,492.88 606.12,493.47 607.37,494.04 608.62,494.61 609.87,495.18 611.12,495.73 612.37,496.27 613.62,496.80 614.87,497.31 616.12,497.82 617.37,498.31 618.62,498.79 619.87,499.25 621.12,499.70 622.37,500.14 623.62,500.56 624.87,500.97 626.12,501.36 627.37,501.74 628.62,502.10 629.87,502.45 631.12,502.79 632.37,503.11 633.62,503.42 634.87,503.72 636.12,504.00 637.37,504.27 638.62,504.52 639.87,504.77 641.12,505.00 642.37,505.22 643.62,505.44 644.87,505.64 646.12,505.83 647.37,506.01 648.62,506.18 649.87,506.35 651.12,506.50 652.37,506.65 653.62,506.79 654.87,506.92 656.12,507.04 657.37,507.16 658.62,507.27 659.87,507.38 661.12,507.47 662.37,507.57 663.62,507.66 664.87,507.74" fill="none" stroke="#8b3aa0" stroke-width="1.5" stroke-linejoin="round"/>
<polyline points="514.88,474.37 516.13,474.46 517.38,474.56 518.63,474.68 519.88,474.80 521.13,474.95 522.38,475.10 523.63,475.27 524.88,475.46 526.13,475.67 527.38,475.90 528.63,476.16 529.88,476.44 531.13,476.74 532.38,477.08 533.63,477.45 534.88,477.86 536.13,478.30 537.38,478.79 538.63,479.32 539.88,479.89 541.13,480.52 542.38,481.20 543.63,481.93 544.88,482.72 546.13,483.57 547.38,484.48 548.63,485.45 549.88,486.49 551.13,487.59 552.38,488.75 553.63,489.97 554.88,491.25 556.13,492.59 557.38,493.97 558.63,495.40 559.88,496.87 561.13,498.38 562.38,499.91 563.63,501.45 564.88,503.01 566.13,504.56 567.38,506.11 568.63,507.64 569.88,509.14 571.13,510.61 572.38,512.05 573.63,513.43 574.88,514.77 576.13,516.05 577.38,517.28 578.63,518.44 579.88,519.54 581.13,520.58 582.38,521.55 583.63,522.46 584.88,523.31 586.13,524.10 587.38,524.84 588.63,525.52 589.88,526.14 591.13,526.72 592.38,527.25 593.63,527.74 594.88,528.18 596.13,528.59 597.38,528.96 598.63,529.30 599.88,529.61 601.13,529.89 602.37,530.14 603.62,530.37 604.87,530.58 606.12,530.77 607.37,530.94 608.62,531.10 609.87,531.24 611.12,531.37 612.37,531.48 613.62,531.59 614.87,531.68 616.12,531.77 617.37,531.84 618.62,531.91 619.87,531.97 621.12,532.03 622.37,532.08 623.62,532.13 624.87,532.17 626.12,532.20 627.37,532.24 628.62,532.27 629.87,532.29 631.12,532.32 632.37,532.34 633.62,532.36 634.87,532.38 636.12,532.39 637.37,532.41 638.62,532.42 639.87,532.43 641.12,532.44 642.37,532.45 643.62,532.46 644.87,532.47 646.12,532.48 647.37,532.48 648.62,532.49 649.87,532.49 651.12,532.50 652.37,532.50 653.62,532.51 654.87,532.51 656.12,532.51 657.37,532.51 658.62,532.52 659.87,532.52 661.12,532.52 662.37,532.52 663.62,532.52 664.87,532.53" fill="none" stroke="#1f9e6e" stroke-width="1.5" stroke-linejoin="round"/>
<polyline points="514.88,470.87 516.13,470.90 517.38,470.92 518.63,470.95 519.88,470.98 521.13,471.02 522.38,471.06 523.63,471.11 524.88,471.16 526.13,471.22 527.38,471.28 528.63,471.35 529.88,471.43 531.13,471.52 532.38,471.62 533.63,471.73 534.88,471.85 536.13,471.99 537.38,472.14 538.63,472.31 539.88,472.50 541.13,472.71 542.38,472.95 543.63,473.21 544.88,473.50 546.13,473.81 547.38,474.17 548.63,474.56 549.88,474.99 551.13,475.46 552.38,475.98 553.63,476.55 554.88,477.17 556.13,477.86 557.38,478.60 558.63,479.40 559.88,480.28 561.13,481.22 562.38,482.23 563.63,483.31 564.88,484.47 566.13,485.69 567.38,486.99 568.63,488.35 569.88,489.77 571.13,491.25 572.38,492.79 573.63,494.36 574.88,495.97 576.13,497.61 577.38,499.26 578.63,500.91 579.88,502.56 581.13,504.20 582.38,505.80 583.63,507.38 584.88,508.90 586.13,510.38 587.38,511.80 588.63,513.16 589.88,514.45 591.13,515.67 592.38,516.82 593.63,517.89 594.88,518.90 596.13,519.83 597.38,520.70 598.63,521.50 599.88,522.24 601.13,522.91 602.37,523.53 603.62,524.10 604.87,524.62 606.12,525.08 607.37,525.51 608.62,525.90 609.87,526.25 611.12,526.56 612.37,526.85 613.62,527.11 614.87,527.34 616.12,527.55 617.37,527.74 618.62,527.90 619.87,528.06 621.12,528.19 622.37,528.31 623.62,528.42 624.87,528.52 626.12,528.61 627.37,528.69 628.62,528.76 629.87,528.82 631.12,528.88 632.37,528.93 633.62,528.98 634.87,529.02 636.12,529.05 637.37,529.09 638.62,529.11 639.87,529.14 641.12,529.16 642.37,529.18 643.62,529.20 644.87,529.22 646.12,529.23 647.37,529.25 648.62,529.26 649.87,529.27 651.12,529.28 652.37,529.29 653.62,529.30 654.87,529.30 656.12,529.31 657.37,529.31 658.62,529.32 659.87,529.32 661.12,529.33 662.37,529.33 663.62,529.33 664.87,529.34" fill="none" stroke="#231f20" stroke-width="1.5" stroke-linejoin="round"/>
<line x1="515.65" y1="471.34" x2="515.65" y2="477.49" stroke="#8c8c34" stroke-width="0.9"/>
<line x1="512.85" y1="471.34" x2="518.45" y2="471.34" stroke="#8c8c34" stroke-width="0.9"/>
<line x1="512.85" y1="477.49" x2="518.45" y2="477.49" stroke="#8c8c34" stroke-width="0.9"/>
<line x1="532.15" y1="466.74" x2="532.15" y2="488.24" stroke="#8c8c34" stroke-width="0.9"/>
<line x1="529.35" y1="466.74" x2="534.95" y2="466.74" stroke="#8c8c34" stroke-width="0.9"/>
<line x1="529.35" y1="488.24" x2="534.95" y2="488.24" stroke="#8c8c34" stroke-width="0.9"/>
<line x1="548.65" y1="478.79" x2="548.65" y2="494.15" stroke="#8c8c34" stroke-width="0.9"/>
<line x1="545.85" y1="478.79" x2="551.45" y2="478.79" stroke="#8c8c34" stroke-width="0.9"/>
<line x1="545.85" y1="494.15" x2="551.45" y2="494.15" stroke="#8c8c34" stroke-width="0.9"/>
<line x1="565.15" y1="477.80" x2="565.15" y2="483.94" stroke="#8c8c34" stroke-width="0.9"/>
<line x1="562.35" y1="477.80" x2="567.95" y2="477.80" stroke="#8c8c34" stroke-width="0.9"/>
<line x1="562.35" y1="483.94" x2="567.95" y2="483.94" stroke="#8c8c34" stroke-width="0.9"/>
<line x1="581.64" y1="482.40" x2="581.64" y2="488.55" stroke="#8c8c34" stroke-width="0.9"/>
<line x1="578.84" y1="482.40" x2="584.44" y2="482.40" stroke="#8c8c34" stroke-width="0.9"/>
<line x1="578.84" y1="488.55" x2="584.44" y2="488.55" stroke="#8c8c34" stroke-width="0.9"/>
<line x1="598.14" y1="489.93" x2="598.14" y2="496.07" stroke="#8c8c34" stroke-width="0.9"/>
<line x1="595.34" y1="489.93" x2="600.94" y2="489.93" stroke="#8c8c34" stroke-width="0.9"/>
<line x1="595.34" y1="496.07" x2="600.94" y2="496.07" stroke="#8c8c34" stroke-width="0.9"/>
<line x1="614.64" y1="494.54" x2="614.64" y2="500.68" stroke="#8c8c34" stroke-width="0.9"/>
<line x1="611.84" y1="494.54" x2="617.44" y2="494.54" stroke="#8c8c34" stroke-width="0.9"/>
<line x1="611.84" y1="500.68" x2="617.44" y2="500.68" stroke="#8c8c34" stroke-width="0.9"/>
<line x1="631.14" y1="501.53" x2="631.14" y2="507.67" stroke="#8c8c34" stroke-width="0.9"/>
<line x1="628.34" y1="501.53" x2="633.94" y2="501.53" stroke="#8c8c34" stroke-width="0.9"/>
<line x1="628.34" y1="507.67" x2="633.94" y2="507.67" stroke="#8c8c34" stroke-width="0.9"/>
<line x1="647.64" y1="488.16" x2="647.64" y2="507.06" stroke="#8c8c34" stroke-width="0.9"/>
<line x1="644.84" y1="488.16" x2="650.44" y2="488.16" stroke="#8c8c34" stroke-width="0.9"/>
<line x1="644.84" y1="507.06" x2="650.44" y2="507.06" stroke="#8c8c34" stroke-width="0.9"/>
<line x1="664.14" y1="490.39" x2="664.14" y2="495.00" stroke="#8c8c34" stroke-width="0.9"/>
<line x1="661.34" y1="490.39" x2="666.94" y2="490.39" stroke="#8c8c34" stroke-width="0.9"/>
<line x1="661.34" y1="495.00" x2="666.94" y2="495.00" stroke="#8c8c34" stroke-width="0.9"/>
<circle cx="515.65" cy="474.42" r="3.0" fill="#eeeeb0" stroke="#8c8c34" stroke-width="0.9"/>
<circle cx="532.15" cy="477.49" r="3.0" fill="#eeeeb0" stroke="#8c8c34" stroke-width="0.9"/>
<circle cx="548.65" cy="486.47" r="3.0" fill="#eeeeb0" stroke="#8c8c34" stroke-width="0.9"/>
<circle cx="565.15" cy="480.87" r="3.0" fill="#eeeeb0" stroke="#8c8c34" stroke-width="0.9"/>
<circle cx="581.64" cy="485.48" r="3.0" fill="#eeeeb0" stroke="#8c8c34" stroke-width="0.9"/>
<circle cx="598.14" cy="493.00" r="3.0" fill="#eeeeb0" stroke="#8c8c34" stroke-width="0.9"/>
<circle cx="614.64" cy="497.61" r="3.0" fill="#eeeeb0" stroke="#8c8c34" stroke-width="0.9"/>
<circle cx="631.14" cy="504.60" r="3.0" fill="#eeeeb0" stroke="#8c8c34" stroke-width="0.9"/>
<circle cx="647.64" cy="497.61" r="3.0" fill="#eeeeb0" stroke="#8c8c34" stroke-width="0.9"/>
<circle cx="664.14" cy="492.69" r="3.0" fill="#eeeeb0" stroke="#8c8c34" stroke-width="0.9"/>
<line x1="515.65" y1="461.36" x2="515.65" y2="476.72" stroke="#3f4fb0" stroke-width="0.9"/>
<line x1="512.85" y1="461.36" x2="518.45" y2="461.36" stroke="#3f4fb0" stroke-width="0.9"/>
<line x1="512.85" y1="476.72" x2="518.45" y2="476.72" stroke="#3f4fb0" stroke-width="0.9"/>
<line x1="532.15" y1="462.90" x2="532.15" y2="492.08" stroke="#3f4fb0" stroke-width="0.9"/>
<line x1="529.35" y1="462.90" x2="534.95" y2="462.90" stroke="#3f4fb0" stroke-width="0.9"/>
<line x1="529.35" y1="492.08" x2="534.95" y2="492.08" stroke="#3f4fb0" stroke-width="0.9"/>
<line x1="548.65" y1="472.88" x2="548.65" y2="479.02" stroke="#3f4fb0" stroke-width="0.9"/>
<line x1="545.85" y1="472.88" x2="551.45" y2="472.88" stroke="#3f4fb0" stroke-width="0.9"/>
<line x1="545.85" y1="479.02" x2="551.45" y2="479.02" stroke="#3f4fb0" stroke-width="0.9"/>
<line x1="565.15" y1="480.56" x2="565.15" y2="486.70" stroke="#3f4fb0" stroke-width="0.9"/>
<line x1="562.35" y1="480.56" x2="567.95" y2="480.56" stroke="#3f4fb0" stroke-width="0.9"/>
<line x1="562.35" y1="486.70" x2="567.95" y2="486.70" stroke="#3f4fb0" stroke-width="0.9"/>
<line x1="581.64" y1="474.42" x2="581.64" y2="480.56" stroke="#3f4fb0" stroke-width="0.9"/>
<line x1="578.84" y1="474.42" x2="584.44" y2="474.42" stroke="#3f4fb0" stroke-width="0.9"/>
<line x1="578.84" y1="480.56" x2="584.44" y2="480.56" stroke="#3f4fb0" stroke-width="0.9"/>
<line x1="598.14" y1="485.55" x2="598.14" y2="491.70" stroke="#3f4fb0" stroke-width="0.9"/>
<line x1="595.34" y1="485.55" x2="600.94" y2="485.55" stroke="#3f4fb0" stroke-width="0.9"/>
<line x1="595.34" y1="491.70" x2="600.94" y2="491.70" stroke="#3f4fb0" stroke-width="0.9"/>
<line x1="614.64" y1="501.60" x2="614.64" y2="512.36" stroke="#3f4fb0" stroke-width="0.9"/>
<line x1="611.84" y1="501.60" x2="617.44" y2="501.60" stroke="#3f4fb0" stroke-width="0.9"/>
<line x1="611.84" y1="512.36" x2="617.44" y2="512.36" stroke="#3f4fb0" stroke-width="0.9"/>
<line x1="631.14" y1="513.66" x2="631.14" y2="521.34" stroke="#3f4fb0" stroke-width="0.9"/>
<line x1="628.34" y1="513.66" x2="633.94" y2="513.66" stroke="#3f4fb0" stroke-width="0.9"/>
<line x1="628.34" y1="521.34" x2="633.94" y2="521.34" stroke="#3f4fb0" stroke-width="0.9"/>
<line x1="647.64" y1="511.43" x2="647.64" y2="516.04" stroke="#3f4fb0" stroke-width="0.9"/>
<line x1="644.84" y1="511.43" x2="650.44" y2="511.43" stroke="#3f4fb0" stroke-width="0.9"/>
<line x1="644.84" y1="516.04" x2="650.44" y2="516.04" stroke="#3f4fb0" stroke-width="0.9"/>
<line x1="664.14" y1="507.13" x2="664.14" y2="513.28" stroke="#3f4fb0" stroke-width="0.9"/>
<line x1="661.34" y1="507.13" x2="666.94" y2="507.13" stroke="#3f4fb0" stroke-width="0.9"/>
<line x1="661.34" y1="513.28" x2="666.94" y2="513.28" stroke="#3f4fb0" stroke-width="0.9"/>
<circle cx="515.65" cy="469.04" r="3.0" fill="#6a78c8" stroke="#3f4fb0" stroke-width="0.9"/>
<circle cx="532.15" cy="477.49" r="3.0" fill="#6a78c8" stroke="#3f4fb0" stroke-width="0.9"/>
<circle cx="548.65" cy="475.95" r="3.0" fill="#6a78c8" stroke="#3f4fb0" stroke-width="0.9"/>
<circle cx="565.15" cy="483.63" r="3.0" fill="#6a78c8" stroke="#3f4fb0" stroke-width="0.9"/>
<circle cx="581.64" cy="477.49" r="3.0" fill="#6a78c8" stroke="#3f4fb0" stroke-width="0.9"/>
<circle cx="598.14" cy="488.62" r="3.0" fill="#6a78c8" stroke="#3f4fb0" stroke-width="0.9"/>
<circle cx="614.64" cy="506.98" r="3.0" fill="#6a78c8" stroke="#3f4fb0" stroke-width="0.9"/>
<circle cx="631.14" cy="517.50" r="3.0" fill="#6a78c8" stroke="#3f4fb0" stroke-width="0.9"/>
<circle cx="647.64" cy="513.74" r="3.0" fill="#6a78c8" stroke="#3f4fb0" stroke-width="0.9"/>
<circle cx="664.14" cy="510.20" r="3.0" fill="#6a78c8" stroke="#3f4fb0" stroke-width="0.9"/>
<line x1="515.65" y1="465.20" x2="515.65" y2="472.88" stroke="#8b3aa0" stroke-width="0.9"/>
<line x1="512.85" y1="465.20" x2="518.45" y2="465.20" stroke="#8b3aa0" stroke-width="0.9"/>
<line x1="512.85" y1="472.88" x2="518.45" y2="472.88" stroke="#8b3aa0" stroke-width="0.9"/>
<line x1="532.15" y1="468.73" x2="532.15" y2="474.88" stroke="#8b3aa0" stroke-width="0.9"/>
<line x1="529.35" y1="468.73" x2="534.95" y2="468.73" stroke="#8b3aa0" stroke-width="0.9"/>
<line x1="529.35" y1="474.88" x2="534.95" y2="474.88" stroke="#8b3aa0" stroke-width="0.9"/>
<line x1="548.65" y1="470.81" x2="548.65" y2="476.95" stroke="#8b3aa0" stroke-width="0.9"/>
<line x1="545.85" y1="470.81" x2="551.45" y2="470.81" stroke="#8b3aa0" stroke-width="0.9"/>
<line x1="545.85" y1="476.95" x2="551.45" y2="476.95" stroke="#8b3aa0" stroke-width="0.9"/>
<line x1="565.15" y1="468.96" x2="565.15" y2="492.77" stroke="#8b3aa0" stroke-width="0.9"/>
<line x1="562.35" y1="468.96" x2="567.95" y2="468.96" stroke="#8b3aa0" stroke-width="0.9"/>
<line x1="562.35" y1="492.77" x2="567.95" y2="492.77" stroke="#8b3aa0" stroke-width="0.9"/>
<line x1="581.64" y1="468.66" x2="581.64" y2="493.08" stroke="#8b3aa0" stroke-width="0.9"/>
<line x1="578.84" y1="468.66" x2="584.44" y2="468.66" stroke="#8b3aa0" stroke-width="0.9"/>
<line x1="578.84" y1="493.08" x2="584.44" y2="493.08" stroke="#8b3aa0" stroke-width="0.9"/>
<line x1="598.14" y1="479.41" x2="598.14" y2="498.61" stroke="#8b3aa0" stroke-width="0.9"/>
<line x1="595.34" y1="479.41" x2="600.94" y2="479.41" stroke="#8b3aa0" stroke-width="0.9"/>
<line x1="595.34" y1="498.61" x2="600.94" y2="498.61" stroke="#8b3aa0" stroke-width="0.9"/>
<line x1="614.64" y1="495.00" x2="614.64" y2="501.14" stroke="#8b3aa0" stroke-width="0.9"/>
<line x1="611.84" y1="495.00" x2="617.44" y2="495.00" stroke="#8b3aa0" stroke-width="0.9"/>
<line x1="611.84" y1="501.14" x2="617.44" y2="501.14" stroke="#8b3aa0" stroke-width="0.9"/>
<line x1="631.14" y1="506.75" x2="631.14" y2="512.89" stroke="#8b3aa0" stroke-width="0.9"/>
<line x1="628.34" y1="506.75" x2="633.94" y2="506.75" stroke="#8b3aa0" stroke-width="0.9"/>
<line x1="628.34" y1="512.89" x2="633.94" y2="512.89" stroke="#8b3aa0" stroke-width="0.9"/>
<line x1="647.64" y1="504.68" x2="647.64" y2="512.36" stroke="#8b3aa0" stroke-width="0.9"/>
<line x1="644.84" y1="504.68" x2="650.44" y2="504.68" stroke="#8b3aa0" stroke-width="0.9"/>
<line x1="644.84" y1="512.36" x2="650.44" y2="512.36" stroke="#8b3aa0" stroke-width="0.9"/>
<line x1="664.14" y1="497.76" x2="664.14" y2="505.44" stroke="#8b3aa0" stroke-width="0.9"/>
<line x1="661.34" y1="497.76" x2="666.94" y2="497.76" stroke="#8b3aa0" stroke-width="0.9"/>
<line x1="661.34" y1="505.44" x2="666.94" y2="505.44" stroke="#8b3aa0" stroke-width="0.9"/>
<circle cx="515.65" cy="469.04" r="3.0" fill="#e2c2ea" stroke="#8b3aa0" stroke-width="0.9"/>
<circle cx="532.15" cy="471.80" r="3.0" fill="#e2c2ea" stroke="#8b3aa0" stroke-width="0.9"/>
<circle cx="548.65" cy="473.88" r="3.0" fill="#e2c2ea" stroke="#8b3aa0" stroke-width="0.9"/>
<circle cx="565.15" cy="480.87" r="3.0" fill="#e2c2ea" stroke="#8b3aa0" stroke-width="0.9"/>
<circle cx="581.64" cy="480.87" r="3.0" fill="#e2c2ea" stroke="#8b3aa0" stroke-width="0.9"/>
<circle cx="598.14" cy="489.01" r="3.0" fill="#e2c2ea" stroke="#8b3aa0" stroke-width="0.9"/>
<circle cx="614.64" cy="498.07" r="3.0" fill="#e2c2ea" stroke="#8b3aa0" stroke-width="0.9"/>
<circle cx="631.14" cy="509.82" r="3.0" fill="#e2c2ea" stroke="#8b3aa0" stroke-width="0.9"/>
<circle cx="647.64" cy="508.52" r="3.0" fill="#e2c2ea" stroke="#8b3aa0" stroke-width="0.9"/>
<circle cx="664.14" cy="501.60" r="3.0" fill="#e2c2ea" stroke="#8b3aa0" stroke-width="0.9"/>
<line x1="515.65" y1="473.42" x2="515.65" y2="478.03" stroke="#1f9e6e" stroke-width="0.9"/>
<line x1="512.85" y1="473.42" x2="518.45" y2="473.42" stroke="#1f9e6e" stroke-width="0.9"/>
<line x1="512.85" y1="478.03" x2="518.45" y2="478.03" stroke="#1f9e6e" stroke-width="0.9"/>
<line x1="532.15" y1="469.04" x2="532.15" y2="484.40" stroke="#1f9e6e" stroke-width="0.9"/>
<line x1="529.35" y1="469.04" x2="534.95" y2="469.04" stroke="#1f9e6e" stroke-width="0.9"/>
<line x1="529.35" y1="484.40" x2="534.95" y2="484.40" stroke="#1f9e6e" stroke-width="0.9"/>
<line x1="548.65" y1="480.56" x2="548.65" y2="488.24" stroke="#1f9e6e" stroke-width="0.9"/>
<line x1="545.85" y1="480.56" x2="551.45" y2="480.56" stroke="#1f9e6e" stroke-width="0.9"/>
<line x1="545.85" y1="488.24" x2="551.45" y2="488.24" stroke="#1f9e6e" stroke-width="0.9"/>
<line x1="565.15" y1="503.29" x2="565.15" y2="507.90" stroke="#1f9e6e" stroke-width="0.9"/>
<line x1="562.35" y1="503.29" x2="567.95" y2="503.29" stroke="#1f9e6e" stroke-width="0.9"/>
<line x1="562.35" y1="507.90" x2="567.95" y2="507.90" stroke="#1f9e6e" stroke-width="0.9"/>
<line x1="581.64" y1="515.89" x2="581.64" y2="522.03" stroke="#1f9e6e" stroke-width="0.9"/>
<line x1="578.84" y1="515.89" x2="584.44" y2="515.89" stroke="#1f9e6e" stroke-width="0.9"/>
<line x1="578.84" y1="522.03" x2="584.44" y2="522.03" stroke="#1f9e6e" stroke-width="0.9"/>
<line x1="598.14" y1="527.18" x2="598.14" y2="531.79" stroke="#1f9e6e" stroke-width="0.9"/>
<line x1="595.34" y1="527.18" x2="600.94" y2="527.18" stroke="#1f9e6e" stroke-width="0.9"/>
<line x1="595.34" y1="531.79" x2="600.94" y2="531.79" stroke="#1f9e6e" stroke-width="0.9"/>
<line x1="614.64" y1="530.33" x2="614.64" y2="533.40" stroke="#1f9e6e" stroke-width="0.9"/>
<line x1="611.84" y1="530.33" x2="617.44" y2="530.33" stroke="#1f9e6e" stroke-width="0.9"/>
<line x1="611.84" y1="533.40" x2="617.44" y2="533.40" stroke="#1f9e6e" stroke-width="0.9"/>
<line x1="631.14" y1="531.09" x2="631.14" y2="534.17" stroke="#1f9e6e" stroke-width="0.9"/>
<line x1="628.34" y1="531.09" x2="633.94" y2="531.09" stroke="#1f9e6e" stroke-width="0.9"/>
<line x1="628.34" y1="534.17" x2="633.94" y2="534.17" stroke="#1f9e6e" stroke-width="0.9"/>
<line x1="647.64" y1="531.25" x2="647.64" y2="534.32" stroke="#1f9e6e" stroke-width="0.9"/>
<line x1="644.84" y1="531.25" x2="650.44" y2="531.25" stroke="#1f9e6e" stroke-width="0.9"/>
<line x1="644.84" y1="534.32" x2="650.44" y2="534.32" stroke="#1f9e6e" stroke-width="0.9"/>
<line x1="664.14" y1="531.25" x2="664.14" y2="534.32" stroke="#1f9e6e" stroke-width="0.9"/>
<line x1="661.34" y1="531.25" x2="666.94" y2="531.25" stroke="#1f9e6e" stroke-width="0.9"/>
<line x1="661.34" y1="534.32" x2="666.94" y2="534.32" stroke="#1f9e6e" stroke-width="0.9"/>
<circle cx="515.65" cy="475.72" r="3.0" fill="#c3e8d8" stroke="#1f9e6e" stroke-width="0.9"/>
<circle cx="532.15" cy="476.72" r="3.0" fill="#c3e8d8" stroke="#1f9e6e" stroke-width="0.9"/>
<circle cx="548.65" cy="484.40" r="3.0" fill="#c3e8d8" stroke="#1f9e6e" stroke-width="0.9"/>
<circle cx="565.15" cy="505.60" r="3.0" fill="#c3e8d8" stroke="#1f9e6e" stroke-width="0.9"/>
<circle cx="581.64" cy="518.96" r="3.0" fill="#c3e8d8" stroke="#1f9e6e" stroke-width="0.9"/>
<circle cx="598.14" cy="529.48" r="3.0" fill="#c3e8d8" stroke="#1f9e6e" stroke-width="0.9"/>
<circle cx="614.64" cy="531.86" r="3.0" fill="#c3e8d8" stroke="#1f9e6e" stroke-width="0.9"/>
<circle cx="631.14" cy="532.63" r="3.0" fill="#c3e8d8" stroke="#1f9e6e" stroke-width="0.9"/>
<circle cx="647.64" cy="532.78" r="3.0" fill="#c3e8d8" stroke="#1f9e6e" stroke-width="0.9"/>
<circle cx="664.14" cy="532.78" r="3.0" fill="#c3e8d8" stroke="#1f9e6e" stroke-width="0.9"/>
<line x1="515.65" y1="467.96" x2="515.65" y2="477.80" stroke="#231f20" stroke-width="0.9"/>
<line x1="512.85" y1="467.96" x2="518.45" y2="467.96" stroke="#231f20" stroke-width="0.9"/>
<line x1="512.85" y1="477.80" x2="518.45" y2="477.80" stroke="#231f20" stroke-width="0.9"/>
<line x1="532.15" y1="462.74" x2="532.15" y2="476.11" stroke="#231f20" stroke-width="0.9"/>
<line x1="529.35" y1="462.74" x2="534.95" y2="462.74" stroke="#231f20" stroke-width="0.9"/>
<line x1="529.35" y1="476.11" x2="534.95" y2="476.11" stroke="#231f20" stroke-width="0.9"/>
<line x1="548.65" y1="465.51" x2="548.65" y2="478.72" stroke="#231f20" stroke-width="0.9"/>
<line x1="545.85" y1="465.51" x2="551.45" y2="465.51" stroke="#231f20" stroke-width="0.9"/>
<line x1="545.85" y1="478.72" x2="551.45" y2="478.72" stroke="#231f20" stroke-width="0.9"/>
<line x1="565.15" y1="482.33" x2="565.15" y2="493.54" stroke="#231f20" stroke-width="0.9"/>
<line x1="562.35" y1="482.33" x2="567.95" y2="482.33" stroke="#231f20" stroke-width="0.9"/>
<line x1="562.35" y1="493.54" x2="567.95" y2="493.54" stroke="#231f20" stroke-width="0.9"/>
<line x1="581.64" y1="499.68" x2="581.64" y2="508.75" stroke="#231f20" stroke-width="0.9"/>
<line x1="578.84" y1="499.68" x2="584.44" y2="499.68" stroke="#231f20" stroke-width="0.9"/>
<line x1="578.84" y1="508.75" x2="584.44" y2="508.75" stroke="#231f20" stroke-width="0.9"/>
<line x1="598.14" y1="521.19" x2="598.14" y2="525.80" stroke="#231f20" stroke-width="0.9"/>
<line x1="595.34" y1="521.19" x2="600.94" y2="521.19" stroke="#231f20" stroke-width="0.9"/>
<line x1="595.34" y1="525.80" x2="600.94" y2="525.80" stroke="#231f20" stroke-width="0.9"/>
<line x1="614.64" y1="525.72" x2="614.64" y2="530.33" stroke="#231f20" stroke-width="0.9"/>
<line x1="611.84" y1="525.72" x2="617.44" y2="525.72" stroke="#231f20" stroke-width="0.9"/>
<line x1="611.84" y1="530.33" x2="617.44" y2="530.33" stroke="#231f20" stroke-width="0.9"/>
<line x1="631.14" y1="524.26" x2="631.14" y2="530.40" stroke="#231f20" stroke-width="0.9"/>
<line x1="628.34" y1="524.26" x2="633.94" y2="524.26" stroke="#231f20" stroke-width="0.9"/>
<line x1="628.34" y1="530.40" x2="633.94" y2="530.40" stroke="#231f20" stroke-width="0.9"/>
<line x1="647.64" y1="526.41" x2="647.64" y2="531.02" stroke="#231f20" stroke-width="0.9"/>
<line x1="644.84" y1="526.41" x2="650.44" y2="526.41" stroke="#231f20" stroke-width="0.9"/>
<line x1="644.84" y1="531.02" x2="650.44" y2="531.02" stroke="#231f20" stroke-width="0.9"/>
<line x1="664.14" y1="527.02" x2="664.14" y2="533.17" stroke="#231f20" stroke-width="0.9"/>
<line x1="661.34" y1="527.02" x2="666.94" y2="527.02" stroke="#231f20" stroke-width="0.9"/>
<line x1="661.34" y1="533.17" x2="666.94" y2="533.17" stroke="#231f20" stroke-width="0.9"/>
<circle cx="515.65" cy="472.88" r="3.0" fill="#cfcfcf" stroke="#231f20" stroke-width="0.9"/>
<circle cx="532.15" cy="469.42" r="3.0" fill="#cfcfcf" stroke="#231f20" stroke-width="0.9"/>
<circle cx="548.65" cy="472.11" r="3.0" fill="#cfcfcf" stroke="#231f20" stroke-width="0.9"/>
<circle cx="565.15" cy="487.93" r="3.0" fill="#cfcfcf" stroke="#231f20" stroke-width="0.9"/>
<circle cx="581.64" cy="504.21" r="3.0" fill="#cfcfcf" stroke="#231f20" stroke-width="0.9"/>
<circle cx="598.14" cy="523.49" r="3.0" fill="#cfcfcf" stroke="#231f20" stroke-width="0.9"/>
<circle cx="614.64" cy="528.02" r="3.0" fill="#cfcfcf" stroke="#231f20" stroke-width="0.9"/>
<circle cx="631.14" cy="527.33" r="3.0" fill="#cfcfcf" stroke="#231f20" stroke-width="0.9"/>
<circle cx="647.64" cy="528.71" r="3.0" fill="#cfcfcf" stroke="#231f20" stroke-width="0.9"/>
<circle cx="664.14" cy="530.10" r="3.0" fill="#cfcfcf" stroke="#231f20" stroke-width="0.9"/>
<line x1="513.00" y1="433.80" x2="525.40" y2="433.80" stroke="#231f20" stroke-width="1.3"/>
<circle cx="519.20" cy="433.80" r="3.0" fill="#cfcfcf" stroke="#231f20" stroke-width="0.9"/>
<text x="532.60" y="437.10" font-size="9.5" text-anchor="start" fill="#231f20" stroke="#231f20" stroke-width="0.2">DMSO</text>
<line x1="570.00" y1="433.80" x2="582.40" y2="433.80" stroke="#1f9e6e" stroke-width="1.3"/>
<circle cx="576.20" cy="433.80" r="3.0" fill="#c3e8d8" stroke="#1f9e6e" stroke-width="0.9"/>
<text x="589.30" y="437.10" font-size="9.5" text-anchor="start" fill="#231f20" stroke="#231f20" stroke-width="0.2">MI-1061</text>
<line x1="634.00" y1="433.80" x2="646.40" y2="433.80" stroke="#8b3aa0" stroke-width="1.3"/>
<circle cx="640.20" cy="433.80" r="3.0" fill="#e2c2ea" stroke="#8b3aa0" stroke-width="0.9"/>
<text x="652.60" y="437.10" font-size="9.5" text-anchor="start" fill="#231f20" stroke="#231f20" stroke-width="0.2">LEN</text>
<line x1="535.80" y1="446.10" x2="548.20" y2="446.10" stroke="#3f4fb0" stroke-width="1.3"/>
<circle cx="542.00" cy="446.10" r="3.0" fill="#6a78c8" stroke="#3f4fb0" stroke-width="0.9"/>
<text x="554.70" y="449.40" font-size="9.5" text-anchor="start" fill="#231f20" stroke="#231f20" stroke-width="0.2">LENP</text>
<line x1="590.80" y1="446.10" x2="603.20" y2="446.10" stroke="#8c8c34" stroke-width="1.3"/>
<circle cx="597.00" cy="446.10" r="3.0" fill="#eeeeb0" stroke="#8c8c34" stroke-width="0.9"/>
<text x="610.10" y="449.40" font-size="9.5" text-anchor="start" fill="#231f20" stroke="#231f20" stroke-width="0.2">MG-132</text>
<text x="466.80" y="181.80" font-size="12.2" text-anchor="start" fill="#231f20" stroke="#231f20" stroke-width="0.2" font-weight="bold">E</text>
<line x1="492.90" y1="197.90" x2="679.00" y2="197.90" stroke="#231f20" stroke-width="1.3"/>
<polygon points="684.4,197.9 676.0,193.1 678.3,197.9 676.0,202.7" fill="#231f20"/>
<line x1="492.90" y1="189.40" x2="492.90" y2="205.80" stroke="#231f20" stroke-width="1.2"/>
<text x="492.90" y="184.60" font-size="9.5" text-anchor="middle" fill="#231f20" stroke="#231f20" stroke-width="0.2">0 h</text>
<line x1="552.00" y1="189.40" x2="552.00" y2="205.80" stroke="#231f20" stroke-width="1.2"/>
<text x="552.00" y="184.60" font-size="9.5" text-anchor="middle" fill="#231f20" stroke="#231f20" stroke-width="0.2">48 h</text>
<line x1="610.50" y1="189.40" x2="610.50" y2="205.80" stroke="#231f20" stroke-width="1.2"/>
<text x="610.50" y="184.60" font-size="9.5" text-anchor="middle" fill="#231f20" stroke="#231f20" stroke-width="0.2">72 h</text>
<line x1="670.00" y1="189.40" x2="670.00" y2="205.80" stroke="#231f20" stroke-width="1.2"/>
<text x="670.00" y="184.60" font-size="9.5" text-anchor="middle" fill="#231f20" stroke="#231f20" stroke-width="0.2">74 h</text>
<text x="493.50" y="216.30" font-size="9.5" text-anchor="middle" fill="#231f20" stroke="#231f20" stroke-width="0.2">Reverse</text>
<text x="493.50" y="227.65" font-size="9.5" text-anchor="middle" fill="#231f20" stroke="#231f20" stroke-width="0.2">Transfect</text>
<text x="493.50" y="239.00" font-size="9.5" text-anchor="middle" fill="#231f20" stroke="#231f20" stroke-width="0.2">siRNA</text>
<text x="552.00" y="216.30" font-size="9.5" text-anchor="middle" fill="#231f20" stroke="#231f20" stroke-width="0.2">Transfer To</text>
<text x="552.00" y="227.65" font-size="9.5" text-anchor="middle" fill="#231f20" stroke="#231f20" stroke-width="0.2">384-Well</text>
<text x="552.00" y="239.00" font-size="9.5" text-anchor="middle" fill="#231f20" stroke="#231f20" stroke-width="0.2">Plates</text>
<text x="610.50" y="216.30" font-size="9.5" text-anchor="middle" fill="#231f20" stroke="#231f20" stroke-width="0.2">Treat</text>
<text x="610.50" y="227.65" font-size="9.5" text-anchor="middle" fill="#231f20" stroke="#231f20" stroke-width="0.2">With</text>
<text x="610.50" y="239.00" font-size="9.5" text-anchor="middle" fill="#231f20" stroke="#231f20" stroke-width="0.2">MD-224</text>
<text x="670.00" y="216.30" font-size="9.5" text-anchor="middle" fill="#231f20" stroke="#231f20" stroke-width="0.2">HiBiT</text>
<text x="670.00" y="227.65" font-size="9.5" text-anchor="middle" fill="#231f20" stroke="#231f20" stroke-width="0.2">Assay</text>
</svg></body></html>
